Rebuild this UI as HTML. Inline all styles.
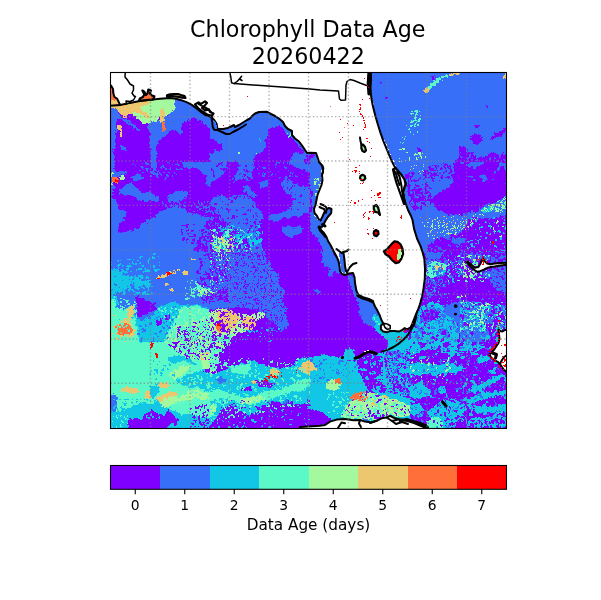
<!DOCTYPE html>
<html><head><meta charset="utf-8"><title>Chlorophyll Data Age</title>
<style>
html,body{margin:0;padding:0;background:#fff;}
body{width:601px;height:600px;overflow:hidden;}
svg{display:block;font-family:"DejaVu Sans","Liberation Sans",sans-serif;}
</style></head><body>
<svg width="601" height="600" viewBox="0 0 601 600">
<rect width="601" height="600" fill="#fff"/>
<defs><clipPath id="ax"><rect x="110.5" y="72.5" width="396" height="356"/></clipPath>
<filter id="jag" x="0" y="0" width="100%" height="100%" filterUnits="userSpaceOnUse" primitiveUnits="userSpaceOnUse" color-interpolation-filters="sRGB">
<feTurbulence type="fractalNoise" baseFrequency="0.35" numOctaves="2" seed="3" result="n"/>
<feDisplacementMap in="SourceGraphic" in2="n" scale="5" xChannelSelector="R" yChannelSelector="G"/>
</filter>
</defs>

<g clip-path="url(#ax)">
<g shape-rendering="crispEdges" filter="url(#jag)">
<rect x="102" y="64" width="108" height="98" fill="#8000ff"/>
<rect x="210" y="64" width="100" height="98" fill="#376ff9"/>
<rect x="310" y="64" width="100" height="98" fill="#ffffff"/>
<rect x="410" y="64" width="108" height="98" fill="#376ff9"/>
<rect x="102" y="162" width="108" height="90" fill="#8000ff"/>
<rect x="210" y="162" width="100" height="90" fill="#8000ff"/>
<rect x="310" y="162" width="100" height="90" fill="#ffffff"/>
<rect x="410" y="162" width="108" height="90" fill="#376ff9"/>
<rect x="102" y="252" width="108" height="90" fill="#376ff9"/>
<rect x="210" y="252" width="100" height="90" fill="#8000ff"/>
<rect x="310" y="252" width="100" height="90" fill="#8000ff"/>
<rect x="410" y="252" width="108" height="90" fill="#8000ff"/>
<rect x="102" y="342" width="108" height="98" fill="#5bf9c7"/>
<rect x="210" y="342" width="100" height="98" fill="#8000ff"/>
<rect x="310" y="342" width="100" height="98" fill="#12c7e6"/>
<rect x="410" y="342" width="108" height="98" fill="#8000ff"/>
<polygon fill="#376ff9" points="110,106.1 117.5,111.1 120,116.1 125,117.8 128.3,120.3 131.6,122.7 136.6,126.9 140,129.4 138.3,131.1 133.3,127.7 126.6,122.7 121.6,119.4 117.5,118.6 115.8,125.2 116.7,131.9 115,138.6 115.8,145.2 113.3,151.9 114.2,162 110,162"/>
<polygon fill="#376ff9" points="147.4,121.9 158.3,121.1 167.4,114.4 174.1,109.4 175.7,99.5 183.2,100.3 189.9,103.3 196.5,107.3 203.2,111.6 210,115.3 210,129.4 206.5,125.2 202.3,121.9 198.2,120.3 193.2,117.8 188.2,119.4 184,122.7 180.7,127.7 183.2,132.7 179.1,134.4 175.7,130.2 170.7,129.4 167.4,134.4 163.2,138.6 158.3,141.9 155.8,147.7 157.4,155.2 154.9,162 150.8,162 151.6,151.9 149.1,141.9 150.8,134.4 148.3,128.6"/>
<polygon fill="#376ff9" points="120,145.2 126.6,147.7 127.5,150.2 121.6,149.4"/>
<polygon fill="#edc76f" points="110,104.4 120,103.6 131.6,102 145.8,99.5 149.9,102.8 145.8,105.3 140.8,107.8 143.3,111.9 149.9,116.1 147.4,117.8 140,113.6 135,111.9 133.3,114.4 129.1,113.6 125.8,117.8 120.8,114.4 116.7,110.3 110,107.3"/>
<polygon fill="#a4f99f" points="145.8,99.5 156.6,98.3 166.6,97.8 175.7,98.6 174.6,109.4 167.4,114.9 164.9,115.6 164.1,107.8 160.7,107.8 159.9,116.1 157.4,121.1 149.9,121.9 147.4,123.9 142.4,123.9 140,120.3 135,116.9 131.6,114.4 135,111.9 140,113.6 147.4,117.8 149.9,116.1 143.3,111.9 140.8,107.8 145.8,105.3 149.9,102.8"/>
<polygon fill="#edc76f" points="160.7,107.8 164.1,107.8 164.9,115.6 163.2,121.9 159.9,121.9 159.9,116.1"/>
<polygon fill="#ff6f39" points="160.7,121.9 164.9,121.9 165.7,131.1 162.4,131.1"/>
<polygon fill="#edc76f" points="116.7,124.9 120,124.9 122.5,129.4 121.6,136.9 120,136.6 120.3,130.2 117.5,128.6"/>
<polygon fill="#ff6f39" points="110,85.6 111.3,85.6 113.7,92 115,97 116.7,98.6 113.3,100.3 110,100.3"/>
<polygon fill="#edc76f" points="110,100.3 113.3,100.3 116.7,98.6 118.3,99.5 120.3,104.1 110,105.8"/>
<polygon fill="#8000ff" points="210,137.7 215,140.2 220,143.5 222.5,146.9 220,151.9 215,150.2 213.3,153.5 210,151.9"/>
<polygon fill="#8000ff" points="268.2,129.4 273.2,126.9 279.9,125.2 283.2,128.6 288.2,136.1 294,139.4 299.9,146.9 304,152.7 299.9,155.2 296.5,151.9 292.4,153.5 289.9,162 251.6,162 254.9,156.9 259.9,153.5 264.9,150.2 266.6,145.2 264.9,140.2 268.2,135.2"/>
<polygon fill="#8000ff" points="306.5,155.2 310,154.4 310,162 304.8,162"/>
<polygon fill="#a4f99f" points="236.6,153.5 239.1,151.9 241.3,153.5 240,155.5 237,155.2"/>
<polygon fill="#5bf9c7" points="287.9,134.4 291.2,132.7 291.5,135.2 288.5,136.6"/>
<polygon fill="#12c7e6" points="259.1,137.7 260.7,137.7 260.7,141.9 259.1,141.9"/>
<polygon fill="#a4f99f" points="254.9,152.2 256.9,152.2 256.9,154.2 254.9,154.2"/>
<polygon fill="#376ff9" points="368.2,72 410,72 410,162 393.2,162 389,151.9 384,140.2 379.9,130.2 376.6,120.3 374.1,108.6 370.7,97 368.6,90.3 367.9,83.6 368.6,78.7"/>
<polygon fill="#376ff9" points="310,153 315.8,153.5 318.3,162 310,162"/>
<polygon fill="#8000ff" points="310,154.4 313.3,154.4 314.2,157.7 310,158.5"/>
<polygon fill="#8000ff" points="384.9,97 388.2,96.1 388.5,98.6 385.2,99.5"/>
<polygon fill="#8000ff" points="379.9,81.2 381.2,81.2 381.2,83.6 379.9,83.6"/>
<polygon fill="#5bf9c7" points="428.3,87.8 431.6,82.8 438.3,77.8 448.3,74.5 449.1,76.2 440,80.3 434.1,85.3 430,89.5"/>
<polygon fill="#edc76f" points="422.5,92 425,88.6 428.3,87.8 430,89.5 426.6,92.8"/>
<polygon fill="#edc76f" points="448.3,73.7 459.9,72.8 459.9,74.5 449.1,75.7"/>
<polygon fill="#8000ff" points="430.8,76.2 435,75.3 435,79.5 431.6,79.5"/>
<polygon fill="#edc76f" points="504,72.8 506.5,72.8 506.5,78.7 504.5,78.7"/>
<polygon fill="#8000ff" points="458.3,146.9 464.9,146 468.2,151.9 473.2,153.5 476.6,158.5 488.2,155.2 493.2,151.9 499.9,155.2 506.5,148.5 506.5,162 454.9,162 459.9,155.2"/>
<polygon fill="#8000ff" points="469.9,138.6 473.2,133.6 476.6,134.4 483.2,137.7 481.5,141.9 476.6,145.2 473.2,143.5"/>
<polygon fill="#8000ff" points="489.9,138.6 494.9,133.6 499.9,131.9 506.5,126.1 506.5,130.2 501.5,135.2 496.5,137.7 491.5,140.2"/>
<polygon fill="#8000ff" points="474.1,126.1 479.1,124.4 479.9,126.1 474.9,128.6"/>
<polygon fill="#8000ff" points="485.7,104.4 488.2,105.3 487.9,107.8 485.7,106.9"/>
<polygon fill="#8000ff" points="417.5,147.7 420,146.9 420.8,153.5 418.3,154.4"/>
<polygon fill="#376ff9" points="110,162 115,162 114.2,168.7 116.7,172 120,170.3 125,171.2 126.6,173.6 121.6,175.3 116.7,177 113.3,182 115,187 113.3,192 111.7,195.3 110,196.9"/>
<polygon fill="#376ff9" points="110,196.9 113.3,197.8 116.7,201.9 118.3,206.1 117.5,209.4 126.6,211.1 125.8,216.9 120.8,222.7 117.5,228.6 118.3,233.5 125,231.9 133.3,230.2 138.3,227.7 143.3,223.6 148.3,219.4 154.9,216.9 159.9,211.9 166.6,208.6 171.6,207.8 176.6,205.3 183.2,208.6 188.2,211.9 193.2,213.6 199.9,215.2 206.5,216.9 210,218.6 210,220.2 204.8,223.6 200.7,228.6 197.4,233.5 200.7,236.9 197.4,241.9 194,248.5 194.9,252 110,252"/>
<polygon fill="#376ff9" points="125.8,184.5 131.6,182.8 137.5,188.6 143.3,192.8 149.9,191.1 152.4,194.4 159.9,197.8 159.1,201.1 151.6,201.1 144.9,201.9 138.3,199.4 131.6,195.3 126.6,194.4 121.6,195.3 118.3,192.8 121.6,188.6"/>
<polygon fill="#376ff9" points="168.2,195.3 174.9,192.8 181.5,190.3 187.4,191.1 188.2,195.3 183.2,199.4 176.6,201.1 171.6,202.8 168.2,201.1"/>
<polygon fill="#376ff9" points="180.7,162 210,162 210,187 205.7,182.8 207.3,177.8 202.3,173.6 199.9,169.5 193.2,167 188.2,169.5 184,166.2"/>
<polygon fill="#376ff9" points="130,177.8 136.6,173.6 140.8,174.5 143.3,178.6 138.3,180.3 133.3,179.5"/>
<polygon fill="#376ff9" points="153.3,172.8 158.3,172 158.6,175 153.6,175.6"/>
<polygon fill="#376ff9" points="150.8,162 156.6,162 157.4,167 154.9,172 151.6,168.7"/>
<polygon fill="#a4f99f" points="120,176.1 124.1,175.3 124.6,178.6 120.8,180.3"/>
<polygon fill="#ff6f39" points="111.7,177 118.3,177.8 118.3,182.8 112.5,182"/>
<polygon fill="#ff0000" points="115,179.5 117.5,179.5 117.5,182.3 115,182.3"/>
<polygon fill="#a4f99f" points="110.8,172 114.2,172.8 113.3,177 110.8,177"/>
<polygon fill="#a4f99f" points="110.8,182.8 113.3,182.8 113.3,185.3 110.8,185.3"/>
<polygon fill="#5bf9c7" points="207.3,241.9 210,241.5 210,244.4 207.8,244.4"/>
<polygon fill="#376ff9" points="210,162 226.6,162 228.3,167 225,172 220,177 215,180.3 210,183.6"/>
<polygon fill="#376ff9" points="239.1,162 254.1,162 254.9,168.7 251.6,175.3 252.4,178.6 248.3,180.3 243.3,178.6 238.3,180.3 233.3,183.6 230,180.3 235,175.3 238.3,168.7"/>
<polygon fill="#376ff9" points="215,196.9 221.6,195.3 228.3,197.8 235,195.3 243.3,194.4 248.3,196.9 253.3,200.3 254.9,205.3 259.9,210.3 263.2,215.2 261.6,221.9 258.3,228.6 258.3,235.2 261.6,240.2 263.2,252 248.3,252 249.9,245.2 246.6,240.2 240,235.2 235,228.6 230,225.2 223.3,220.2 218.3,215.2 213.3,210.3 210,206.9 210,201.9"/>
<polygon fill="#376ff9" points="283.2,178.6 289.9,180.3 296.5,183.6 300.7,187 306.5,185.3 310,188.6 310,211.9 304.8,213.6 299.9,216.9 293.2,215.2 289.9,218.6 284.9,216.9 279.9,220.2 273.2,221.9 268.2,218.6 271.6,215.2 278.2,213.6 284.9,211.9 291.5,206.9 293.2,200.3 289.9,195.3 284.9,192 281.5,185.3"/>
<polygon fill="#376ff9" points="281.5,227.7 288.2,225.2 293.2,228.6 299.9,225.2 303.2,228.6 300.7,233.5 294.9,235.2 291.5,237.7 286.5,235.2 282.4,231.9"/>
<polygon fill="#376ff9" points="289.9,162 303.2,162 310,165.3 310,172 304.8,170.3 299.9,168.7 294.9,167 291.5,164.5"/>
<polygon fill="#376ff9" points="258.3,183.6 264.9,179.5 268.2,180.3 267.4,187 261.6,188.6"/>
<polygon fill="#376ff9" points="243.3,185.3 248.3,187 253.3,192 258.3,195.3 253.3,197.8 247.4,195.3 244.1,190.3"/>
<polygon fill="#12c7e6" points="220,227.7 231.6,227.7 231.6,231.9 220,231.9"/>
<polygon fill="#12c7e6" points="249.9,238.5 261.6,238.5 261.6,244.4 249.9,244.4"/>
<polygon fill="#12c7e6" points="235,235.2 243.3,235.2 244.1,241.9 236.6,243.5"/>
<polygon fill="#a4f99f" points="213.3,238.5 221.6,237.7 228.3,240.2 230,245.2 225,248.5 216.7,249.4 211.7,245.2"/>
<polygon fill="#edc76f" points="220,240.2 225,240.2 226.6,245.2 221.6,246.9"/>
<polygon fill="#376ff9" points="310,162 318.3,162 321.6,165.3 322.5,172 321.6,180.3 319.2,188.6 317.5,195.3 316.7,201.9 314.2,208.6 314.2,213.6 317.5,218.6 320,219.4 318.3,223.6 321.6,227.7 320.8,231.9 325,233.5 327.5,240.2 330.8,246.9 335.8,252 310,252"/>
<polygon fill="#8000ff" points="310,231.9 315,235.2 318.3,240.2 321.6,245.2 323.3,252 310,252"/>
<polygon fill="#8000ff" points="310,188.6 312,190.3 311.7,211.9 310,213.6"/>
<polygon fill="#376ff9" points="393.2,162 410,162 410,213.6 405.7,205.3 403.2,198.6 405.7,187 404.8,180.3 400.7,173.6 396.5,168.7"/>
<polygon fill="#8000ff" points="404.8,175.3 410,172 410,195.3 407.3,193.6 408.2,183.6"/>
<polygon fill="#8000ff" points="456.6,162 506.5,162 506.5,195.3 499.9,200.3 493.2,203.6 484.9,205.3 479.9,207.8 476.6,213.6 471.6,210.3 466.6,213.6 459.9,215.2 453.3,213.6 448.3,215.2 443.3,211.9 438.3,210.3 435,205.3 431.6,201.9 433.3,196.9 438.3,193.6 443.3,190.3 448.3,187 453.3,182 451.6,177 454.9,172 453.3,167"/>
<polygon fill="#8000ff" points="426.6,168.7 433.3,165.3 443.3,163.7 453.3,167 454.9,172 451.6,177 446.6,180.3 441.6,178.6 436.6,182 431.6,180.3 428.3,175.3"/>
<polygon fill="#8000ff" points="410,190.3 416.7,187 425,188.6 431.6,195.3 433.3,200.3 430,205.3 423.3,206.9 418.3,210.3 413.3,208.6 410,203.6"/>
<polygon fill="#8000ff" points="426.6,252 428.3,245.2 433.3,240.2 440,236.9 448.3,240.2 451.6,235.2 458.3,233.5 464.9,228.6 468.2,220.2 474.9,216.9 479.9,218.6 488.2,219.4 496.5,216.9 506.5,215.2 506.5,252"/>
<polygon fill="#376ff9" points="451.6,238.5 461.6,236.9 465.7,241.9 459.9,245.2 453.3,244.4"/>
<polygon fill="#376ff9" points="476.6,211.9 483.2,210.3 503.2,210.3 506.5,211.9 506.5,216.1 496.5,216.9 488.2,219.4 479.9,218.6"/>
<polygon fill="#12c7e6" points="481.5,210.3 484.9,206.9 493.2,206.1 494,209.4 488.2,211.9 483.2,211.9"/>
<polygon fill="#12c7e6" points="110,272 116.7,269.5 123.3,275.3 131.6,277 140,278.6 148.3,281.1 151.6,283.6 148.3,286.9 143.3,285.3 136.6,288.6 130,286.9 123.3,290.3 116.7,293.6 110,293.6"/>
<polygon fill="#12c7e6" points="110,293.6 116.7,296.1 118.3,301.9 116.7,308.6 123.3,310.2 131.6,307.7 135,311.9 136.6,318.6 143.3,320.2 153.3,315.2 156.6,308.6 163.2,305.2 171.6,301.9 179.9,303.6 188.2,305.2 196.5,303.6 203.2,306.9 210,310.2 210,342 110,342"/>
<polygon fill="#8000ff" points="137.5,293.6 140.8,298.6 148.3,301.1 154.9,303.6 155.8,308.6 151.6,312.7 144.9,314.4 140,317.7 136.6,313.6 137.5,306.9 135,301.9"/>
<polygon fill="#8000ff" points="154.9,320.2 161.6,319.4 162.4,325.2 155.8,325.2"/>
<polygon fill="#8000ff" points="164.9,315.2 169.9,314.9 170.2,320.2 165.2,320.6"/>
<polygon fill="#5bf9c7" points="110,300.3 115,298.6 116.7,308.6 123.3,311.1 126.6,308.6 130,310.2 125,315.2 120,318.6 116.7,323.5 113.3,325.2 110,323.5"/>
<polygon fill="#5bf9c7" points="179.9,306.9 188.2,306.9 196.5,305.2 203.2,308.6 210,310.2 210,342 164.9,342 166.6,331.9 173.2,323.5 178.2,315.2"/>
<polygon fill="#5bf9c7" points="110,323.5 116.7,321.9 125,315.2 135,318.6 137.5,330.2 138.3,342 110,342"/>
<polygon fill="#edc76f" points="128.3,306.9 133.3,304.4 135,311.9 131.6,318.6 126.6,323.5 122.5,324.4 120.8,321.9 125,316.9 126.6,311.9"/>
<polygon fill="#edc76f" points="114.2,326 120,321.9 129.1,322.2 134.1,326.9 135,334.4 129.1,337.2 120.8,336.9 114.7,333.2"/>
<polygon fill="#ff6f39" points="115,326.9 120,323.5 126.6,323.5 131.6,326.9 133.3,331.9 128.3,335.2 121.6,335.2 116.7,333.5"/>
<polygon fill="#edc76f" points="156.6,277 166.6,273.6 179.9,268.6 180.7,270.3 168.2,276.1 158.3,279.5"/>
<polygon fill="#ff0000" points="166.6,273.6 172.4,272 173.2,273.6 167.4,275.3"/>
<polygon fill="#ff0000" points="157.4,277.8 160.7,277.5 160.7,278.8 157.4,279"/>
<polygon fill="#edc76f" points="183.2,271.1 188.2,270.6 188.2,274.5 183.5,274.5"/>
<polygon fill="#edc76f" points="190.7,257.8 195.7,257.5 195.7,260.3 191,260.3"/>
<polygon fill="#edc76f" points="164.1,283.6 169.9,283.3 169.9,284.9 164.1,285.3"/>
<polygon fill="#edc76f" points="169.1,289.4 174.1,289.1 174.1,291.1 169.1,291.3"/>
<polygon fill="#376ff9" points="210,252 264.9,252 266.6,258.7 271.6,263.6 273.2,270.3 279.9,275.3 278.2,283.6 284.9,290.3 283.2,300.3 286.5,308.6 286.5,318.6 289.9,325.2 283.2,330.2 276.6,325.2 269.9,320.2 263.2,313.6 256.6,310.2 248.3,308.6 240,306.9 231.6,307.7 223.3,307.7 216.7,308.6 210,308.6"/>
<polygon fill="#a4f99f" points="210,311.9 220,308.6 230,310.2 240,313.6 248.3,315.2 259.9,311.9 266.6,314.4 261.6,318.6 256.6,320.2 253.3,325.2 248.3,330.2 240,333.5 230,338.5 220,340.2 210,342"/>
<polygon fill="#edc76f" points="216.7,311.9 226.6,309.4 235,311.9 240,318.6 236.6,325.2 230,331.9 220,333.5 215,328.5 220,321.9 216.7,316.9"/>
<polygon fill="#edc76f" points="241.6,318.6 248.3,316.1 254.9,318.6 256.6,325.2 251.6,330.2 244.9,328.5 241.6,323.5"/>
<polygon fill="#ff6f39" points="215.8,321.9 221.6,320.2 223.3,326.9 220,331.9 215.8,330.2"/>
<polygon fill="#ff0000" points="216.7,322.7 220,322.2 220.3,326 217,326.4"/>
<polygon fill="#5bf9c7" points="210,333.5 220,335.2 231.6,334.4 230,342 210,342"/>
<polygon fill="#376ff9" points="320,252 332.5,252 336.6,257 340,262 340.8,268.6 339.1,273.6 335,270.3 331.6,277 328.3,273.6 330,268.6 325,267 321.6,262 323.3,257"/>
<polygon fill="#376ff9" points="340.8,252 345.8,252 346.6,270.3 343.3,272.8"/>
<polygon fill="#376ff9" points="357.4,301.9 359.9,297.8 366.6,299.4 373.2,301.9 375.7,308.6 379.9,315.2 381.5,321.9 380.7,327.7 383.2,331 379.9,333.5 376.6,330.2 373.2,326.9 368.2,326.9 363.2,321.9 361.6,316.9 358.3,315.2 359.9,308.6"/>
<polygon fill="#376ff9" points="347.4,273.6 354.1,277 354.9,285.3 358.3,293.6 359.9,298.6 357.4,301.9 354.1,295.3 350.8,286.9 349.1,280.3"/>
<polygon fill="#12c7e6" points="371.6,316.9 375.7,313.6 379.9,316.1 381.5,321.9 380.7,327.7 384,331.9 396.5,331 403.2,329.4 408.2,335.2 410,338.5 410,342 388.2,342 383.2,336.9 378.2,333.5 374.9,328.5 375.7,323.5"/>
<polygon fill="#8000ff" points="407.3,336 410,339.4 410,342 408.2,342"/>
<polygon fill="#376ff9" points="312.5,289.4 317.5,288.6 320.8,292.8 316.7,293.6"/>
<polygon fill="#5bf9c7" points="426.6,263.6 433.3,260.3 440,262 448.3,265.3 446.6,272 440,275.3 433.3,278.6 426.6,277"/>
<polygon fill="#edc76f" points="435,265.3 443.3,265 444.1,269.5 435.8,270.3"/>
<polygon fill="#376ff9" points="464.9,252 506.5,252 506.5,262 493.2,263.6 484.9,264.5 481.5,258.7 476.6,262 469.9,260.3"/>
<polygon fill="#376ff9" points="476.6,272 484.9,270.3 496.5,267 506.5,266.1 506.5,293.6 499.9,291.9 493.2,285.3 486.5,278.6 479.9,277"/>
<polygon fill="#12c7e6" points="420,306.9 430,301.9 440,303.6 448.3,306.9 456.6,308.6 459.9,318.6 456.6,325.2 459.9,331.9 456.6,342 410,342 411.7,330.2 416.7,318.6"/>
<polygon fill="#376ff9" points="443.3,305.2 456.6,301.9 466.6,300.3 476.6,303.6 483.2,306.9 488.2,315.2 484.9,325.2 488.2,335.2 483.2,342 459.9,342 459.9,331.9 458.3,325.2 451.6,318.6 443.3,311.9"/>
<polygon fill="#8000ff" points="421.6,310.2 431.6,308.6 440,311.9 436.6,318.6 426.6,321.9 420,318.6"/>
<polygon fill="#376ff9" points="425,252 443.3,252 440,258.7 430,260.3 425.8,258.7"/>
<polygon fill="#12c7e6" points="168.2,357 179.9,355.3 189.9,358.6 196.5,365.3 189.9,363.6 184.9,360.3 179.9,362 173.2,363.6 168.2,360.3"/>
<polygon fill="#8000ff" points="203.2,367 210,362 210,376.1 205.7,375.3"/>
<polygon fill="#12c7e6" points="176.6,380.3 184.9,375.3 196.5,372 203.2,370.3 210,372 210,391.9 203.2,390.3 196.5,386.9 189.9,388.6 183.2,385.3 178.2,383.6"/>
<polygon fill="#12c7e6" points="149.9,386.9 156.6,384.4 159.9,388.6 158.3,393.6 153.3,398.6 148.3,396.9 149.1,391.9"/>
<polygon fill="#12c7e6" points="110,408.6 116.7,411.9 126.6,408.6 135,405.2 143.3,401.9 149.9,403.6 156.6,401.9 163.2,405.2 169.9,408.6 176.6,411.9 183.2,415.2 189.9,413.5 196.5,415.2 203.2,418.5 210,416.9 210,428.5 110,428.5"/>
<polygon fill="#8000ff" points="128.3,420.2 135,417.7 141.6,420.2 143.3,415.2 151.6,410.2 158.3,413.5 164.9,415.2 168.2,410.2 173.2,413.5 178.2,420.2 176.6,425.2 169.9,423.5 166.6,428.5 128.3,428.5"/>
<polygon fill="#376ff9" points="110,393.6 115.8,394.4 117.5,400.2 116.7,408.6 113.3,411.9 110,411.9"/>
<polygon fill="#a4f99f" points="169.9,373.6 176.6,368.6 183.2,365.3 189.9,367 184.9,373.6 176.6,378.6 173.2,380.3"/>
<polygon fill="#a4f99f" points="159.9,400.2 169.9,396.9 179.9,395.2 188.2,390.3 196.5,388.6 203.2,391.9 210,393.6 210,398.6 203.2,400.2 196.5,398.6 189.9,400.2 181.5,401.9 173.2,403.6 166.6,406.9 159.9,405.2"/>
<polygon fill="#a4f99f" points="199.9,353.6 210,352 210,370.3 203.2,369.5 200.7,362"/>
<polygon fill="#edc76f" points="156.6,383.6 166.6,381.9 171.6,385.3 166.6,388.6 159.9,387.8"/>
<polygon fill="#edc76f" points="154.9,398.6 161.6,395.2 169.9,391.9 176.6,391.9 178.2,395.2 169.9,396.9 159.9,401.1"/>
<polygon fill="#edc76f" points="120,388.6 130,386.9 136.6,388.6 140,391.9 133.3,393.6 126.6,391.9 121.6,392.7"/>
<polygon fill="#edc76f" points="144.1,391.9 149.9,390.3 150.8,397.7 144.9,398.6"/>
<polygon fill="#ff0000" points="149.9,343.7 154.1,342.8 152.4,349.5 149.1,348.7"/>
<polygon fill="#ff0000" points="154.9,352.8 158.3,353.6 157.4,357 154.9,356.1"/>
<polygon fill="#5bf9c7" points="210,342 231,342 228.3,345.7 221.6,352.3 217.7,361.6 216.7,373.6 210,374.9"/>
<polygon fill="#12c7e6" points="210,374.9 217.7,373.6 223.3,370.3 228.3,367 233.3,365.3 240,363.6 248.3,362 254.9,360.3 259.9,363.6 266.6,365.3 273.2,367 279.9,368.6 286.5,367 293.2,365.3 298.2,360.3 303.2,357 310,357 310,398.6 304.8,403.6 298.2,405.2 293.2,403.6 288.2,400.2 281.5,403.6 276.6,400.2 271.6,401.9 266.6,406.9 259.9,408.6 254.9,413.5 248.3,415.2 243.3,411.9 236.6,408.6 230,405.2 225,406.9 220,411.9 216.7,416.9 213.3,421.9 210,423.5"/>
<polygon fill="#8000ff" points="254.9,380.3 261.6,379.4 268.2,381.9 274.9,383.6 271.6,386.9 263.2,387.8 258.3,385.3"/>
<polygon fill="#8000ff" points="240,388.6 249.9,386.9 253.3,389.4 244.9,391.1"/>
<polygon fill="#376ff9" points="215,378.6 220,376.9 226.6,379.4 225,382.8 216.7,382.8"/>
<polygon fill="#5bf9c7" points="230,367 240,365.3 248.3,363.6 251.6,368.6 246.6,375.3 238.3,373.6 231.6,372"/>
<polygon fill="#5bf9c7" points="210,391.9 216.7,388.6 226.6,391.9 236.6,395.2 246.6,398.6 259.9,393.6 269.9,390.3 279.9,388.6 289.9,385.3 299.9,380.3 310,376.9 310,385.3 303.2,390.3 293.2,391.9 283.2,395.2 273.2,398.6 263.2,401.9 253.3,405.2 243.3,403.6 233.3,400.2 223.3,398.6 215,400.2 210,401.9"/>
<polygon fill="#a4f99f" points="240,400.2 249.9,396.9 259.9,395.2 264.9,398.6 256.6,401.9 248.3,404.4 241.6,403.6"/>
<polygon fill="#a4f99f" points="210,405.2 215,403.6 216.7,408.6 213.3,415.2 210,416.9"/>
<polygon fill="#edc76f" points="269.1,369.5 274.9,367.8 279.9,371.1 278.2,375.3 273.2,377.8 269.9,374.4"/>
<polygon fill="#edc76f" points="298.2,367 303.2,362 310,360.3 310,375.3 304.8,373.6 299.9,371.1"/>
<polygon fill="#edc76f" points="251.6,381.1 255.8,380.6 256.3,383.6 251.9,383.9"/>
<polygon fill="#376ff9" points="283.2,400.2 288.2,400.2 288.2,404.4 283.2,403.9"/>
<polygon fill="#8000ff" points="310,342 388.2,342 388.2,346.7 383.2,350.3 376.6,354.5 366.6,356.1 359.9,358.6 354.9,357.5 354.1,350 349.9,348.3 344.9,350 343.3,357.5 330,355.8 323.3,354.1 316.7,355.8 310,357.5"/>
<polygon fill="#8000ff" points="358.3,358.6 366.6,357 376.6,355.3 381.5,358.6 383.2,367 379.9,373.6 376.6,380.3 383.2,383.6 388.2,388.6 383.2,393.6 376.6,391.9 371.6,393.6 366.6,390.3 364.9,383.6 361.6,376.9 358.3,370.3"/>
<polygon fill="#8000ff" points="310,408.6 315,410.2 320,411.9 326.6,415.2 331.6,420.2 328.3,423.5 320,426 310,427.2"/>
<polygon fill="#a4f99f" points="341.6,415.2 344.9,408.6 348.3,401.9 353.3,398.6 359.9,393.6 366.6,391.1 373.2,393.6 379.9,395.2 386.5,396.9 393.2,398.6 399.9,400.2 406.5,403.6 410,405.2 410,415.2 403.2,416.9 396.5,416.9 389.9,415.2 383.2,418.5 376.6,420.2 369.9,419.4 363.2,420.2 356.6,418.5 349.9,418.5 343.3,419.4"/>
<polygon fill="#8000ff" points="371.6,413.5 376.6,411.9 383.2,415.2 388.2,413.5 386.5,418.5 379.9,420.2 373.2,418.5"/>
<polygon fill="#a4f99f" points="325.8,383.6 331.6,379.4 338.3,379.4 341.6,383.6 338.3,389.4 330,390.3 325.8,387.8"/>
<polygon fill="#ff6f39" points="335,378.9 340.8,379.4 341.3,382.8 335.8,382.8"/>
<polygon fill="#ff6f39" points="350.8,396.9 356.6,392.7 364.9,391.9 368.2,396.9 364.9,401.1 356.6,400.2 351.6,399.4"/>
<polygon fill="#edc76f" points="310,362 315,362.8 315.8,369.5 310,371.1"/>
<polygon fill="#376ff9" points="363.2,419.4 368.2,418.5 369.1,421.9 364.1,422.2"/>
<polygon fill="#12c7e6" points="410,342 479.9,342 483.2,347 476.6,352 468.2,353.6 459.9,352 451.6,355.3 443.3,352 435,350.3 426.6,348.7 418.3,352 410,353.6"/>
<polygon fill="#12c7e6" points="410,363.6 420,362 430,365.3 440,363.6 449.9,367 459.9,365.3 464.9,368.6 456.6,373.6 446.6,372 436.6,375.3 426.6,373.6 418.3,375.3 410,373.6"/>
<polygon fill="#12c7e6" points="468.2,390.3 479.9,383.6 489.9,378.6 503.2,373.6 506.5,375.3 496.5,381.9 484.9,388.6 473.2,393.6"/>
<polygon fill="#12c7e6" points="464.9,400.2 476.6,395.2 489.9,391.9 506.5,390.3 506.5,395.2 493.2,396.9 479.9,400.2 469.9,405.2"/>
<polygon fill="#12c7e6" points="426.6,411.9 435,405.2 443.3,400.2 453.3,398.6 463.2,401.9 466.6,408.6 463.2,415.2 456.6,421.9 454.9,428.5 426.6,428.5 430,420.2"/>
<polygon fill="#5bf9c7" points="426.6,421.9 433.3,416.9 440,418.5 443.3,423.5 441.6,428.5 426.6,428.5"/>
<polygon fill="#12c7e6" points="410,385.3 418.3,383.6 426.6,386.9 431.6,391.9 426.6,396.9 418.3,398.6 410,396.9"/>
<polygon fill="#12c7e6" points="410,405.2 416.7,403.6 423.3,406.9 421.6,411.9 415,415.2 410,413.5"/>
<polygon fill="#12c7e6" points="473.2,408.6 483.2,405.2 493.2,406.9 503.2,403.6 506.5,405.2 506.5,411.9 496.5,413.5 486.5,411.9 476.6,413.5"/>
<polygon fill="#12c7e6" points="476.6,357 488.2,355.3 489.9,358.6 483.2,363.6 476.6,362"/>
<polygon fill="#12c7e6" points="466.6,420.2 476.6,416.9 486.5,418.5 496.5,415.2 506.5,416.9 506.5,428.5 466.6,428.5"/>
</g>
<g shape-rendering="crispEdges">
<path fill="#5bf9c7" d="M406 125h1v1h-1zM409 128h1v1h-1zM408 129h2v1h-2z"/>
<path fill="#5bf9c7" d="M405 136h1v1h-1zM402 137h1v1h-1zM404 138h1v1h-1zM404 139h1v1h-1zM400 142h1v1h-1zM403 142h1v1h-1zM402 143h1v1h-1z"/>
<path fill="#a4f99f" d="M402 148h3v1h-3zM399 149h3v1h-3zM403 149h2v1h-2zM406 152h2v1h-2zM409 157h1v1h-1zM399 158h1v1h-1zM409 158h1v1h-1zM409 159h1v1h-1zM405 160h1v1h-1zM409 160h1v1h-1zM399 161h1v1h-1zM401 161h1v1h-1z"/>
<path fill="#5bf9c7" d="M415 110h3v1h-3zM411 111h2v1h-2zM414 111h4v1h-4zM419 111h1v1h-1zM416 112h2v1h-2zM410 113h4v1h-4zM416 113h1v1h-1zM411 114h1v1h-1zM415 114h3v1h-3zM415 115h1v1h-1zM420 115h1v1h-1zM415 116h1v1h-1zM414 117h3v1h-3zM414 118h2v1h-2zM419 118h2v1h-2zM415 119h1v1h-1zM418 119h3v1h-3zM411 120h1v1h-1zM413 120h4v1h-4zM418 120h2v1h-2zM411 121h3v1h-3zM417 121h3v1h-3zM410 122h3v1h-3zM416 122h1v1h-1zM415 123h1v1h-1zM414 124h2v1h-2zM417 124h2v1h-2zM410 125h3v1h-3zM414 125h1v1h-1zM417 125h2v1h-2zM410 126h2v1h-2zM414 126h2v1h-2z"/>
<path fill="#a4f99f" d="M418 152h3v1h-3zM415 153h1v1h-1zM418 153h3v1h-3zM422 153h1v1h-1zM414 154h4v1h-4zM419 154h2v1h-2zM414 155h1v1h-1zM420 155h1v1h-1zM420 156h2v1h-2zM425 156h1v1h-1zM416 157h1v1h-1zM418 157h1v1h-1zM421 157h1v1h-1zM425 157h1v1h-1zM416 158h1v1h-1zM421 158h1v1h-1zM416 159h2v1h-2z"/>
<path fill="#5bf9c7" d="M410 131h1v1h-1zM417 131h1v1h-1zM410 132h1v1h-1zM417 132h1v1h-1zM413 134h1v1h-1z"/>
<path fill="#376ff9" d="M466 149h1v1h-1zM506 149h1v1h-1zM466 150h1v1h-1zM505 150h2v1h-2zM466 151h2v1h-2zM504 151h3v1h-3zM460 152h1v1h-1zM467 152h1v1h-1zM492 152h1v1h-1zM504 152h3v1h-3zM503 153h3v1h-3zM469 154h2v1h-2zM503 154h2v1h-2zM469 155h2v1h-2zM499 155h1v1h-1zM460 156h2v1h-2zM469 156h1v1h-1zM499 156h1v1h-1zM461 157h2v1h-2zM468 157h3v1h-3zM472 157h1v1h-1zM490 157h1v1h-1zM494 157h1v1h-1zM499 157h2v1h-2zM467 158h2v1h-2zM489 158h2v1h-2zM494 158h2v1h-2zM467 159h1v1h-1zM471 159h2v1h-2zM477 159h1v1h-1zM489 159h2v1h-2zM503 159h2v1h-2zM476 160h2v1h-2zM498 160h1v1h-1zM504 160h1v1h-1zM467 161h2v1h-2zM496 161h2v1h-2z"/>
<path fill="#8000ff" d="M186 224h3v1h-3zM193 224h2v1h-2zM181 225h7v1h-7zM186 226h2v1h-2zM186 227h2v1h-2zM181 229h2v1h-2zM188 229h1v1h-1zM181 230h1v1h-1zM186 230h3v1h-3zM191 230h3v1h-3zM181 231h1v1h-1zM186 231h1v1h-1zM191 231h2v1h-2zM181 232h2v1h-2zM182 233h1v1h-1zM187 233h2v1h-2zM190 233h1v1h-1zM181 234h2v1h-2zM188 234h1v1h-1zM193 234h3v1h-3zM194 235h2v1h-2zM189 236h7v1h-7zM183 237h2v1h-2zM182 238h3v1h-3zM187 238h1v1h-1zM194 238h1v1h-1zM182 239h3v1h-3zM186 239h3v1h-3zM192 239h3v1h-3zM182 240h2v1h-2zM186 240h1v1h-1zM192 240h3v1h-3zM194 241h1v1h-1zM186 242h1v1h-1zM191 242h3v1h-3zM191 243h3v1h-3z"/>
<path fill="#376ff9" d="M205 223h1v1h-1zM208 223h1v1h-1zM204 224h2v1h-2zM208 224h2v1h-2zM203 225h1v1h-1zM209 225h1v1h-1zM202 226h2v1h-2zM202 227h4v1h-4zM201 228h5v1h-5zM205 229h3v1h-3zM209 229h1v1h-1zM200 230h1v1h-1zM204 230h6v1h-6zM199 231h2v1h-2zM203 231h2v1h-2zM207 231h3v1h-3zM198 232h5v1h-5zM207 232h1v1h-1zM209 232h1v1h-1zM197 233h4v1h-4zM203 233h5v1h-5zM198 234h4v1h-4zM203 234h4v1h-4zM199 235h3v1h-3zM203 235h2v1h-2zM206 235h4v1h-4zM200 236h1v1h-1zM205 237h2v1h-2zM209 237h1v1h-1zM202 238h2v1h-2zM205 238h2v1h-2zM209 238h1v1h-1zM201 239h2v1h-2zM206 239h4v1h-4zM201 240h2v1h-2zM207 240h2v1h-2zM201 241h5v1h-5zM201 242h5v1h-5zM207 242h3v1h-3zM203 243h2v1h-2zM207 243h3v1h-3zM196 244h2v1h-2zM204 244h2v1h-2zM207 244h3v1h-3zM196 245h1v1h-1zM201 245h1v1h-1zM205 245h1v1h-1zM207 245h3v1h-3zM195 246h2v1h-2zM201 246h1v1h-1zM208 246h2v1h-2zM208 247h2v1h-2zM201 248h1v1h-1zM208 248h2v1h-2zM200 249h1v1h-1zM208 249h2v1h-2zM199 250h2v1h-2zM208 250h2v1h-2zM199 251h5v1h-5zM208 251h2v1h-2z"/>
<path fill="#376ff9" d="M177 200h2v1h-2zM198 200h1v1h-1zM162 201h1v1h-1zM176 201h3v1h-3zM198 201h1v1h-1zM204 201h1v1h-1zM207 201h2v1h-2zM162 202h1v1h-1zM177 202h3v1h-3zM184 202h2v1h-2zM193 202h1v1h-1zM198 202h1v1h-1zM201 202h1v1h-1zM204 202h1v1h-1zM207 202h1v1h-1zM162 203h2v1h-2zM173 203h1v1h-1zM179 203h1v1h-1zM194 203h1v1h-1zM198 203h2v1h-2zM201 203h2v1h-2zM165 204h1v1h-1zM171 204h1v1h-1zM175 204h1v1h-1zM179 204h2v1h-2zM183 204h1v1h-1zM194 204h1v1h-1zM201 204h2v1h-2zM165 205h1v1h-1zM170 205h3v1h-3zM175 205h1v1h-1zM179 205h1v1h-1zM183 205h3v1h-3zM191 205h1v1h-1zM200 205h2v1h-2zM209 205h1v1h-1zM165 206h2v1h-2zM170 206h2v1h-2zM179 206h1v1h-1zM184 206h2v1h-2zM191 206h1v1h-1zM196 206h3v1h-3zM203 206h4v1h-4zM208 206h2v1h-2zM167 207h1v1h-1zM196 207h3v1h-3zM203 207h7v1h-7zM199 208h3v1h-3zM203 208h1v1h-1zM205 208h2v1h-2zM209 208h1v1h-1zM184 209h1v1h-1zM199 209h2v1h-2zM209 209h1v1h-1zM197 210h1v1h-1zM202 210h1v1h-1zM205 210h2v1h-2zM208 210h2v1h-2zM193 211h2v1h-2zM206 211h4v1h-4zM205 212h3v1h-3zM204 215h1v1h-1zM206 215h1v1h-1zM203 216h1v1h-1zM207 217h3v1h-3z"/>
<path fill="#376ff9" d="M145 162h2v1h-2zM167 162h2v1h-2zM133 163h1v1h-1zM142 163h1v1h-1zM145 163h4v1h-4zM169 163h1v1h-1zM177 163h1v1h-1zM132 164h1v1h-1zM146 164h3v1h-3zM155 164h1v1h-1zM172 164h1v1h-1zM175 164h4v1h-4zM135 165h1v1h-1zM162 165h2v1h-2zM178 165h2v1h-2zM140 166h3v1h-3zM161 166h3v1h-3zM141 167h3v1h-3zM160 167h2v1h-2zM163 167h2v1h-2zM170 167h1v1h-1zM142 168h1v1h-1zM145 168h4v1h-4zM161 168h1v1h-1zM165 168h2v1h-2zM170 168h1v1h-1zM176 168h1v1h-1zM180 168h2v1h-2zM143 169h1v1h-1zM146 169h2v1h-2zM150 169h1v1h-1zM165 169h2v1h-2zM169 169h2v1h-2zM176 169h4v1h-4zM181 169h2v1h-2zM139 170h2v1h-2zM146 170h2v1h-2zM156 170h1v1h-1zM158 170h1v1h-1zM147 171h1v1h-1zM150 171h4v1h-4zM157 171h2v1h-2zM142 172h2v1h-2zM151 172h3v1h-3zM159 172h1v1h-1zM163 172h2v1h-2zM168 172h2v1h-2zM174 172h1v1h-1zM151 173h3v1h-3zM159 173h2v1h-2zM174 173h1v1h-1zM153 174h1v1h-1zM156 174h2v1h-2zM160 174h2v1h-2zM166 174h2v1h-2zM176 174h1v1h-1zM150 175h2v1h-2zM156 175h2v1h-2zM161 175h1v1h-1zM166 175h3v1h-3zM172 175h1v1h-1zM150 176h2v1h-2zM156 176h2v1h-2zM167 176h2v1h-2zM172 176h1v1h-1zM157 177h2v1h-2zM165 177h2v1h-2zM165 178h1v1h-1zM164 179h2v1h-2z"/>
<path fill="#8000ff" d="M237 195h1v1h-1zM236 196h2v1h-2zM239 196h2v1h-2zM244 196h1v1h-1zM233 197h4v1h-4zM244 197h1v1h-1zM220 198h1v1h-1zM228 198h2v1h-2zM234 198h3v1h-3zM243 198h1v1h-1zM248 198h2v1h-2zM228 199h2v1h-2zM235 199h1v1h-1zM231 200h2v1h-2zM222 201h1v1h-1zM231 201h2v1h-2zM230 202h3v1h-3zM214 203h3v1h-3zM210 204h1v1h-1zM214 204h3v1h-3zM225 204h1v1h-1zM227 204h2v1h-2zM228 205h1v1h-1zM252 205h1v1h-1zM210 206h2v1h-2zM252 206h2v1h-2zM210 207h5v1h-5zM221 207h1v1h-1zM242 207h2v1h-2zM253 207h1v1h-1zM211 208h5v1h-5zM222 208h1v1h-1zM226 208h2v1h-2zM210 209h1v1h-1zM214 209h2v1h-2zM218 209h1v1h-1zM226 209h5v1h-5zM236 209h1v1h-1zM248 209h1v1h-1zM250 209h1v1h-1zM210 210h1v1h-1zM228 210h2v1h-2zM236 210h2v1h-2zM247 210h2v1h-2zM250 210h1v1h-1zM218 211h1v1h-1zM228 211h1v1h-1zM250 211h1v1h-1zM218 212h1v1h-1zM228 212h2v1h-2zM244 213h2v1h-2zM255 213h2v1h-2zM213 214h1v1h-1zM219 214h1v1h-1zM242 214h5v1h-5zM219 215h2v1h-2zM232 215h3v1h-3zM253 215h1v1h-1zM256 215h1v1h-1zM220 216h1v1h-1zM232 216h3v1h-3zM236 216h2v1h-2zM253 216h1v1h-1zM257 216h1v1h-1zM220 217h1v1h-1zM228 217h1v1h-1zM232 217h3v1h-3zM253 217h1v1h-1zM220 218h1v1h-1zM227 218h2v1h-2zM231 218h2v1h-2zM234 218h1v1h-1zM246 218h1v1h-1zM214 219h1v1h-1zM220 219h1v1h-1zM243 219h1v1h-1zM246 219h2v1h-2zM255 219h2v1h-2zM216 220h1v1h-1zM220 220h1v1h-1zM247 220h1v1h-1zM261 220h2v1h-2zM214 221h3v1h-3zM220 221h1v1h-1zM250 221h1v1h-1zM254 221h2v1h-2zM259 221h2v1h-2zM214 222h1v1h-1zM229 222h2v1h-2zM239 222h1v1h-1zM247 222h1v1h-1zM253 222h3v1h-3zM259 222h2v1h-2zM213 223h2v1h-2zM238 223h1v1h-1zM243 223h1v1h-1zM245 223h3v1h-3zM254 223h2v1h-2zM213 224h2v1h-2zM246 224h1v1h-1zM255 224h1v1h-1zM257 224h2v1h-2zM213 225h2v1h-2zM250 225h3v1h-3zM258 225h2v1h-2zM216 226h1v1h-1zM224 226h1v1h-1zM250 226h3v1h-3zM255 226h2v1h-2zM259 226h1v1h-1zM217 227h1v1h-1zM224 227h1v1h-1zM231 227h1v1h-1zM251 227h1v1h-1zM255 227h1v1h-1zM259 227h1v1h-1zM249 228h2v1h-2zM236 229h1v1h-1zM248 229h2v1h-2zM252 229h1v1h-1zM248 230h2v1h-2zM252 230h2v1h-2zM256 230h2v1h-2zM232 231h2v1h-2zM248 231h1v1h-1zM253 231h1v1h-1zM255 231h4v1h-4zM217 232h1v1h-1zM225 232h1v1h-1zM247 232h2v1h-2zM256 232h1v1h-1zM216 233h3v1h-3zM256 233h1v1h-1zM217 234h3v1h-3zM245 234h1v1h-1zM217 235h2v1h-2zM220 235h2v1h-2zM224 235h2v1h-2zM242 235h1v1h-1zM226 236h1v1h-1zM237 236h1v1h-1zM240 236h2v1h-2zM255 236h2v1h-2zM219 237h2v1h-2zM226 237h2v1h-2zM237 237h2v1h-2zM240 237h1v1h-1zM256 237h1v1h-1zM226 238h1v1h-1zM256 238h1v1h-1zM215 239h1v1h-1zM227 239h1v1h-1zM243 239h4v1h-4zM256 239h2v1h-2zM214 240h1v1h-1zM226 240h2v1h-2zM231 240h1v1h-1zM242 240h5v1h-5zM227 241h7v1h-7zM242 241h1v1h-1zM229 242h1v1h-1zM252 242h2v1h-2zM215 243h1v1h-1zM244 243h1v1h-1zM247 243h1v1h-1zM252 243h2v1h-2zM219 244h1v1h-1zM228 244h1v1h-1zM241 244h1v1h-1zM244 244h5v1h-5zM253 244h1v1h-1zM222 245h1v1h-1zM233 245h1v1h-1zM235 245h1v1h-1zM240 245h2v1h-2zM243 245h5v1h-5zM262 245h1v1h-1zM214 246h4v1h-4zM222 246h1v1h-1zM234 246h2v1h-2zM240 246h1v1h-1zM243 246h3v1h-3zM215 247h3v1h-3zM228 247h1v1h-1zM237 247h1v1h-1zM256 247h3v1h-3zM215 248h5v1h-5zM241 248h1v1h-1zM247 248h3v1h-3zM256 248h2v1h-2zM215 249h7v1h-7zM233 249h1v1h-1zM240 249h1v1h-1zM247 249h4v1h-4zM227 250h1v1h-1zM240 250h1v1h-1zM250 251h1v1h-1zM262 251h1v1h-1z"/>
<path fill="#8000ff" d="M210 209h3v1h-3zM212 210h1v1h-1zM213 212h2v1h-2zM216 213h1v1h-1zM216 214h1v1h-1zM212 215h1v1h-1zM215 215h3v1h-3zM213 216h1v1h-1zM215 216h2v1h-2zM210 217h1v1h-1zM214 217h1v1h-1zM222 218h1v1h-1zM223 219h1v1h-1zM211 220h3v1h-3zM219 220h1v1h-1zM223 220h1v1h-1zM211 221h1v1h-1zM219 221h1v1h-1zM223 221h3v1h-3zM214 222h3v1h-3zM224 222h3v1h-3zM214 223h2v1h-2zM224 223h1v1h-1zM226 223h2v1h-2zM215 224h1v1h-1zM223 224h2v1h-2zM227 224h2v1h-2zM210 225h1v1h-1zM226 225h4v1h-4zM210 226h3v1h-3zM226 226h1v1h-1zM228 226h3v1h-3zM210 227h3v1h-3zM217 227h1v1h-1zM224 227h1v1h-1zM227 227h4v1h-4zM214 228h2v1h-2zM217 228h1v1h-1zM228 228h1v1h-1zM231 228h1v1h-1zM214 229h4v1h-4zM226 229h1v1h-1zM230 229h1v1h-1zM211 230h7v1h-7zM220 230h1v1h-1zM224 230h3v1h-3zM229 230h2v1h-2zM210 231h1v1h-1zM213 231h2v1h-2zM219 231h2v1h-2zM225 231h6v1h-6zM232 231h2v1h-2zM210 232h2v1h-2zM219 232h2v1h-2zM228 232h2v1h-2zM231 232h4v1h-4zM210 233h5v1h-5zM228 233h1v1h-1zM230 233h5v1h-5zM211 234h4v1h-4zM229 234h2v1h-2zM232 234h2v1h-2zM229 235h2v1h-2zM232 235h2v1h-2zM211 236h1v1h-1zM220 236h1v1h-1zM235 236h1v1h-1zM211 237h3v1h-3zM220 237h1v1h-1zM223 237h1v1h-1zM212 238h3v1h-3zM220 238h1v1h-1zM223 238h2v1h-2zM236 238h1v1h-1zM213 239h2v1h-2zM226 239h4v1h-4zM236 239h1v1h-1zM239 239h1v1h-1zM227 240h2v1h-2zM214 241h2v1h-2zM227 241h1v1h-1zM236 241h2v1h-2zM240 241h1v1h-1zM224 242h2v1h-2zM232 242h1v1h-1zM235 242h7v1h-7zM213 243h1v1h-1zM223 243h1v1h-1zM232 243h2v1h-2zM235 243h1v1h-1zM238 243h1v1h-1zM241 243h1v1h-1zM210 244h4v1h-4zM238 244h2v1h-2zM215 245h1v1h-1zM217 245h2v1h-2zM230 245h1v1h-1zM233 245h1v1h-1zM238 245h1v1h-1zM240 245h4v1h-4zM216 246h3v1h-3zM225 246h2v1h-2zM229 246h3v1h-3zM240 246h3v1h-3zM216 247h1v1h-1zM224 247h3v1h-3zM229 247h3v1h-3zM238 247h1v1h-1zM241 247h3v1h-3zM224 248h2v1h-2zM230 248h3v1h-3zM242 248h2v1h-2zM212 249h2v1h-2zM224 249h4v1h-4zM230 249h1v1h-1zM241 249h3v1h-3zM212 250h2v1h-2zM224 250h2v1h-2zM234 250h3v1h-3zM238 250h1v1h-1zM241 250h2v1h-2zM212 251h1v1h-1zM217 251h2v1h-2zM224 251h3v1h-3zM230 251h2v1h-2zM238 251h5v1h-5z"/>
<path fill="#376ff9" d="M211 210h1v1h-1zM210 211h3v1h-3zM210 212h1v1h-1zM212 212h2v1h-2zM212 213h2v1h-2zM216 213h1v1h-1zM213 214h1v1h-1zM211 216h1v1h-1zM219 216h1v1h-1zM211 217h3v1h-3zM215 217h2v1h-2zM219 217h1v1h-1zM221 217h1v1h-1zM210 218h4v1h-4zM219 218h3v1h-3zM210 219h3v1h-3zM219 219h3v1h-3zM211 220h2v1h-2zM220 220h1v1h-1zM222 220h1v1h-1zM221 221h1v1h-1zM224 221h1v1h-1zM210 222h2v1h-2zM215 222h1v1h-1zM215 223h4v1h-4zM226 223h1v1h-1zM215 224h1v1h-1zM218 224h1v1h-1zM226 224h1v1h-1zM212 225h2v1h-2zM226 225h1v1h-1zM210 226h1v1h-1zM226 226h1v1h-1zM215 227h1v1h-1zM218 227h3v1h-3zM226 227h4v1h-4zM214 228h1v1h-1zM218 228h7v1h-7zM226 228h1v1h-1zM228 228h3v1h-3zM210 229h1v1h-1zM212 229h3v1h-3zM220 229h2v1h-2zM213 230h1v1h-1zM215 231h2v1h-2zM224 231h1v1h-1zM211 232h1v1h-1zM215 232h1v1h-1zM223 232h2v1h-2zM229 232h2v1h-2zM211 233h1v1h-1zM215 233h1v1h-1zM223 233h1v1h-1zM232 233h2v1h-2zM210 234h2v1h-2zM215 234h2v1h-2zM222 234h3v1h-3zM229 234h1v1h-1zM233 234h3v1h-3zM215 235h2v1h-2zM223 235h2v1h-2zM228 235h1v1h-1zM233 235h3v1h-3zM213 236h5v1h-5zM223 236h1v1h-1zM232 236h4v1h-4zM237 236h1v1h-1zM213 237h4v1h-4zM226 237h1v1h-1zM232 237h6v1h-6zM213 238h3v1h-3zM225 238h2v1h-2zM236 238h1v1h-1zM213 239h2v1h-2zM217 239h1v1h-1zM221 239h2v1h-2zM225 239h2v1h-2zM231 239h1v1h-1zM235 239h2v1h-2zM217 240h1v1h-1zM220 240h3v1h-3zM230 240h2v1h-2zM235 240h2v1h-2zM239 240h1v1h-1zM217 241h1v1h-1zM220 241h2v1h-2zM231 241h1v1h-1zM235 241h2v1h-2zM239 241h2v1h-2zM210 242h2v1h-2zM214 242h2v1h-2zM217 242h1v1h-1zM240 242h2v1h-2zM210 243h6v1h-6zM217 243h3v1h-3zM221 243h3v1h-3zM241 243h1v1h-1zM211 244h2v1h-2zM217 244h3v1h-3zM221 244h3v1h-3zM227 244h2v1h-2zM234 244h4v1h-4zM241 244h2v1h-2zM213 245h1v1h-1zM217 245h4v1h-4zM225 245h2v1h-2zM234 245h4v1h-4zM242 245h2v1h-2zM213 246h1v1h-1zM217 246h2v1h-2zM220 246h5v1h-5zM233 246h2v1h-2zM243 246h2v1h-2zM213 247h3v1h-3zM221 247h4v1h-4zM241 247h3v1h-3zM214 248h4v1h-4zM222 248h5v1h-5zM236 248h2v1h-2zM241 248h1v1h-1zM244 248h1v1h-1zM214 249h3v1h-3zM222 249h1v1h-1zM224 249h3v1h-3zM228 249h5v1h-5zM234 249h3v1h-3zM239 249h3v1h-3zM244 249h1v1h-1zM214 250h3v1h-3zM224 250h3v1h-3zM228 250h3v1h-3zM233 250h3v1h-3zM241 250h1v1h-1zM244 250h1v1h-1zM216 251h3v1h-3zM223 251h3v1h-3zM229 251h1v1h-1zM233 251h3v1h-3zM239 251h2v1h-2zM242 251h6v1h-6z"/>
<path fill="#12c7e6" d="M217 225h1v1h-1zM220 225h1v1h-1zM228 225h1v1h-1zM231 225h3v1h-3zM257 225h3v1h-3zM220 226h2v1h-2zM227 226h4v1h-4zM232 226h3v1h-3zM258 226h2v1h-2zM218 227h3v1h-3zM232 227h1v1h-1zM238 227h2v1h-2zM252 227h1v1h-1zM258 227h2v1h-2zM220 228h1v1h-1zM226 229h1v1h-1zM230 229h1v1h-1zM233 229h1v1h-1zM247 229h2v1h-2zM251 229h2v1h-2zM230 230h1v1h-1zM234 230h1v1h-1zM252 230h1v1h-1zM219 231h4v1h-4zM256 231h3v1h-3zM262 231h1v1h-1zM228 232h2v1h-2zM256 232h4v1h-4zM262 232h1v1h-1zM224 233h2v1h-2zM245 233h2v1h-2zM249 233h4v1h-4zM257 233h4v1h-4zM262 233h1v1h-1zM223 234h3v1h-3zM240 234h1v1h-1zM245 234h8v1h-8zM255 234h2v1h-2zM258 234h1v1h-1zM212 235h2v1h-2zM222 235h1v1h-1zM227 235h1v1h-1zM245 235h1v1h-1zM247 235h2v1h-2zM251 235h2v1h-2zM256 235h1v1h-1zM258 235h1v1h-1zM212 236h1v1h-1zM227 236h1v1h-1zM229 236h1v1h-1zM235 236h3v1h-3zM243 236h3v1h-3zM247 236h1v1h-1zM252 236h1v1h-1zM256 236h1v1h-1zM226 237h4v1h-4zM236 237h3v1h-3zM243 237h2v1h-2zM247 237h1v1h-1zM252 237h1v1h-1zM255 237h1v1h-1zM214 238h1v1h-1zM222 238h5v1h-5zM237 238h2v1h-2zM247 238h1v1h-1zM252 238h1v1h-1zM213 239h2v1h-2zM225 239h2v1h-2zM261 239h2v1h-2zM218 240h1v1h-1zM231 240h1v1h-1zM235 240h1v1h-1zM237 240h3v1h-3zM249 240h2v1h-2zM214 241h2v1h-2zM219 241h2v1h-2zM231 241h1v1h-1zM235 241h5v1h-5zM250 241h1v1h-1zM212 242h3v1h-3zM219 242h2v1h-2zM224 242h1v1h-1zM233 242h2v1h-2zM237 242h1v1h-1zM240 242h1v1h-1zM250 242h1v1h-1zM212 243h1v1h-1zM220 243h2v1h-2zM224 243h1v1h-1zM229 243h1v1h-1zM240 243h1v1h-1zM221 244h2v1h-2zM244 244h3v1h-3zM254 244h2v1h-2zM212 245h1v1h-1zM215 245h3v1h-3zM221 245h2v1h-2zM235 245h1v1h-1zM241 245h1v1h-1zM244 245h1v1h-1zM250 245h2v1h-2zM212 246h1v1h-1zM215 246h1v1h-1zM221 246h1v1h-1zM232 246h1v1h-1zM241 246h2v1h-2zM250 246h3v1h-3zM254 246h1v1h-1zM212 247h1v1h-1zM220 247h3v1h-3zM231 247h1v1h-1zM241 247h2v1h-2zM246 247h2v1h-2zM212 248h1v1h-1zM216 248h2v1h-2zM219 248h4v1h-4zM225 248h2v1h-2zM231 248h1v1h-1zM233 248h1v1h-1zM242 248h1v1h-1zM216 249h2v1h-2zM225 249h2v1h-2zM233 249h1v1h-1zM238 249h1v1h-1zM243 249h1v1h-1zM251 249h1v1h-1zM262 249h1v1h-1zM217 250h2v1h-2zM225 250h3v1h-3zM238 250h2v1h-2zM243 250h3v1h-3zM219 251h2v1h-2zM225 251h2v1h-2zM237 251h3v1h-3z"/>
<path fill="#5bf9c7" d="M210 229h1v1h-1zM213 229h3v1h-3zM228 229h4v1h-4zM237 229h1v1h-1zM240 229h1v1h-1zM211 230h5v1h-5zM227 230h2v1h-2zM240 230h3v1h-3zM213 231h2v1h-2zM225 231h4v1h-4zM243 231h1v1h-1zM216 232h2v1h-2zM225 232h4v1h-4zM238 232h1v1h-1zM244 232h1v1h-1zM217 233h1v1h-1zM226 233h3v1h-3zM213 234h1v1h-1zM226 234h3v1h-3zM251 234h1v1h-1zM224 235h7v1h-7zM250 235h2v1h-2zM216 236h1v1h-1zM223 236h5v1h-5zM234 236h1v1h-1zM248 236h2v1h-2zM214 237h3v1h-3zM223 237h2v1h-2zM233 237h2v1h-2zM247 237h3v1h-3zM216 238h1v1h-1zM234 238h1v1h-1zM238 238h2v1h-2zM216 239h1v1h-1zM227 239h1v1h-1zM229 239h2v1h-2zM233 239h1v1h-1zM241 239h1v1h-1zM214 240h2v1h-2zM227 240h1v1h-1zM233 240h1v1h-1zM240 240h2v1h-2zM225 241h1v1h-1zM239 241h4v1h-4zM239 242h4v1h-4zM223 243h2v1h-2zM232 243h1v1h-1zM238 243h2v1h-2zM223 244h2v1h-2zM231 244h2v1h-2zM238 244h1v1h-1zM223 245h1v1h-1zM233 245h1v1h-1zM237 245h1v1h-1zM250 245h1v1h-1zM215 246h4v1h-4zM223 246h3v1h-3zM227 246h2v1h-2zM236 246h2v1h-2zM245 246h1v1h-1zM214 247h5v1h-5zM224 247h2v1h-2zM227 247h1v1h-1zM236 247h2v1h-2zM245 247h1v1h-1zM212 248h2v1h-2zM217 248h3v1h-3zM223 248h2v1h-2zM232 248h2v1h-2zM249 248h2v1h-2zM213 249h6v1h-6zM250 249h1v1h-1zM216 250h3v1h-3zM246 250h2v1h-2zM216 251h4v1h-4zM246 251h1v1h-1zM251 251h1v1h-1z"/>
<path fill="#a4f99f" d="M212 235h2v1h-2zM228 235h1v1h-1zM231 235h1v1h-1zM213 236h2v1h-2zM221 236h1v1h-1zM228 236h1v1h-1zM213 237h2v1h-2zM221 237h2v1h-2zM220 238h2v1h-2zM220 239h2v1h-2zM231 239h1v1h-1zM211 240h2v1h-2zM224 240h1v1h-1zM227 240h2v1h-2zM214 241h1v1h-1zM219 241h1v1h-1zM224 241h5v1h-5zM213 242h3v1h-3zM219 242h2v1h-2zM223 242h2v1h-2zM213 243h1v1h-1zM219 243h2v1h-2zM222 243h2v1h-2zM212 244h2v1h-2zM220 244h1v1h-1zM222 244h2v1h-2zM227 244h2v1h-2zM213 245h1v1h-1zM219 245h2v1h-2zM227 245h2v1h-2zM214 246h2v1h-2zM219 246h2v1h-2zM227 246h2v1h-2zM232 246h2v1h-2zM215 247h2v1h-2zM218 247h3v1h-3zM227 247h2v1h-2zM232 247h1v1h-1zM217 248h4v1h-4zM215 249h1v1h-1zM217 249h3v1h-3zM224 249h4v1h-4zM232 249h1v1h-1zM214 250h2v1h-2zM219 250h1v1h-1zM226 250h1v1h-1zM230 250h1v1h-1zM232 250h1v1h-1zM216 251h1v1h-1zM218 251h3v1h-3zM226 251h5v1h-5zM233 251h1v1h-1z"/>
<path fill="#edc76f" d="M213 237h2v1h-2zM219 238h2v1h-2zM222 238h2v1h-2zM230 238h3v1h-3zM222 239h2v1h-2zM230 239h2v1h-2zM222 240h2v1h-2zM231 240h1v1h-1zM223 241h1v1h-1zM210 243h2v1h-2zM230 244h2v1h-2zM231 245h2v1h-2zM217 246h1v1h-1zM232 246h1v1h-1zM216 247h2v1h-2zM224 247h1v1h-1zM229 249h1v1h-1zM229 250h1v1h-1zM226 251h1v1h-1z"/>
<path fill="#8000ff" d="M221 162h2v1h-2zM218 163h4v1h-4zM218 164h2v1h-2zM221 164h1v1h-1zM252 164h1v1h-1zM216 165h3v1h-3zM222 165h1v1h-1zM226 165h2v1h-2zM230 165h2v1h-2zM239 165h2v1h-2zM245 165h2v1h-2zM216 166h2v1h-2zM226 166h2v1h-2zM229 166h3v1h-3zM245 166h2v1h-2zM253 166h1v1h-1zM230 167h2v1h-2zM211 168h1v1h-1zM220 168h2v1h-2zM223 168h4v1h-4zM211 169h2v1h-2zM221 169h7v1h-7zM238 169h1v1h-1zM243 169h2v1h-2zM246 169h1v1h-1zM211 170h1v1h-1zM213 170h1v1h-1zM223 170h2v1h-2zM226 170h1v1h-1zM244 170h1v1h-1zM246 170h2v1h-2zM213 171h1v1h-1zM228 171h1v1h-1zM245 171h5v1h-5zM213 172h1v1h-1zM227 172h2v1h-2zM234 172h2v1h-2zM247 172h1v1h-1zM213 173h1v1h-1zM227 173h2v1h-2zM235 173h1v1h-1zM240 173h1v1h-1zM213 174h1v1h-1zM239 174h1v1h-1zM243 174h3v1h-3zM213 175h2v1h-2zM244 175h2v1h-2zM213 176h2v1h-2zM229 176h1v1h-1zM242 176h1v1h-1zM244 176h1v1h-1zM247 176h1v1h-1zM225 177h1v1h-1zM234 177h1v1h-1zM247 177h3v1h-3zM218 178h3v1h-3zM230 178h1v1h-1zM234 178h1v1h-1zM248 178h3v1h-3zM219 179h4v1h-4zM230 179h2v1h-2zM233 179h2v1h-2zM239 179h2v1h-2zM248 179h3v1h-3zM221 180h2v1h-2zM224 180h1v1h-1zM226 180h1v1h-1zM232 180h3v1h-3zM238 180h2v1h-2zM242 180h1v1h-1zM212 181h1v1h-1zM226 181h2v1h-2zM232 181h2v1h-2zM211 182h2v1h-2z"/>
<path fill="#376ff9" d="M276 162h4v1h-4zM283 162h1v1h-1zM287 162h1v1h-1zM296 162h1v1h-1zM300 162h2v1h-2zM307 162h2v1h-2zM276 163h1v1h-1zM279 163h1v1h-1zM283 163h1v1h-1zM287 163h1v1h-1zM289 163h1v1h-1zM296 163h1v1h-1zM301 163h1v1h-1zM307 163h1v1h-1zM258 164h1v1h-1zM275 164h2v1h-2zM289 164h1v1h-1zM295 164h2v1h-2zM301 164h2v1h-2zM275 165h1v1h-1zM295 165h2v1h-2zM301 165h2v1h-2zM307 165h2v1h-2zM259 166h1v1h-1zM284 166h1v1h-1zM295 166h2v1h-2zM302 166h1v1h-1zM305 166h2v1h-2zM262 167h4v1h-4zM275 167h1v1h-1zM284 167h3v1h-3zM305 167h2v1h-2zM257 168h1v1h-1zM263 168h3v1h-3zM285 168h2v1h-2zM305 168h1v1h-1zM257 169h1v1h-1zM305 169h1v1h-1zM288 170h1v1h-1zM267 171h1v1h-1zM270 171h1v1h-1zM278 171h1v1h-1zM263 172h1v1h-1zM290 172h2v1h-2zM293 172h1v1h-1zM258 173h2v1h-2zM262 173h1v1h-1zM264 173h2v1h-2zM272 173h1v1h-1zM290 173h1v1h-1zM292 173h1v1h-1zM262 174h1v1h-1zM264 174h2v1h-2zM271 174h2v1h-2zM275 174h1v1h-1zM292 174h1v1h-1zM302 174h1v1h-1zM262 175h3v1h-3zM271 175h1v1h-1zM289 175h2v1h-2zM295 175h1v1h-1zM262 176h3v1h-3zM285 176h2v1h-2zM289 176h2v1h-2zM292 176h1v1h-1zM295 176h3v1h-3zM279 177h2v1h-2zM285 177h3v1h-3zM279 178h1v1h-1zM284 178h3v1h-3z"/>
<path fill="#8000ff" d="M287 182h1v1h-1zM292 182h3v1h-3zM293 183h1v1h-1zM292 185h1v1h-1zM294 185h1v1h-1zM292 186h1v1h-1zM294 186h1v1h-1zM287 187h1v1h-1zM291 187h1v1h-1zM287 188h1v1h-1zM290 188h2v1h-2zM308 188h2v1h-2zM289 189h1v1h-1zM304 189h1v1h-1zM289 190h1v1h-1zM291 192h1v1h-1zM284 193h1v1h-1zM283 194h1v1h-1zM295 194h1v1h-1zM301 194h1v1h-1zM283 195h1v1h-1zM291 195h1v1h-1zM300 195h2v1h-2zM290 196h2v1h-2zM299 196h3v1h-3zM289 198h1v1h-1zM295 198h1v1h-1zM288 199h3v1h-3zM294 199h2v1h-2zM283 200h1v1h-1zM288 200h1v1h-1zM290 200h2v1h-2zM284 201h1v1h-1zM291 201h1v1h-1zM285 202h3v1h-3zM298 202h3v1h-3zM285 203h2v1h-2zM303 203h1v1h-1zM285 204h2v1h-2zM303 204h1v1h-1zM286 205h1v1h-1zM309 207h1v1h-1zM309 208h1v1h-1zM297 209h2v1h-2zM309 209h1v1h-1z"/>
<path fill="#a4f99f" d="M315 178h1v1h-1zM317 178h2v1h-2zM314 179h1v1h-1zM316 179h3v1h-3zM318 180h1v1h-1zM314 181h3v1h-3zM314 182h2v1h-2zM314 183h2v1h-2zM314 184h2v1h-2zM318 184h2v1h-2zM319 185h1v1h-1zM319 186h1v1h-1zM319 187h1v1h-1zM316 189h3v1h-3zM318 192h1v1h-1zM315 193h4v1h-4zM315 194h4v1h-4zM315 195h1v1h-1z"/>
<path fill="#ff0000" d="M352 165h1v1h-1zM357 166h2v1h-2zM357 167h2v1h-2zM357 168h1v1h-1zM356 169h2v1h-2zM356 170h2v1h-2zM352 171h2v1h-2zM353 172h2v1h-2z"/>
<path fill="#ff0000" d="M372 190h1v1h-1zM376 190h1v1h-1zM376 191h1v1h-1zM376 192h2v1h-2zM377 193h1v1h-1zM379 193h2v1h-2zM372 194h2v1h-2zM375 199h1v1h-1zM372 200h1v1h-1zM370 202h1v1h-1zM377 202h1v1h-1z"/>
<path fill="#ff0000" d="M352 199h2v1h-2z"/>
<path fill="#ff0000" d="M371 211h3v1h-3zM366 217h1v1h-1zM366 218h1v1h-1zM373 218h1v1h-1z"/>
<path fill="#ff0000" d="M355 179h1v1h-1zM359 180h2v1h-2zM366 183h1v1h-1z"/>
<path fill="#ff0000" d="M379 166h1v1h-1zM379 171h1v1h-1zM375 172h1v1h-1zM386 173h1v1h-1z"/>
<path fill="#ff0000" d="M400 217h1v1h-1zM400 218h1v1h-1zM400 219h1v1h-1z"/>
<path fill="#ff0000" d="M370 226h3v1h-3zM368 237h1v1h-1zM369 239h1v1h-1z"/>
<path fill="#376ff9" d="M460 162h4v1h-4zM470 162h14v1h-14zM500 162h2v1h-2zM461 163h3v1h-3zM469 163h15v1h-15zM499 163h8v1h-8zM466 164h1v1h-1zM468 164h14v1h-14zM499 164h8v1h-8zM467 165h13v1h-13zM499 165h7v1h-7zM468 166h3v1h-3zM473 166h4v1h-4zM499 166h2v1h-2zM504 166h2v1h-2zM469 167h1v1h-1zM473 167h3v1h-3zM498 167h2v1h-2zM504 167h3v1h-3zM473 168h3v1h-3zM497 168h3v1h-3zM504 168h3v1h-3zM487 169h1v1h-1zM497 169h3v1h-3zM505 169h2v1h-2zM497 170h2v1h-2zM505 170h2v1h-2zM494 171h2v1h-2zM494 172h2v1h-2zM494 173h1v1h-1zM483 174h1v1h-1zM480 175h6v1h-6zM468 176h5v1h-5zM479 176h7v1h-7zM471 177h2v1h-2zM480 177h7v1h-7zM482 178h5v1h-5zM473 179h2v1h-2zM483 179h5v1h-5zM492 179h2v1h-2zM473 180h3v1h-3zM482 180h4v1h-4zM482 181h3v1h-3zM505 183h2v1h-2z"/>
<path fill="#376ff9" d="M438 164h2v1h-2zM442 164h2v1h-2zM433 165h1v1h-1zM437 165h1v1h-1zM439 165h5v1h-5zM446 165h1v1h-1zM448 165h1v1h-1zM431 166h4v1h-4zM436 166h1v1h-1zM439 166h4v1h-4zM445 166h2v1h-2zM451 166h1v1h-1zM431 167h4v1h-4zM437 167h4v1h-4zM442 167h2v1h-2zM446 167h1v1h-1zM449 167h1v1h-1zM451 167h2v1h-2zM428 168h1v1h-1zM434 168h2v1h-2zM437 168h3v1h-3zM443 168h2v1h-2zM446 168h2v1h-2zM451 168h3v1h-3zM428 169h1v1h-1zM434 169h2v1h-2zM437 169h3v1h-3zM442 169h3v1h-3zM446 169h4v1h-4zM452 169h2v1h-2zM428 170h2v1h-2zM436 170h1v1h-1zM438 170h8v1h-8zM447 170h3v1h-3zM452 170h2v1h-2zM428 171h17v1h-17zM447 171h3v1h-3zM453 171h1v1h-1zM431 172h3v1h-3zM435 172h2v1h-2zM438 172h5v1h-5zM445 172h4v1h-4zM452 172h3v1h-3zM429 173h1v1h-1zM432 173h1v1h-1zM437 173h2v1h-2zM441 173h2v1h-2zM444 173h4v1h-4zM450 173h4v1h-4zM429 174h2v1h-2zM437 174h14v1h-14zM428 175h2v1h-2zM439 175h2v1h-2zM443 175h8v1h-8zM429 176h1v1h-1zM432 176h2v1h-2zM435 176h6v1h-6zM443 176h4v1h-4zM450 176h2v1h-2zM430 177h1v1h-1zM433 177h7v1h-7zM443 177h2v1h-2zM430 178h1v1h-1zM435 178h6v1h-6zM443 178h5v1h-5zM431 179h1v1h-1zM433 179h7v1h-7zM445 179h3v1h-3zM434 180h5v1h-5zM435 181h1v1h-1z"/>
<path fill="#376ff9" d="M416 187h3v1h-3zM417 188h1v1h-1zM423 188h1v1h-1zM423 189h3v1h-3zM421 190h6v1h-6zM410 191h2v1h-2zM413 191h2v1h-2zM420 191h2v1h-2zM423 191h2v1h-2zM427 191h1v1h-1zM410 192h3v1h-3zM414 192h1v1h-1zM423 192h2v1h-2zM427 192h1v1h-1zM410 193h2v1h-2zM414 193h1v1h-1zM423 193h1v1h-1zM428 193h2v1h-2zM414 194h1v1h-1zM417 194h4v1h-4zM423 194h6v1h-6zM414 195h2v1h-2zM420 195h2v1h-2zM424 195h4v1h-4zM431 195h1v1h-1zM415 196h4v1h-4zM421 196h1v1h-1zM426 196h2v1h-2zM410 197h1v1h-1zM414 197h5v1h-5zM425 197h2v1h-2zM429 197h1v1h-1zM410 198h1v1h-1zM417 198h1v1h-1zM426 198h2v1h-2zM429 198h1v1h-1zM432 198h1v1h-1zM410 199h1v1h-1zM424 199h1v1h-1zM426 199h1v1h-1zM412 200h1v1h-1zM411 201h2v1h-2zM420 201h5v1h-5zM426 201h4v1h-4zM410 202h4v1h-4zM416 202h1v1h-1zM418 202h3v1h-3zM425 202h5v1h-5zM410 203h1v1h-1zM412 203h2v1h-2zM416 203h5v1h-5zM425 203h5v1h-5zM411 204h1v1h-1zM413 204h2v1h-2zM416 204h7v1h-7zM426 204h4v1h-4zM411 205h2v1h-2zM417 205h4v1h-4zM422 205h2v1h-2zM426 205h3v1h-3zM418 206h2v1h-2zM422 206h1v1h-1zM419 207h1v1h-1z"/>
<path fill="#8000ff" d="M424 170h2v1h-2zM423 171h4v1h-4zM411 172h3v1h-3zM423 172h3v1h-3zM411 173h4v1h-4zM418 173h1v1h-1zM425 173h3v1h-3zM412 174h2v1h-2zM423 174h3v1h-3zM412 175h1v1h-1zM423 175h4v1h-4zM410 176h3v1h-3zM425 176h2v1h-2zM410 177h2v1h-2zM420 177h1v1h-1zM425 177h2v1h-2zM428 177h1v1h-1zM410 178h1v1h-1zM419 178h2v1h-2zM424 178h1v1h-1zM410 179h1v1h-1zM414 179h1v1h-1zM418 179h1v1h-1zM423 179h1v1h-1zM411 180h8v1h-8zM411 181h1v1h-1zM414 181h3v1h-3zM426 182h1v1h-1zM425 183h2v1h-2zM415 184h1v1h-1zM422 184h1v1h-1zM425 184h3v1h-3zM415 185h4v1h-4zM426 185h2v1h-2zM416 186h4v1h-4zM425 186h4v1h-4zM414 187h2v1h-2zM425 187h2v1h-2zM429 187h1v1h-1zM425 188h1v1h-1zM429 188h3v1h-3zM425 189h1v1h-1zM425 190h2v1h-2zM427 191h2v1h-2zM427 192h2v1h-2z"/>
<path fill="#a4f99f" d="M506 196h1v1h-1zM504 197h1v1h-1zM503 198h1v1h-1zM505 198h1v1h-1zM503 199h2v1h-2zM506 199h1v1h-1zM502 200h1v1h-1zM501 201h1v1h-1zM505 201h1v1h-1zM500 202h3v1h-3zM504 202h2v1h-2zM491 204h4v1h-4zM496 204h4v1h-4zM501 204h2v1h-2zM488 205h2v1h-2zM492 205h3v1h-3zM496 205h4v1h-4zM501 205h5v1h-5zM490 206h2v1h-2zM498 206h1v1h-1zM502 206h1v1h-1zM504 206h1v1h-1zM484 207h1v1h-1zM491 207h1v1h-1zM493 207h1v1h-1zM495 207h1v1h-1zM501 207h4v1h-4zM484 208h3v1h-3zM490 208h3v1h-3zM495 208h2v1h-2zM502 208h4v1h-4zM484 209h1v1h-1zM487 209h1v1h-1zM490 209h1v1h-1zM492 209h1v1h-1zM495 209h2v1h-2zM499 209h1v1h-1zM485 210h1v1h-1zM491 210h1v1h-1zM496 210h3v1h-3zM500 210h2v1h-2zM486 211h1v1h-1zM488 211h1v1h-1zM495 211h4v1h-4zM502 211h1v1h-1zM500 212h1v1h-1z"/>
<path fill="#a4f99f" d="M481 210h3v1h-3zM475 214h1v1h-1zM479 214h2v1h-2zM482 214h1v1h-1zM473 215h1v1h-1zM483 215h1v1h-1zM473 216h1v1h-1zM477 217h1v1h-1zM472 218h1v1h-1zM474 218h1v1h-1zM466 219h1v1h-1zM471 219h1v1h-1zM473 219h1v1h-1zM475 219h1v1h-1zM477 219h1v1h-1zM471 220h1v1h-1zM463 221h1v1h-1zM466 221h1v1h-1zM471 221h1v1h-1zM476 221h1v1h-1zM466 222h1v1h-1zM470 222h1v1h-1zM472 222h1v1h-1zM460 223h1v1h-1zM466 223h1v1h-1zM471 223h2v1h-2zM461 224h1v1h-1zM470 224h3v1h-3zM458 225h1v1h-1zM463 225h2v1h-2zM470 225h1v1h-1zM458 226h1v1h-1zM467 226h2v1h-2zM454 227h2v1h-2zM457 227h1v1h-1zM460 227h1v1h-1zM468 227h1v1h-1zM452 228h2v1h-2zM457 228h1v1h-1zM462 228h1v1h-1zM461 229h1v1h-1zM465 229h1v1h-1zM455 230h1v1h-1zM459 230h1v1h-1zM455 233h1v1h-1zM455 234h1v1h-1z"/>
<path fill="#5bf9c7" d="M503 198h1v1h-1zM499 200h1v1h-1zM497 201h2v1h-2zM505 202h1v1h-1zM504 203h3v1h-3zM505 204h2v1h-2zM505 205h1v1h-1zM492 206h1v1h-1zM498 206h2v1h-2zM503 206h1v1h-1zM503 207h2v1h-2zM497 208h2v1h-2zM504 208h1v1h-1zM487 209h1v1h-1zM498 209h2v1h-2zM501 209h1v1h-1zM487 210h1v1h-1z"/>
<path fill="#a4f99f" d="M453 216h1v1h-1zM420 217h1v1h-1zM437 217h1v1h-1zM451 217h1v1h-1zM429 218h1v1h-1zM437 218h1v1h-1zM434 219h1v1h-1zM432 220h1v1h-1zM443 220h1v1h-1zM432 221h1v1h-1zM437 221h1v1h-1zM449 221h1v1h-1zM460 221h1v1h-1zM422 222h1v1h-1zM427 222h2v1h-2zM438 222h1v1h-1zM440 222h1v1h-1zM451 222h1v1h-1zM432 223h1v1h-1zM438 223h1v1h-1zM447 223h1v1h-1zM432 224h1v1h-1zM444 224h1v1h-1zM424 225h1v1h-1zM431 225h2v1h-2zM435 225h1v1h-1zM438 225h2v1h-2zM442 225h2v1h-2zM452 225h1v1h-1zM454 225h1v1h-1zM460 225h1v1h-1zM424 226h1v1h-1zM427 226h1v1h-1zM431 226h2v1h-2zM442 226h1v1h-1zM446 226h2v1h-2zM453 226h2v1h-2zM430 227h1v1h-1zM432 227h1v1h-1zM439 227h1v1h-1zM444 227h1v1h-1zM446 227h1v1h-1zM463 227h1v1h-1zM434 228h2v1h-2zM438 228h1v1h-1zM451 228h1v1h-1zM432 229h1v1h-1zM450 229h1v1h-1zM430 230h2v1h-2zM443 230h1v1h-1zM445 230h1v1h-1zM448 230h1v1h-1zM452 230h1v1h-1zM430 231h1v1h-1zM443 231h1v1h-1zM430 232h1v1h-1zM440 232h1v1h-1zM442 232h1v1h-1zM448 232h1v1h-1zM455 232h2v1h-2zM427 233h2v1h-2zM446 233h3v1h-3zM450 233h2v1h-2zM428 235h1v1h-1zM432 235h1v1h-1zM444 235h1v1h-1zM428 236h1v1h-1zM437 237h1v1h-1zM433 238h2v1h-2z"/>
<path fill="#edc76f" d="M459 214h1v1h-1zM444 216h1v1h-1zM446 218h1v1h-1zM462 218h1v1h-1zM435 219h1v1h-1zM457 219h1v1h-1zM439 220h1v1h-1zM453 220h1v1h-1zM443 222h2v1h-2zM455 222h1v1h-1zM462 222h1v1h-1zM455 223h1v1h-1zM446 224h1v1h-1zM438 226h1v1h-1zM460 227h1v1h-1zM464 227h1v1h-1zM455 228h1v1h-1zM447 229h1v1h-1zM430 232h1v1h-1zM437 232h1v1h-1zM449 233h1v1h-1zM448 234h1v1h-1zM454 234h1v1h-1zM434 235h1v1h-1zM462 235h1v1h-1z"/>
<path fill="#ff6f39" d="M443 216h1v1h-1zM464 216h1v1h-1zM420 217h1v1h-1zM426 219h1v1h-1zM465 220h1v1h-1zM446 223h1v1h-1zM464 224h1v1h-1zM430 230h1v1h-1z"/>
<path fill="#12c7e6" d="M493 217h2v1h-2zM506 217h1v1h-1zM470 218h3v1h-3zM493 218h2v1h-2zM502 218h1v1h-1zM471 219h1v1h-1zM476 219h2v1h-2zM504 219h1v1h-1zM475 220h2v1h-2zM504 220h1v1h-1zM475 221h2v1h-2zM485 221h1v1h-1zM485 222h2v1h-2zM494 222h1v1h-1zM503 222h2v1h-2zM473 223h1v1h-1zM489 223h1v1h-1zM503 223h2v1h-2zM471 224h2v1h-2zM479 224h1v1h-1zM471 225h1v1h-1zM488 225h3v1h-3zM498 225h1v1h-1zM471 226h1v1h-1zM481 226h2v1h-2zM488 226h3v1h-3zM498 226h1v1h-1zM505 226h1v1h-1zM479 227h4v1h-4zM490 227h1v1h-1zM505 227h1v1h-1zM479 228h1v1h-1zM490 228h1v1h-1zM504 228h3v1h-3zM468 229h1v1h-1zM475 229h1v1h-1zM479 229h1v1h-1zM505 229h1v1h-1zM498 230h2v1h-2zM480 231h1v1h-1zM493 231h2v1h-2zM497 231h4v1h-4zM486 232h2v1h-2zM494 232h1v1h-1zM499 232h2v1h-2zM503 232h1v1h-1zM486 233h2v1h-2zM490 233h1v1h-1zM494 233h1v1h-1zM503 233h2v1h-2zM477 234h1v1h-1zM489 234h2v1h-2zM477 235h1v1h-1zM480 236h2v1h-2zM501 236h1v1h-1zM485 237h2v1h-2zM500 237h2v1h-2zM485 238h2v1h-2zM500 238h2v1h-2zM506 238h1v1h-1zM475 239h1v1h-1zM479 239h2v1h-2zM495 239h2v1h-2zM500 239h2v1h-2zM470 240h3v1h-3zM477 240h2v1h-2zM495 240h2v1h-2zM467 241h3v1h-3zM478 241h1v1h-1zM490 241h1v1h-1zM468 242h1v1h-1zM478 242h1v1h-1zM490 242h1v1h-1zM506 242h1v1h-1zM471 243h2v1h-2zM475 243h2v1h-2zM478 243h1v1h-1zM502 243h2v1h-2zM470 244h3v1h-3zM490 244h1v1h-1zM471 245h2v1h-2zM494 245h2v1h-2zM466 246h1v1h-1zM471 246h4v1h-4zM494 246h3v1h-3zM504 246h1v1h-1zM467 247h1v1h-1zM469 247h1v1h-1zM474 247h1v1h-1zM482 247h1v1h-1zM496 247h1v1h-1zM504 247h1v1h-1zM467 248h2v1h-2zM482 248h1v1h-1zM500 249h1v1h-1zM501 250h4v1h-4zM506 250h1v1h-1zM464 251h1v1h-1zM479 251h2v1h-2zM486 251h1v1h-1zM495 251h2v1h-2zM504 251h1v1h-1z"/>
<path fill="#a4f99f" d="M497 220h1v1h-1zM497 221h2v1h-2zM496 222h2v1h-2zM496 223h1v1h-1zM491 226h1v1h-1zM502 226h2v1h-2zM493 227h1v1h-1zM493 228h1v1h-1zM493 229h1v1h-1zM494 230h1v1h-1zM495 231h1v1h-1zM501 235h1v1h-1zM499 236h3v1h-3z"/>
<path fill="#a4f99f" d="M411 166h1v1h-1zM423 166h1v1h-1zM413 168h1v1h-1zM422 170h1v1h-1zM419 171h1v1h-1zM423 171h1v1h-1zM420 173h1v1h-1z"/>
<path fill="#edc76f" d="M423 164h1v1h-1zM414 165h1v1h-1zM416 165h1v1h-1zM410 169h1v1h-1z"/>
<path fill="#376ff9" d="M460 231h1v1h-1zM458 232h2v1h-2zM458 233h1v1h-1zM456 234h2v1h-2zM456 235h1v1h-1zM460 236h1v1h-1zM443 237h2v1h-2zM452 237h2v1h-2zM447 238h1v1h-1zM453 238h2v1h-2zM458 238h4v1h-4zM463 238h2v1h-2zM439 239h1v1h-1zM447 239h1v1h-1zM449 239h2v1h-2zM453 239h3v1h-3zM458 239h3v1h-3zM464 239h2v1h-2zM440 240h1v1h-1zM454 240h2v1h-2zM464 240h1v1h-1zM433 241h1v1h-1zM455 241h1v1h-1zM432 242h2v1h-2zM458 242h1v1h-1zM433 243h1v1h-1zM458 243h1v1h-1zM448 244h1v1h-1zM448 245h3v1h-3zM456 245h1v1h-1zM459 245h1v1h-1zM461 245h1v1h-1zM435 246h3v1h-3zM450 246h1v1h-1zM456 246h3v1h-3zM429 247h2v1h-2zM438 247h3v1h-3zM457 247h1v1h-1zM461 247h1v1h-1zM431 248h2v1h-2zM438 248h3v1h-3zM431 249h1v1h-1zM435 249h1v1h-1zM438 249h1v1h-1zM440 249h2v1h-2zM434 250h2v1h-2zM443 250h3v1h-3zM461 250h2v1h-2zM435 251h1v1h-1zM443 251h2v1h-2zM450 251h1v1h-1zM462 251h1v1h-1z"/>
<path fill="#ff0000" d="M488 235h1v1h-1zM492 241h2v1h-2zM492 242h2v1h-2zM492 243h2v1h-2zM485 251h1v1h-1z"/>
<path fill="#12c7e6" d="M153 253h3v1h-3zM153 254h2v1h-2zM140 256h3v1h-3zM152 256h1v1h-1zM158 256h1v1h-1zM139 257h2v1h-2zM152 257h3v1h-3zM140 258h1v1h-1zM149 258h1v1h-1zM152 258h3v1h-3zM127 259h4v1h-4zM133 259h1v1h-1zM148 259h2v1h-2zM117 260h2v1h-2zM120 260h1v1h-1zM137 260h2v1h-2zM148 260h1v1h-1zM118 261h1v1h-1zM132 261h1v1h-1zM147 261h2v1h-2zM110 262h2v1h-2zM132 262h1v1h-1zM140 262h1v1h-1zM148 262h1v1h-1zM159 262h1v1h-1zM120 263h1v1h-1zM129 263h1v1h-1zM132 263h2v1h-2zM135 263h2v1h-2zM139 263h2v1h-2zM148 263h1v1h-1zM110 264h2v1h-2zM118 264h3v1h-3zM133 264h1v1h-1zM135 264h2v1h-2zM117 265h3v1h-3zM122 265h2v1h-2zM127 265h4v1h-4zM141 265h3v1h-3zM153 265h2v1h-2zM159 265h1v1h-1zM118 266h1v1h-1zM122 266h1v1h-1zM126 266h6v1h-6zM142 266h2v1h-2zM150 266h1v1h-1zM153 266h2v1h-2zM118 267h1v1h-1zM128 267h1v1h-1zM153 267h2v1h-2zM114 268h1v1h-1zM118 268h1v1h-1zM126 268h3v1h-3zM138 268h4v1h-4zM144 268h2v1h-2zM110 269h2v1h-2zM113 269h3v1h-3zM121 269h2v1h-2zM126 269h3v1h-3zM136 269h1v1h-1zM138 269h4v1h-4zM145 269h1v1h-1zM147 269h2v1h-2zM154 269h6v1h-6zM110 270h4v1h-4zM116 270h1v1h-1zM122 270h2v1h-2zM127 270h1v1h-1zM136 270h1v1h-1zM145 270h5v1h-5zM154 270h4v1h-4zM110 271h1v1h-1zM112 271h2v1h-2zM116 271h2v1h-2zM122 271h5v1h-5zM130 271h2v1h-2zM143 271h7v1h-7zM155 271h2v1h-2zM116 272h7v1h-7zM124 272h1v1h-1zM126 272h1v1h-1zM143 272h1v1h-1zM110 273h1v1h-1z"/>
<path fill="#376ff9" d="M113 274h1v1h-1zM125 274h1v1h-1zM113 275h1v1h-1zM114 276h2v1h-2zM141 276h2v1h-2zM140 277h3v1h-3zM146 277h2v1h-2zM151 277h1v1h-1zM133 278h1v1h-1zM147 278h1v1h-1zM151 278h1v1h-1zM129 279h1v1h-1zM132 279h2v1h-2zM141 279h4v1h-4zM151 279h1v1h-1zM122 280h1v1h-1zM141 280h4v1h-4zM122 281h1v1h-1zM131 281h1v1h-1zM110 282h1v1h-1zM133 282h1v1h-1zM110 283h1v1h-1zM114 283h2v1h-2zM131 283h1v1h-1zM133 283h2v1h-2zM147 283h1v1h-1zM114 284h3v1h-3zM130 284h2v1h-2zM133 284h1v1h-1zM147 284h1v1h-1zM151 284h1v1h-1zM112 285h1v1h-1zM115 285h2v1h-2zM127 285h1v1h-1zM129 285h5v1h-5zM151 285h1v1h-1zM127 286h1v1h-1zM129 286h5v1h-5zM142 286h1v1h-1zM119 287h1v1h-1zM129 287h5v1h-5zM135 287h2v1h-2zM130 288h4v1h-4zM135 288h2v1h-2zM146 288h1v1h-1zM111 289h2v1h-2zM126 289h2v1h-2zM111 290h1v1h-1zM124 290h1v1h-1zM136 290h1v1h-1zM110 291h1v1h-1zM117 291h1v1h-1zM125 291h1v1h-1zM130 291h3v1h-3zM115 292h1v1h-1zM117 292h2v1h-2zM129 292h3v1h-3zM146 292h1v1h-1zM115 293h3v1h-3zM122 293h1v1h-1zM129 293h3v1h-3zM112 294h2v1h-2zM125 294h1v1h-1zM129 294h2v1h-2z"/>
<path fill="#12c7e6" d="M110 269h2v1h-2zM113 271h1v1h-1zM115 271h4v1h-4zM121 271h4v1h-4zM110 272h1v1h-1zM113 272h1v1h-1zM115 272h3v1h-3zM121 272h2v1h-2zM125 272h3v1h-3zM113 273h1v1h-1zM120 273h3v1h-3zM125 273h1v1h-1zM111 274h3v1h-3zM121 274h1v1h-1zM111 275h4v1h-4zM121 275h2v1h-2zM135 275h1v1h-1zM138 275h5v1h-5zM119 276h3v1h-3zM126 276h1v1h-1zM130 276h3v1h-3zM134 276h2v1h-2zM138 276h5v1h-5zM146 276h2v1h-2zM110 277h1v1h-1zM119 277h2v1h-2zM126 277h1v1h-1zM130 277h3v1h-3zM135 277h2v1h-2zM140 277h4v1h-4zM146 277h3v1h-3zM110 278h2v1h-2zM117 278h3v1h-3zM123 278h4v1h-4zM128 278h1v1h-1zM135 278h3v1h-3zM145 278h2v1h-2zM148 278h1v1h-1zM117 279h2v1h-2zM123 279h2v1h-2zM134 279h1v1h-1zM136 279h2v1h-2zM140 279h1v1h-1zM110 280h1v1h-1zM112 280h1v1h-1zM117 280h2v1h-2zM121 280h1v1h-1zM123 280h1v1h-1zM128 280h1v1h-1zM134 280h1v1h-1zM139 280h2v1h-2zM149 280h2v1h-2zM110 281h1v1h-1zM112 281h3v1h-3zM116 281h1v1h-1zM120 281h3v1h-3zM134 281h1v1h-1zM137 281h2v1h-2zM147 281h2v1h-2zM111 282h2v1h-2zM114 282h3v1h-3zM120 282h7v1h-7zM137 282h1v1h-1zM146 282h3v1h-3zM110 283h3v1h-3zM115 283h1v1h-1zM122 283h3v1h-3zM127 283h2v1h-2zM137 283h1v1h-1zM145 283h4v1h-4zM111 284h2v1h-2zM117 284h2v1h-2zM124 284h1v1h-1zM127 284h3v1h-3zM138 284h1v1h-1zM145 284h4v1h-4zM112 285h1v1h-1zM123 285h2v1h-2zM127 285h3v1h-3zM138 285h1v1h-1zM145 285h2v1h-2zM148 285h2v1h-2zM110 286h4v1h-4zM116 286h1v1h-1zM121 286h4v1h-4zM128 286h3v1h-3zM137 286h1v1h-1zM145 286h1v1h-1zM148 286h2v1h-2zM151 286h2v1h-2zM111 287h1v1h-1zM113 287h1v1h-1zM121 287h6v1h-6zM129 287h2v1h-2zM135 287h3v1h-3zM141 287h3v1h-3zM146 287h3v1h-3zM114 288h1v1h-1zM117 288h1v1h-1zM125 288h2v1h-2zM129 288h2v1h-2zM135 288h2v1h-2zM138 288h2v1h-2zM143 288h2v1h-2zM148 288h1v1h-1zM111 289h1v1h-1zM124 289h2v1h-2zM128 289h5v1h-5zM137 289h2v1h-2zM148 289h1v1h-1zM123 290h2v1h-2zM128 290h2v1h-2zM132 290h2v1h-2zM148 290h1v1h-1zM119 291h1v1h-1zM123 291h2v1h-2zM129 291h1v1h-1zM133 291h2v1h-2zM144 291h2v1h-2zM147 291h1v1h-1zM110 292h3v1h-3zM123 292h3v1h-3zM135 292h5v1h-5zM142 292h4v1h-4zM151 292h1v1h-1zM110 293h6v1h-6zM123 293h2v1h-2zM136 293h4v1h-4zM142 293h4v1h-4zM147 293h2v1h-2zM151 293h2v1h-2zM110 294h3v1h-3zM122 294h3v1h-3zM134 294h2v1h-2zM142 294h2v1h-2zM145 294h5v1h-5z"/>
<path fill="#5bf9c7" d="M191 280h2v1h-2zM187 281h1v1h-1zM195 281h3v1h-3zM190 282h1v1h-1zM195 282h1v1h-1zM198 282h1v1h-1zM190 283h1v1h-1zM195 283h5v1h-5zM196 284h3v1h-3zM199 285h2v1h-2zM198 286h3v1h-3zM185 287h1v1h-1zM197 287h3v1h-3zM185 288h1v1h-1zM193 288h3v1h-3zM198 288h1v1h-1zM189 289h1v1h-1zM193 289h2v1h-2zM194 290h1v1h-1zM201 290h1v1h-1zM193 291h1v1h-1zM200 291h2v1h-2zM200 292h2v1h-2zM186 293h2v1h-2zM198 293h2v1h-2zM201 293h1v1h-1zM191 294h1v1h-1zM202 294h1v1h-1zM185 295h1v1h-1zM190 295h5v1h-5zM192 296h3v1h-3zM187 297h1v1h-1zM194 297h1v1h-1zM185 298h5v1h-5zM185 299h3v1h-3z"/>
<path fill="#a4f99f" d="M203 319h1v1h-1zM206 319h3v1h-3zM196 320h1v1h-1zM202 320h2v1h-2zM206 320h4v1h-4zM195 321h2v1h-2zM207 321h2v1h-2zM176 323h1v1h-1zM191 323h2v1h-2zM194 323h2v1h-2zM198 323h3v1h-3zM204 323h1v1h-1zM180 324h1v1h-1zM186 324h2v1h-2zM192 324h5v1h-5zM198 324h4v1h-4zM176 325h6v1h-6zM186 325h2v1h-2zM191 325h3v1h-3zM195 325h6v1h-6zM175 326h4v1h-4zM186 326h2v1h-2zM193 326h5v1h-5zM172 327h8v1h-8zM194 327h2v1h-2zM209 327h1v1h-1zM173 328h2v1h-2zM177 328h3v1h-3zM194 328h1v1h-1zM203 328h2v1h-2zM174 329h1v1h-1zM183 329h2v1h-2zM195 329h1v1h-1zM198 329h2v1h-2zM204 329h2v1h-2zM176 330h1v1h-1zM183 330h3v1h-3zM195 330h2v1h-2zM198 330h2v1h-2zM203 330h1v1h-1zM206 330h2v1h-2zM172 331h1v1h-1zM176 331h2v1h-2zM194 331h2v1h-2zM198 331h2v1h-2zM201 331h3v1h-3zM172 332h1v1h-1zM176 332h3v1h-3zM181 332h1v1h-1zM187 332h2v1h-2zM209 332h1v1h-1zM172 333h1v1h-1zM176 333h7v1h-7zM188 333h2v1h-2zM204 333h1v1h-1zM169 334h2v1h-2zM172 334h1v1h-1zM178 334h4v1h-4zM188 334h2v1h-2zM203 334h3v1h-3zM169 335h2v1h-2zM178 335h1v1h-1zM204 335h1v1h-1zM169 336h3v1h-3zM177 336h2v1h-2zM198 336h4v1h-4zM204 336h1v1h-1zM168 337h1v1h-1zM176 337h3v1h-3zM187 337h2v1h-2zM197 337h6v1h-6zM168 338h4v1h-4zM175 338h3v1h-3zM185 338h6v1h-6zM199 338h4v1h-4zM168 339h4v1h-4zM173 339h4v1h-4zM186 339h3v1h-3zM190 339h2v1h-2zM199 339h4v1h-4zM206 339h4v1h-4zM171 340h6v1h-6zM181 340h2v1h-2zM187 340h2v1h-2zM199 340h1v1h-1zM204 340h6v1h-6zM174 341h5v1h-5zM187 341h2v1h-2zM193 341h1v1h-1zM197 341h4v1h-4zM203 341h2v1h-2zM207 341h3v1h-3z"/>
<path fill="#8000ff" d="M206 319h1v1h-1zM206 320h2v1h-2zM199 321h1v1h-1zM202 321h3v1h-3zM207 321h2v1h-2zM192 322h4v1h-4zM197 322h3v1h-3zM204 322h2v1h-2zM207 322h3v1h-3zM187 323h2v1h-2zM190 323h1v1h-1zM195 323h3v1h-3zM183 324h1v1h-1zM205 324h1v1h-1zM183 325h3v1h-3zM191 325h2v1h-2zM208 325h2v1h-2zM179 326h2v1h-2zM185 326h2v1h-2zM191 326h5v1h-5zM203 326h1v1h-1zM208 326h2v1h-2zM177 327h4v1h-4zM182 327h2v1h-2zM186 327h1v1h-1zM188 327h1v1h-1zM193 327h2v1h-2zM197 327h1v1h-1zM204 327h2v1h-2zM209 327h1v1h-1zM178 328h1v1h-1zM185 328h1v1h-1zM188 328h1v1h-1zM198 328h1v1h-1zM204 328h3v1h-3zM177 329h4v1h-4zM184 329h3v1h-3zM188 329h1v1h-1zM193 329h1v1h-1zM198 329h1v1h-1zM205 329h1v1h-1zM207 329h2v1h-2zM178 330h2v1h-2zM183 330h3v1h-3zM190 330h1v1h-1zM192 330h1v1h-1zM177 331h2v1h-2zM181 331h2v1h-2zM184 331h4v1h-4zM192 331h4v1h-4zM203 331h1v1h-1zM178 332h2v1h-2zM182 332h1v1h-1zM184 332h1v1h-1zM188 332h1v1h-1zM198 332h1v1h-1zM202 332h1v1h-1zM207 332h1v1h-1zM177 333h1v1h-1zM179 333h2v1h-2zM184 333h2v1h-2zM187 333h1v1h-1zM189 333h1v1h-1zM197 333h1v1h-1zM200 333h2v1h-2zM177 334h1v1h-1zM180 334h1v1h-1zM183 334h6v1h-6zM196 334h2v1h-2zM200 334h1v1h-1zM206 334h1v1h-1zM177 335h1v1h-1zM184 335h1v1h-1zM188 335h1v1h-1zM199 335h1v1h-1zM206 335h1v1h-1zM209 335h1v1h-1zM177 336h2v1h-2zM184 336h2v1h-2zM191 336h1v1h-1zM193 336h1v1h-1zM202 336h3v1h-3zM209 336h1v1h-1zM177 337h1v1h-1zM181 337h1v1h-1zM185 337h1v1h-1zM190 337h1v1h-1zM197 337h1v1h-1zM204 337h1v1h-1zM185 338h4v1h-4zM190 338h1v1h-1zM208 338h1v1h-1zM185 339h3v1h-3zM190 339h1v1h-1zM198 339h1v1h-1zM208 339h1v1h-1zM184 340h6v1h-6zM196 340h1v1h-1zM199 340h1v1h-1zM202 340h3v1h-3zM208 340h1v1h-1zM178 341h2v1h-2zM188 341h1v1h-1zM194 341h1v1h-1zM199 341h1v1h-1zM203 341h3v1h-3z"/>
<path fill="#8000ff" d="M207 253h2v1h-2zM205 254h5v1h-5zM203 255h3v1h-3zM207 255h2v1h-2zM208 256h1v1h-1zM208 257h2v1h-2zM199 258h2v1h-2zM205 258h1v1h-1zM209 258h1v1h-1zM199 259h3v1h-3zM209 259h1v1h-1zM200 261h3v1h-3zM200 262h2v1h-2zM204 262h1v1h-1zM200 263h2v1h-2zM201 264h2v1h-2zM200 265h3v1h-3zM200 266h2v1h-2zM200 267h1v1h-1zM199 268h2v1h-2zM209 268h1v1h-1zM200 269h1v1h-1zM209 269h1v1h-1zM197 270h2v1h-2zM196 271h3v1h-3zM205 271h1v1h-1zM196 272h3v1h-3zM205 272h2v1h-2zM197 273h4v1h-4zM206 273h4v1h-4zM203 274h7v1h-7zM208 275h2v1h-2zM200 276h1v1h-1zM207 276h3v1h-3zM200 277h2v1h-2zM203 277h1v1h-1zM207 277h3v1h-3zM197 278h1v1h-1zM200 278h10v1h-10zM200 279h5v1h-5zM209 279h1v1h-1zM201 280h2v1h-2zM209 280h1v1h-1zM197 281h1v1h-1zM201 281h1v1h-1zM204 281h1v1h-1zM197 282h2v1h-2zM204 282h2v1h-2zM198 283h3v1h-3zM203 283h3v1h-3zM199 284h1v1h-1zM201 284h6v1h-6zM202 285h5v1h-5zM198 286h1v1h-1zM201 286h3v1h-3zM207 286h3v1h-3zM198 287h1v1h-1zM202 287h2v1h-2zM202 288h2v1h-2zM201 289h4v1h-4zM206 289h2v1h-2zM200 290h4v1h-4zM206 290h2v1h-2zM199 291h5v1h-5zM199 292h1v1h-1zM201 292h4v1h-4zM206 292h1v1h-1zM209 292h1v1h-1zM200 293h3v1h-3zM207 293h1v1h-1zM201 294h1v1h-1zM206 294h2v1h-2zM205 295h5v1h-5zM201 296h1v1h-1zM206 296h4v1h-4zM201 297h2v1h-2zM205 297h4v1h-4zM201 298h2v1h-2zM206 298h3v1h-3zM202 299h3v1h-3zM206 299h2v1h-2zM203 300h4v1h-4zM209 300h1v1h-1zM206 301h1v1h-1zM209 301h1v1h-1zM203 302h1v1h-1zM206 302h1v1h-1zM209 302h1v1h-1zM203 303h1v1h-1zM209 303h1v1h-1z"/>
<path fill="#5bf9c7" d="M197 284h2v1h-2zM197 285h2v1h-2zM203 285h1v1h-1zM190 286h1v1h-1zM197 286h4v1h-4zM203 286h1v1h-1zM190 287h1v1h-1zM195 287h8v1h-8zM191 288h1v1h-1zM193 288h2v1h-2zM197 288h9v1h-9zM208 288h2v1h-2zM191 289h2v1h-2zM194 289h1v1h-1zM196 289h4v1h-4zM202 289h8v1h-8zM191 290h1v1h-1zM195 290h1v1h-1zM198 290h2v1h-2zM201 290h3v1h-3zM205 290h2v1h-2zM208 290h2v1h-2zM191 291h1v1h-1zM201 291h3v1h-3zM205 291h1v1h-1zM209 291h1v1h-1zM191 292h4v1h-4zM201 292h3v1h-3zM205 292h2v1h-2zM191 293h3v1h-3zM200 293h4v1h-4zM206 293h1v1h-1zM197 294h6v1h-6zM197 295h5v1h-5zM206 295h1v1h-1zM208 295h2v1h-2zM199 296h1v1h-1zM201 296h1v1h-1z"/>
<path fill="#a4f99f" d="M197 288h1v1h-1zM201 289h4v1h-4zM206 289h2v1h-2zM209 289h1v1h-1zM198 290h3v1h-3zM202 290h5v1h-5zM208 290h1v1h-1zM198 291h4v1h-4zM205 291h2v1h-2zM209 291h1v1h-1zM200 292h2v1h-2zM206 292h2v1h-2zM200 293h3v1h-3zM206 293h1v1h-1zM202 294h1v1h-1zM204 294h3v1h-3zM201 295h1v1h-1z"/>
<path fill="#5bf9c7" d="M114 296h1v1h-1zM114 297h1v1h-1zM110 298h1v1h-1zM120 298h2v1h-2zM110 299h1v1h-1zM123 299h2v1h-2zM110 300h1v1h-1zM112 300h2v1h-2zM125 300h4v1h-4zM112 301h4v1h-4zM120 301h2v1h-2zM126 301h2v1h-2zM134 301h1v1h-1zM112 302h3v1h-3zM120 302h2v1h-2zM126 302h2v1h-2zM134 302h2v1h-2zM112 303h4v1h-4zM128 303h2v1h-2zM136 303h1v1h-1zM111 304h4v1h-4zM118 304h1v1h-1zM127 304h3v1h-3zM134 304h2v1h-2zM120 305h1v1h-1zM125 305h1v1h-1zM133 305h2v1h-2zM120 306h3v1h-3zM129 306h2v1h-2zM134 306h1v1h-1zM113 307h1v1h-1zM117 307h1v1h-1zM122 307h3v1h-3zM129 307h1v1h-1zM134 307h1v1h-1zM117 308h2v1h-2zM120 308h3v1h-3zM126 308h2v1h-2zM129 308h1v1h-1zM118 309h5v1h-5zM124 309h1v1h-1zM134 309h1v1h-1zM136 309h1v1h-1zM111 310h1v1h-1zM118 310h4v1h-4zM124 310h1v1h-1zM134 310h3v1h-3zM114 311h2v1h-2zM118 311h5v1h-5zM125 311h1v1h-1zM127 311h1v1h-1zM134 311h3v1h-3zM114 312h2v1h-2zM120 312h1v1h-1zM126 312h2v1h-2zM135 312h1v1h-1zM110 314h1v1h-1zM126 314h1v1h-1zM136 314h1v1h-1zM114 315h1v1h-1zM116 315h1v1h-1zM119 315h2v1h-2zM123 315h4v1h-4zM132 315h2v1h-2zM136 315h1v1h-1zM114 316h3v1h-3zM118 316h3v1h-3zM123 316h5v1h-5zM133 316h1v1h-1zM136 316h1v1h-1zM113 317h2v1h-2zM118 317h2v1h-2zM124 317h4v1h-4zM136 317h1v1h-1zM110 318h1v1h-1zM117 318h1v1h-1zM129 318h1v1h-1zM134 318h1v1h-1zM114 319h1v1h-1zM116 319h2v1h-2zM127 319h1v1h-1zM133 319h2v1h-2zM110 320h1v1h-1zM117 320h4v1h-4zM123 320h1v1h-1zM127 320h1v1h-1zM130 320h1v1h-1zM110 321h1v1h-1zM116 321h1v1h-1zM131 321h3v1h-3zM116 322h1v1h-1zM118 322h2v1h-2zM122 322h1v1h-1zM130 322h3v1h-3zM118 323h6v1h-6zM131 323h1v1h-1zM110 324h2v1h-2zM121 324h3v1h-3zM131 324h2v1h-2zM110 325h3v1h-3zM116 325h1v1h-1zM121 325h2v1h-2zM126 325h2v1h-2zM133 325h2v1h-2zM110 326h3v1h-3zM117 326h4v1h-4zM122 326h1v1h-1zM125 326h2v1h-2zM131 326h6v1h-6zM110 327h3v1h-3zM117 327h1v1h-1zM119 327h2v1h-2zM123 327h2v1h-2zM131 327h2v1h-2zM135 327h2v1h-2zM116 328h2v1h-2zM133 328h1v1h-1zM135 328h2v1h-2zM115 329h2v1h-2zM127 329h1v1h-1zM129 329h1v1h-1zM133 329h1v1h-1zM135 329h1v1h-1zM115 330h3v1h-3zM128 330h2v1h-2zM116 331h2v1h-2zM128 331h2v1h-2zM135 331h1v1h-1zM110 332h1v1h-1zM113 332h1v1h-1zM117 332h1v1h-1zM120 332h1v1h-1zM110 333h1v1h-1zM112 333h3v1h-3zM121 333h1v1h-1zM136 333h1v1h-1zM115 334h2v1h-2zM124 334h2v1h-2zM127 334h2v1h-2zM135 334h1v1h-1zM115 335h1v1h-1zM117 335h3v1h-3zM125 335h2v1h-2zM135 335h1v1h-1zM122 336h2v1h-2zM125 336h2v1h-2zM121 337h1v1h-1zM119 338h7v1h-7zM127 338h2v1h-2zM122 339h7v1h-7zM134 339h1v1h-1zM111 340h3v1h-3zM122 340h3v1h-3zM126 340h3v1h-3zM134 340h2v1h-2zM112 341h2v1h-2zM123 341h2v1h-2zM131 341h5v1h-5z"/>
<path fill="#edc76f" d="M112 315h1v1h-1zM115 315h1v1h-1zM131 322h1v1h-1zM129 323h2v1h-2zM129 324h1v1h-1zM118 325h1v1h-1zM130 325h1v1h-1zM133 327h1v1h-1zM132 332h1v1h-1zM111 333h2v1h-2zM132 333h2v1h-2zM110 334h2v1h-2zM133 334h3v1h-3zM110 335h2v1h-2zM110 336h2v1h-2zM110 337h1v1h-1zM116 337h1v1h-1zM116 338h2v1h-2zM112 339h1v1h-1zM117 339h3v1h-3zM110 340h1v1h-1zM124 341h2v1h-2zM130 341h1v1h-1z"/>
<path fill="#5bf9c7" d="M161 307h1v1h-1zM165 307h1v1h-1zM171 307h3v1h-3zM158 308h2v1h-2zM164 308h2v1h-2zM171 308h2v1h-2zM175 308h2v1h-2zM196 308h1v1h-1zM203 308h2v1h-2zM158 309h2v1h-2zM164 309h1v1h-1zM175 309h2v1h-2zM188 309h2v1h-2zM195 309h3v1h-3zM202 309h7v1h-7zM159 310h4v1h-4zM165 310h2v1h-2zM170 310h1v1h-1zM182 310h2v1h-2zM186 310h1v1h-1zM189 310h1v1h-1zM195 310h4v1h-4zM161 311h3v1h-3zM165 311h1v1h-1zM170 311h2v1h-2zM181 311h3v1h-3zM186 311h1v1h-1zM189 311h2v1h-2zM197 311h3v1h-3zM165 312h1v1h-1zM171 312h1v1h-1zM181 312h1v1h-1zM186 312h1v1h-1zM188 312h3v1h-3zM194 312h1v1h-1zM198 312h2v1h-2zM202 312h3v1h-3zM161 313h1v1h-1zM168 313h1v1h-1zM176 313h1v1h-1zM186 313h3v1h-3zM191 313h1v1h-1zM193 313h3v1h-3zM197 313h1v1h-1zM202 313h2v1h-2zM208 313h1v1h-1zM162 314h1v1h-1zM185 314h1v1h-1zM187 314h3v1h-3zM192 314h4v1h-4zM201 314h3v1h-3zM207 314h2v1h-2zM182 315h1v1h-1zM186 315h2v1h-2zM189 315h2v1h-2zM192 315h2v1h-2zM203 315h1v1h-1zM164 316h1v1h-1zM172 316h3v1h-3zM187 316h4v1h-4zM193 316h3v1h-3zM198 316h2v1h-2zM203 316h2v1h-2zM164 317h2v1h-2zM172 317h3v1h-3zM191 317h3v1h-3zM195 317h1v1h-1zM198 317h5v1h-5zM209 317h1v1h-1zM175 318h2v1h-2zM180 318h1v1h-1zM191 318h1v1h-1zM195 318h1v1h-1zM201 318h2v1h-2zM209 318h1v1h-1zM169 319h3v1h-3zM175 319h3v1h-3zM179 319h4v1h-4zM185 319h1v1h-1zM192 319h2v1h-2zM195 319h1v1h-1zM209 319h1v1h-1zM169 320h3v1h-3zM174 320h1v1h-1zM179 320h3v1h-3zM184 320h2v1h-2zM204 320h1v1h-1zM209 320h1v1h-1zM171 321h1v1h-1zM181 321h2v1h-2zM185 321h2v1h-2zM190 321h2v1h-2zM201 321h1v1h-1zM203 321h3v1h-3zM174 322h1v1h-1zM181 322h2v1h-2zM185 322h2v1h-2zM189 322h4v1h-4zM197 322h2v1h-2zM201 322h6v1h-6zM173 323h2v1h-2zM181 323h1v1h-1zM188 323h3v1h-3zM197 323h1v1h-1zM200 323h5v1h-5zM180 324h1v1h-1zM183 324h1v1h-1zM189 324h1v1h-1zM191 324h2v1h-2zM200 324h2v1h-2zM173 325h3v1h-3zM183 325h1v1h-1zM185 325h2v1h-2zM191 325h2v1h-2zM200 325h2v1h-2zM172 326h1v1h-1zM174 326h2v1h-2zM181 326h3v1h-3zM186 326h1v1h-1zM189 326h3v1h-3zM200 326h1v1h-1zM171 327h2v1h-2zM182 327h3v1h-3zM189 327h1v1h-1zM199 327h2v1h-2zM172 328h3v1h-3zM179 328h7v1h-7zM187 328h2v1h-2zM204 328h4v1h-4zM180 329h2v1h-2zM184 329h2v1h-2zM187 329h2v1h-2zM196 329h2v1h-2zM206 329h1v1h-1z"/>
<path fill="#a4f99f" d="M181 307h1v1h-1zM186 307h1v1h-1zM187 308h2v1h-2zM192 308h2v1h-2zM182 309h1v1h-1zM198 309h2v1h-2zM181 310h2v1h-2zM198 310h2v1h-2zM179 311h3v1h-3zM189 311h2v1h-2zM198 311h1v1h-1zM179 312h1v1h-1zM181 312h1v1h-1zM189 312h2v1h-2zM198 312h1v1h-1zM189 313h3v1h-3zM198 313h1v1h-1zM200 313h2v1h-2zM206 313h1v1h-1zM190 314h1v1h-1zM206 314h1v1h-1zM178 315h2v1h-2zM192 315h3v1h-3zM178 316h2v1h-2zM204 316h1v1h-1zM208 316h2v1h-2zM178 317h2v1h-2zM184 317h1v1h-1zM194 317h1v1h-1zM202 317h3v1h-3zM208 317h1v1h-1zM192 318h1v1h-1zM195 318h1v1h-1zM203 318h2v1h-2zM192 319h1v1h-1zM200 319h3v1h-3zM184 320h1v1h-1zM192 320h2v1h-2zM201 320h1v1h-1zM208 320h1v1h-1zM191 321h2v1h-2zM194 321h1v1h-1zM205 321h4v1h-4zM185 322h3v1h-3zM207 322h1v1h-1zM185 323h3v1h-3zM206 323h1v1h-1zM191 324h2v1h-2zM199 324h1v1h-1zM206 324h1v1h-1zM183 325h3v1h-3zM192 325h1v1h-1zM206 325h1v1h-1zM209 325h1v1h-1zM184 326h2v1h-2zM207 326h2v1h-2z"/>
<path fill="#376ff9" d="M174 306h2v1h-2zM172 307h2v1h-2zM167 308h1v1h-1zM176 310h1v1h-1zM158 312h1v1h-1zM173 312h1v1h-1zM147 315h2v1h-2zM167 315h2v1h-2zM158 316h2v1h-2zM167 316h2v1h-2zM176 316h1v1h-1zM149 317h1v1h-1zM156 317h2v1h-2zM167 317h2v1h-2zM176 317h1v1h-1zM137 318h3v1h-3zM148 318h3v1h-3zM156 318h1v1h-1zM168 318h1v1h-1zM154 319h1v1h-1zM157 319h1v1h-1zM161 319h1v1h-1zM171 319h2v1h-2zM171 320h2v1h-2zM150 322h2v1h-2zM163 322h2v1h-2zM170 322h1v1h-1zM149 323h3v1h-3zM164 323h1v1h-1zM170 323h1v1h-1zM175 323h1v1h-1zM145 324h1v1h-1zM149 324h3v1h-3zM175 324h1v1h-1zM139 325h2v1h-2zM145 325h2v1h-2zM166 325h2v1h-2zM140 326h2v1h-2zM145 326h1v1h-1zM148 326h1v1h-1zM162 326h1v1h-1zM167 326h1v1h-1zM169 326h1v1h-1zM162 327h3v1h-3zM168 327h3v1h-3zM142 328h2v1h-2zM163 328h2v1h-2zM168 328h3v1h-3zM141 329h5v1h-5zM139 330h1v1h-1zM143 330h3v1h-3zM160 330h2v1h-2zM142 331h4v1h-4zM159 331h3v1h-3zM142 332h1v1h-1zM159 332h2v1h-2zM166 332h2v1h-2zM171 332h1v1h-1zM137 333h3v1h-3zM154 333h3v1h-3zM165 333h3v1h-3zM137 334h3v1h-3zM150 334h1v1h-1zM156 334h1v1h-1zM165 334h1v1h-1zM157 336h2v1h-2zM141 337h1v1h-1zM153 337h1v1h-1zM167 337h2v1h-2zM141 338h2v1h-2zM153 338h1v1h-1zM167 338h1v1h-1zM141 339h1v1h-1zM153 339h1v1h-1zM140 340h2v1h-2zM153 340h1v1h-1zM141 341h1v1h-1zM151 341h4v1h-4zM157 341h1v1h-1zM160 341h2v1h-2z"/>
<path fill="#8000ff" d="M223 252h1v1h-1zM238 252h1v1h-1zM240 252h1v1h-1zM244 252h3v1h-3zM250 252h1v1h-1zM257 252h1v1h-1zM261 252h1v1h-1zM221 253h1v1h-1zM223 253h1v1h-1zM232 253h2v1h-2zM235 253h3v1h-3zM239 253h1v1h-1zM242 253h1v1h-1zM247 253h1v1h-1zM250 253h1v1h-1zM254 253h3v1h-3zM262 253h1v1h-1zM211 254h2v1h-2zM217 254h2v1h-2zM220 254h2v1h-2zM223 254h1v1h-1zM235 254h1v1h-1zM237 254h1v1h-1zM239 254h2v1h-2zM242 254h3v1h-3zM251 254h2v1h-2zM256 254h1v1h-1zM258 254h1v1h-1zM262 254h1v1h-1zM211 255h1v1h-1zM220 255h4v1h-4zM226 255h2v1h-2zM231 255h1v1h-1zM239 255h1v1h-1zM242 255h4v1h-4zM252 255h1v1h-1zM257 255h4v1h-4zM262 255h1v1h-1zM264 255h2v1h-2zM210 256h3v1h-3zM221 256h1v1h-1zM224 256h1v1h-1zM234 256h1v1h-1zM248 256h3v1h-3zM253 256h1v1h-1zM257 256h3v1h-3zM263 256h1v1h-1zM265 256h1v1h-1zM210 257h2v1h-2zM229 257h1v1h-1zM232 257h1v1h-1zM237 257h1v1h-1zM243 257h1v1h-1zM248 257h1v1h-1zM250 257h1v1h-1zM257 257h1v1h-1zM259 257h1v1h-1zM263 257h1v1h-1zM210 258h3v1h-3zM223 258h2v1h-2zM234 258h1v1h-1zM241 258h1v1h-1zM243 258h1v1h-1zM248 258h1v1h-1zM263 258h1v1h-1zM210 259h1v1h-1zM213 259h1v1h-1zM219 259h1v1h-1zM223 259h1v1h-1zM227 259h2v1h-2zM235 259h1v1h-1zM241 259h1v1h-1zM251 259h2v1h-2zM254 259h1v1h-1zM257 259h4v1h-4zM263 259h1v1h-1zM266 259h1v1h-1zM213 260h1v1h-1zM215 260h1v1h-1zM239 260h1v1h-1zM260 260h1v1h-1zM211 261h1v1h-1zM217 261h1v1h-1zM225 261h2v1h-2zM236 261h1v1h-1zM242 261h1v1h-1zM244 261h1v1h-1zM266 261h3v1h-3zM214 262h1v1h-1zM216 262h1v1h-1zM223 262h1v1h-1zM230 262h1v1h-1zM235 262h4v1h-4zM244 262h1v1h-1zM251 262h2v1h-2zM256 262h1v1h-1zM261 262h1v1h-1zM267 262h1v1h-1zM236 263h2v1h-2zM243 263h2v1h-2zM246 263h1v1h-1zM252 263h1v1h-1zM258 263h2v1h-2zM264 263h1v1h-1zM266 263h2v1h-2zM235 264h3v1h-3zM246 264h1v1h-1zM258 264h2v1h-2zM261 264h4v1h-4zM271 264h1v1h-1zM224 265h2v1h-2zM228 265h1v1h-1zM235 265h1v1h-1zM237 265h1v1h-1zM240 265h2v1h-2zM243 265h2v1h-2zM248 265h1v1h-1zM253 265h2v1h-2zM270 265h2v1h-2zM213 266h2v1h-2zM219 266h1v1h-1zM224 266h1v1h-1zM226 266h1v1h-1zM230 266h1v1h-1zM237 266h1v1h-1zM242 266h1v1h-1zM248 266h1v1h-1zM253 266h2v1h-2zM269 266h1v1h-1zM271 266h1v1h-1zM219 267h1v1h-1zM225 267h2v1h-2zM229 267h2v1h-2zM232 267h2v1h-2zM251 267h5v1h-5zM257 267h1v1h-1zM265 267h1v1h-1zM271 267h1v1h-1zM225 268h1v1h-1zM231 268h1v1h-1zM258 268h1v1h-1zM212 269h1v1h-1zM216 269h1v1h-1zM222 269h1v1h-1zM224 269h1v1h-1zM233 269h1v1h-1zM236 269h1v1h-1zM238 269h1v1h-1zM255 269h2v1h-2zM263 269h2v1h-2zM267 269h1v1h-1zM212 270h1v1h-1zM220 270h1v1h-1zM222 270h1v1h-1zM224 270h1v1h-1zM227 270h1v1h-1zM234 270h2v1h-2zM255 270h3v1h-3zM263 270h2v1h-2zM268 270h1v1h-1zM270 270h3v1h-3zM212 271h2v1h-2zM220 271h2v1h-2zM224 271h1v1h-1zM229 271h1v1h-1zM241 271h2v1h-2zM250 271h2v1h-2zM255 271h1v1h-1zM260 271h1v1h-1zM264 271h1v1h-1zM266 271h1v1h-1zM225 272h1v1h-1zM235 272h2v1h-2zM243 272h2v1h-2zM254 272h1v1h-1zM261 272h1v1h-1zM267 272h1v1h-1zM217 273h1v1h-1zM237 273h1v1h-1zM247 273h1v1h-1zM253 273h1v1h-1zM258 273h1v1h-1zM267 273h1v1h-1zM217 274h1v1h-1zM221 274h1v1h-1zM228 274h2v1h-2zM243 274h1v1h-1zM247 274h2v1h-2zM253 274h1v1h-1zM268 274h1v1h-1zM271 274h1v1h-1zM212 275h1v1h-1zM223 275h1v1h-1zM226 275h1v1h-1zM230 275h1v1h-1zM247 275h1v1h-1zM270 275h1v1h-1zM214 276h1v1h-1zM224 276h3v1h-3zM228 276h1v1h-1zM230 276h1v1h-1zM233 276h1v1h-1zM236 276h1v1h-1zM245 276h1v1h-1zM247 276h1v1h-1zM254 276h2v1h-2zM258 276h1v1h-1zM260 276h1v1h-1zM262 276h1v1h-1zM268 276h1v1h-1zM270 276h1v1h-1zM275 276h1v1h-1zM277 276h3v1h-3zM210 277h2v1h-2zM214 277h3v1h-3zM224 277h3v1h-3zM230 277h2v1h-2zM234 277h1v1h-1zM238 277h1v1h-1zM242 277h2v1h-2zM254 277h1v1h-1zM260 277h3v1h-3zM266 277h1v1h-1zM270 277h1v1h-1zM210 278h1v1h-1zM214 278h1v1h-1zM216 278h1v1h-1zM225 278h3v1h-3zM230 278h1v1h-1zM241 278h1v1h-1zM265 278h2v1h-2zM210 279h1v1h-1zM213 279h6v1h-6zM228 279h1v1h-1zM230 279h1v1h-1zM238 279h1v1h-1zM242 279h2v1h-2zM258 279h1v1h-1zM271 279h1v1h-1zM278 279h1v1h-1zM213 280h3v1h-3zM225 280h3v1h-3zM229 280h1v1h-1zM245 280h1v1h-1zM253 280h1v1h-1zM258 280h1v1h-1zM260 280h1v1h-1zM265 280h1v1h-1zM271 280h1v1h-1zM213 281h1v1h-1zM217 281h1v1h-1zM221 281h1v1h-1zM244 281h2v1h-2zM271 281h2v1h-2zM276 281h1v1h-1zM210 282h2v1h-2zM216 282h3v1h-3zM234 282h3v1h-3zM239 282h1v1h-1zM241 282h1v1h-1zM245 282h1v1h-1zM258 282h1v1h-1zM219 283h1v1h-1zM230 283h1v1h-1zM232 283h1v1h-1zM236 283h2v1h-2zM241 283h1v1h-1zM244 283h1v1h-1zM249 283h1v1h-1zM252 283h1v1h-1zM257 283h2v1h-2zM263 283h2v1h-2zM268 283h3v1h-3zM273 283h2v1h-2zM212 284h1v1h-1zM227 284h1v1h-1zM233 284h1v1h-1zM236 284h3v1h-3zM245 284h4v1h-4zM254 284h1v1h-1zM256 284h1v1h-1zM261 284h2v1h-2zM211 285h1v1h-1zM213 285h2v1h-2zM219 285h1v1h-1zM244 285h1v1h-1zM248 285h1v1h-1zM257 285h1v1h-1zM260 285h1v1h-1zM266 285h1v1h-1zM270 285h2v1h-2zM212 286h2v1h-2zM225 286h1v1h-1zM233 286h1v1h-1zM237 286h1v1h-1zM243 286h2v1h-2zM246 286h2v1h-2zM252 286h1v1h-1zM257 286h1v1h-1zM264 286h1v1h-1zM270 286h2v1h-2zM212 287h1v1h-1zM216 287h2v1h-2zM224 287h1v1h-1zM234 287h2v1h-2zM237 287h1v1h-1zM243 287h1v1h-1zM245 287h1v1h-1zM250 287h1v1h-1zM257 287h1v1h-1zM264 287h1v1h-1zM213 288h2v1h-2zM230 288h1v1h-1zM234 288h2v1h-2zM237 288h1v1h-1zM240 288h1v1h-1zM245 288h2v1h-2zM254 288h1v1h-1zM260 288h3v1h-3zM264 288h2v1h-2zM277 288h1v1h-1zM212 289h1v1h-1zM216 289h1v1h-1zM222 289h2v1h-2zM236 289h1v1h-1zM240 289h1v1h-1zM250 289h1v1h-1zM254 289h1v1h-1zM261 289h1v1h-1zM265 289h1v1h-1zM269 289h1v1h-1zM271 289h1v1h-1zM277 289h1v1h-1zM281 289h1v1h-1zM220 290h1v1h-1zM223 290h1v1h-1zM226 290h1v1h-1zM230 290h1v1h-1zM251 290h1v1h-1zM254 290h1v1h-1zM265 290h1v1h-1zM269 290h1v1h-1zM271 290h1v1h-1zM273 290h1v1h-1zM277 290h1v1h-1zM213 291h2v1h-2zM221 291h1v1h-1zM227 291h1v1h-1zM231 291h1v1h-1zM239 291h1v1h-1zM243 291h4v1h-4zM251 291h1v1h-1zM254 291h1v1h-1zM261 291h1v1h-1zM265 291h1v1h-1zM268 291h1v1h-1zM271 291h1v1h-1zM273 291h1v1h-1zM275 291h2v1h-2zM280 291h2v1h-2zM210 292h1v1h-1zM217 292h2v1h-2zM220 292h1v1h-1zM226 292h1v1h-1zM245 292h1v1h-1zM255 292h1v1h-1zM264 292h1v1h-1zM269 292h1v1h-1zM275 292h1v1h-1zM277 292h1v1h-1zM280 292h2v1h-2zM217 293h2v1h-2zM220 293h1v1h-1zM227 293h1v1h-1zM244 293h4v1h-4zM259 293h1v1h-1zM280 293h1v1h-1zM214 294h1v1h-1zM220 294h1v1h-1zM225 294h3v1h-3zM235 294h1v1h-1zM243 294h1v1h-1zM256 294h1v1h-1zM258 294h1v1h-1zM264 294h1v1h-1zM267 294h2v1h-2zM276 294h1v1h-1zM280 294h1v1h-1zM213 295h3v1h-3zM219 295h4v1h-4zM226 295h2v1h-2zM255 295h1v1h-1zM269 295h1v1h-1zM271 295h3v1h-3zM275 295h1v1h-1zM280 295h1v1h-1zM210 296h1v1h-1zM215 296h3v1h-3zM220 296h2v1h-2zM224 296h1v1h-1zM228 296h1v1h-1zM233 296h3v1h-3zM245 296h1v1h-1zM248 296h1v1h-1zM252 296h1v1h-1zM261 296h1v1h-1zM263 296h2v1h-2zM266 296h1v1h-1zM272 296h2v1h-2zM210 297h1v1h-1zM215 297h1v1h-1zM220 297h1v1h-1zM223 297h2v1h-2zM232 297h1v1h-1zM242 297h1v1h-1zM245 297h2v1h-2zM248 297h4v1h-4zM262 297h2v1h-2zM265 297h1v1h-1zM271 297h1v1h-1zM281 297h1v1h-1zM210 298h1v1h-1zM212 298h2v1h-2zM216 298h1v1h-1zM218 298h1v1h-1zM222 298h1v1h-1zM234 298h1v1h-1zM237 298h1v1h-1zM239 298h2v1h-2zM249 298h1v1h-1zM255 298h3v1h-3zM263 298h1v1h-1zM270 298h1v1h-1zM280 298h4v1h-4zM210 299h3v1h-3zM218 299h1v1h-1zM220 299h1v1h-1zM223 299h3v1h-3zM244 299h1v1h-1zM253 299h3v1h-3zM257 299h1v1h-1zM265 299h1v1h-1zM277 299h2v1h-2zM217 300h2v1h-2zM224 300h1v1h-1zM227 300h2v1h-2zM232 300h1v1h-1zM237 300h1v1h-1zM254 300h2v1h-2zM257 300h3v1h-3zM269 300h2v1h-2zM276 300h1v1h-1zM211 301h2v1h-2zM214 301h1v1h-1zM224 301h1v1h-1zM228 301h2v1h-2zM261 301h1v1h-1zM267 301h1v1h-1zM229 302h2v1h-2zM240 302h2v1h-2zM246 302h1v1h-1zM255 302h2v1h-2zM259 302h1v1h-1zM269 302h1v1h-1zM276 302h1v1h-1zM278 302h2v1h-2zM281 302h2v1h-2zM246 303h1v1h-1zM248 303h3v1h-3zM256 303h3v1h-3zM261 303h1v1h-1zM273 303h2v1h-2zM242 304h2v1h-2zM246 304h1v1h-1zM252 304h1v1h-1zM256 304h1v1h-1zM258 304h1v1h-1zM261 304h2v1h-2zM273 304h1v1h-1zM237 305h2v1h-2zM243 305h1v1h-1zM245 305h1v1h-1zM253 305h1v1h-1zM265 305h2v1h-2zM277 305h1v1h-1zM280 305h2v1h-2zM243 306h1v1h-1zM253 306h1v1h-1zM261 306h1v1h-1zM274 306h2v1h-2zM281 306h1v1h-1zM283 306h1v1h-1zM244 307h1v1h-1zM252 307h1v1h-1zM258 307h1v1h-1zM261 307h1v1h-1zM273 307h2v1h-2zM282 307h3v1h-3zM252 308h1v1h-1zM258 308h1v1h-1zM268 308h1v1h-1zM272 308h1v1h-1zM255 309h1v1h-1zM257 309h2v1h-2zM261 309h1v1h-1zM285 309h1v1h-1zM254 310h2v1h-2zM258 310h1v1h-1zM267 310h3v1h-3zM280 310h2v1h-2zM257 311h2v1h-2zM278 311h1v1h-1zM271 312h1v1h-1zM284 312h2v1h-2zM284 313h3v1h-3zM270 314h2v1h-2zM274 314h1v1h-1zM281 314h1v1h-1zM286 314h1v1h-1zM270 315h2v1h-2zM274 315h1v1h-1zM276 315h1v1h-1zM281 315h1v1h-1zM283 315h1v1h-1zM271 317h1v1h-1zM275 317h3v1h-3zM280 317h1v1h-1zM282 317h1v1h-1zM271 318h1v1h-1zM275 318h1v1h-1zM277 318h1v1h-1zM282 318h1v1h-1zM286 318h1v1h-1zM276 319h1v1h-1zM279 319h1v1h-1zM282 319h1v1h-1zM272 320h1v1h-1zM277 320h1v1h-1zM281 320h1v1h-1zM273 321h1v1h-1zM275 321h1v1h-1zM281 321h1v1h-1zM273 322h1v1h-1zM275 322h1v1h-1zM277 323h1v1h-1z"/>
<path fill="#8000ff" d="M210 252h1v1h-1zM218 252h3v1h-3zM226 252h2v1h-2zM210 253h1v1h-1zM216 253h1v1h-1zM218 253h1v1h-1zM215 254h3v1h-3zM216 255h1v1h-1zM221 255h3v1h-3zM225 255h3v1h-3zM220 256h5v1h-5zM210 257h1v1h-1zM214 257h1v1h-1zM216 257h1v1h-1zM220 257h1v1h-1zM223 257h1v1h-1zM210 258h1v1h-1zM220 258h1v1h-1zM223 258h1v1h-1zM227 258h1v1h-1zM210 259h2v1h-2zM216 259h1v1h-1zM221 259h1v1h-1zM226 259h2v1h-2zM211 260h9v1h-9zM211 261h1v1h-1zM217 261h1v1h-1zM226 261h2v1h-2zM211 262h4v1h-4zM226 262h2v1h-2zM212 263h1v1h-1zM214 263h2v1h-2zM219 263h1v1h-1zM226 263h2v1h-2zM210 264h3v1h-3zM214 264h2v1h-2zM222 264h1v1h-1zM225 264h2v1h-2zM214 265h1v1h-1zM222 265h1v1h-1zM226 265h1v1h-1zM213 266h2v1h-2zM218 266h1v1h-1zM225 266h2v1h-2zM213 267h3v1h-3zM220 267h1v1h-1zM224 267h4v1h-4zM214 268h1v1h-1zM216 268h2v1h-2zM219 268h1v1h-1zM210 269h1v1h-1zM219 269h1v1h-1zM210 270h2v1h-2zM215 270h1v1h-1zM218 270h2v1h-2zM223 270h1v1h-1zM227 270h1v1h-1zM210 271h1v1h-1zM215 271h1v1h-1zM227 271h1v1h-1zM211 272h2v1h-2zM215 272h2v1h-2zM220 272h3v1h-3zM225 272h1v1h-1zM212 273h1v1h-1zM216 273h1v1h-1zM219 273h2v1h-2zM222 273h1v1h-1zM225 273h1v1h-1zM212 274h1v1h-1zM220 274h4v1h-4zM212 275h1v1h-1zM217 275h1v1h-1zM221 275h3v1h-3zM210 276h1v1h-1zM214 276h1v1h-1zM216 276h2v1h-2zM219 276h1v1h-1zM213 277h5v1h-5zM213 278h5v1h-5zM226 278h1v1h-1zM213 279h2v1h-2zM216 279h2v1h-2zM221 279h2v1h-2zM213 280h1v1h-1zM216 280h2v1h-2zM220 280h3v1h-3zM226 280h2v1h-2zM217 281h1v1h-1zM222 281h2v1h-2zM227 281h1v1h-1zM211 282h1v1h-1zM215 283h2v1h-2zM217 284h1v1h-1zM222 287h1v1h-1zM227 287h1v1h-1zM211 288h1v1h-1zM223 288h1v1h-1zM227 288h1v1h-1zM220 289h1v1h-1zM223 289h1v1h-1zM225 289h3v1h-3zM218 290h2v1h-2zM225 290h2v1h-2zM218 291h9v1h-9zM210 292h1v1h-1zM212 292h2v1h-2zM218 292h3v1h-3zM222 292h5v1h-5zM210 293h4v1h-4zM218 293h1v1h-1zM220 293h6v1h-6zM210 294h7v1h-7zM220 294h2v1h-2zM225 294h1v1h-1zM212 295h3v1h-3zM220 295h1v1h-1zM210 296h2v1h-2zM213 296h1v1h-1zM218 296h2v1h-2zM224 296h4v1h-4zM210 297h3v1h-3zM219 297h1v1h-1zM221 297h2v1h-2zM225 297h2v1h-2zM210 298h1v1h-1zM218 298h5v1h-5zM225 298h3v1h-3zM219 299h4v1h-4zM226 299h2v1h-2zM226 300h2v1h-2zM210 301h2v1h-2zM213 301h1v1h-1zM225 301h3v1h-3z"/>
<path fill="#5bf9c7" d="M219 252h1v1h-1zM218 253h1v1h-1zM218 254h1v1h-1zM226 254h1v1h-1zM219 255h1v1h-1zM226 255h1v1h-1zM216 256h1v1h-1zM221 256h1v1h-1zM223 256h1v1h-1zM210 257h2v1h-2zM229 257h1v1h-1zM221 258h1v1h-1zM229 258h1v1h-1zM233 258h1v1h-1zM216 259h1v1h-1zM221 259h1v1h-1zM211 260h1v1h-1zM216 260h2v1h-2zM210 261h2v1h-2zM211 262h1v1h-1zM211 263h1v1h-1zM219 264h1v1h-1zM230 265h1v1h-1zM210 266h1v1h-1zM217 267h1v1h-1zM221 268h1v1h-1zM228 269h1v1h-1zM212 270h1v1h-1zM219 275h1v1h-1zM223 277h1v1h-1zM220 279h2v1h-2zM210 280h1v1h-1zM220 280h2v1h-2zM210 281h1v1h-1zM213 281h1v1h-1zM210 282h1v1h-1zM212 283h1v1h-1zM219 283h1v1h-1zM212 284h1v1h-1zM210 285h1v1h-1zM214 288h1v1h-1zM210 289h1v1h-1zM210 291h1v1h-1zM216 291h1v1h-1zM211 292h1v1h-1zM212 293h1v1h-1z"/>
<path fill="#a4f99f" d="M213 252h1v1h-1zM224 252h1v1h-1zM224 253h1v1h-1zM221 254h1v1h-1zM218 255h1v1h-1zM221 255h1v1h-1zM216 256h1v1h-1zM221 256h1v1h-1zM226 258h1v1h-1zM219 259h1v1h-1zM227 259h1v1h-1zM219 260h2v1h-2zM227 260h2v1h-2zM220 264h1v1h-1zM223 264h1v1h-1zM218 267h1v1h-1zM225 267h2v1h-2zM229 268h1v1h-1zM224 274h1v1h-1zM211 276h2v1h-2zM219 276h1v1h-1zM212 280h1v1h-1zM216 281h1v1h-1zM222 282h1v1h-1zM216 288h1v1h-1zM211 291h1v1h-1zM210 292h5v1h-5zM212 293h1v1h-1z"/>
<path fill="#8000ff" d="M210 309h2v1h-2zM228 309h2v1h-2zM233 309h1v1h-1zM243 309h1v1h-1zM247 309h4v1h-4zM252 309h5v1h-5zM258 309h1v1h-1zM264 309h3v1h-3zM210 310h1v1h-1zM216 310h1v1h-1zM218 310h3v1h-3zM228 310h2v1h-2zM233 310h1v1h-1zM238 310h1v1h-1zM248 310h3v1h-3zM253 310h3v1h-3zM258 310h1v1h-1zM262 310h2v1h-2zM210 311h1v1h-1zM216 311h2v1h-2zM220 311h1v1h-1zM223 311h1v1h-1zM230 311h1v1h-1zM233 311h3v1h-3zM238 311h1v1h-1zM253 311h2v1h-2zM263 311h1v1h-1zM210 312h1v1h-1zM214 312h1v1h-1zM221 312h7v1h-7zM230 312h1v1h-1zM233 312h6v1h-6zM241 312h2v1h-2zM254 312h3v1h-3zM265 312h2v1h-2zM222 313h3v1h-3zM232 313h2v1h-2zM236 313h2v1h-2zM241 313h1v1h-1zM255 313h2v1h-2zM265 313h1v1h-1zM213 314h1v1h-1zM220 314h5v1h-5zM233 314h1v1h-1zM237 314h2v1h-2zM255 314h2v1h-2zM259 314h1v1h-1zM220 315h4v1h-4zM228 315h1v1h-1zM237 315h2v1h-2zM240 315h3v1h-3zM246 315h1v1h-1zM256 315h1v1h-1zM259 315h1v1h-1zM263 315h1v1h-1zM211 316h1v1h-1zM219 316h3v1h-3zM224 316h4v1h-4zM240 316h3v1h-3zM252 316h1v1h-1zM256 316h1v1h-1zM261 316h1v1h-1zM211 317h2v1h-2zM220 317h1v1h-1zM241 317h2v1h-2zM244 317h2v1h-2zM252 317h1v1h-1zM256 317h1v1h-1zM261 317h1v1h-1zM264 317h2v1h-2zM210 318h3v1h-3zM227 318h1v1h-1zM229 318h1v1h-1zM241 318h2v1h-2zM255 318h1v1h-1zM259 318h1v1h-1zM264 318h1v1h-1zM266 318h1v1h-1zM210 319h2v1h-2zM213 319h1v1h-1zM222 319h1v1h-1zM226 319h1v1h-1zM228 319h1v1h-1zM237 319h1v1h-1zM240 319h3v1h-3zM244 319h2v1h-2zM250 319h2v1h-2zM253 319h2v1h-2zM259 319h2v1h-2zM266 319h1v1h-1zM211 320h3v1h-3zM219 320h4v1h-4zM228 320h1v1h-1zM233 320h1v1h-1zM239 320h1v1h-1zM243 320h1v1h-1zM249 320h2v1h-2zM252 320h3v1h-3zM259 320h5v1h-5zM211 321h3v1h-3zM216 321h7v1h-7zM225 321h1v1h-1zM249 321h2v1h-2zM252 321h2v1h-2zM256 321h1v1h-1zM261 321h4v1h-4zM215 322h6v1h-6zM222 322h1v1h-1zM241 322h1v1h-1zM262 322h1v1h-1zM264 322h1v1h-1zM213 323h3v1h-3zM217 323h2v1h-2zM223 323h1v1h-1zM227 323h1v1h-1zM243 323h2v1h-2zM252 323h1v1h-1zM214 324h2v1h-2zM220 324h5v1h-5zM226 324h2v1h-2zM233 324h3v1h-3zM238 324h3v1h-3zM242 324h3v1h-3zM246 324h2v1h-2zM251 324h3v1h-3zM259 324h2v1h-2zM263 324h1v1h-1zM215 325h1v1h-1zM220 325h8v1h-8zM233 325h2v1h-2zM238 325h1v1h-1zM240 325h1v1h-1zM243 325h2v1h-2zM246 325h2v1h-2zM250 325h4v1h-4zM258 325h4v1h-4zM263 325h4v1h-4zM212 326h1v1h-1zM220 326h1v1h-1zM222 326h4v1h-4zM238 326h3v1h-3zM244 326h4v1h-4zM249 326h1v1h-1zM251 326h3v1h-3zM259 326h3v1h-3zM263 326h2v1h-2zM212 327h2v1h-2zM222 327h3v1h-3zM231 327h1v1h-1zM240 327h1v1h-1zM243 327h2v1h-2zM249 327h3v1h-3zM253 327h2v1h-2zM260 327h1v1h-1zM265 327h1v1h-1zM211 328h1v1h-1zM213 328h1v1h-1zM221 328h4v1h-4zM228 328h1v1h-1zM235 328h1v1h-1zM243 328h1v1h-1zM249 328h1v1h-1zM256 328h1v1h-1zM258 328h1v1h-1zM260 328h1v1h-1zM263 328h3v1h-3zM211 329h1v1h-1zM213 329h1v1h-1zM220 329h5v1h-5zM227 329h3v1h-3zM235 329h2v1h-2zM249 329h1v1h-1zM258 329h1v1h-1zM263 329h2v1h-2zM210 330h2v1h-2zM220 330h1v1h-1zM222 330h4v1h-4zM227 330h1v1h-1zM229 330h2v1h-2zM235 330h2v1h-2zM258 330h2v1h-2zM263 330h1v1h-1zM214 331h2v1h-2zM221 331h9v1h-9zM250 331h2v1h-2zM256 331h5v1h-5zM263 331h2v1h-2zM212 332h5v1h-5zM226 332h2v1h-2zM229 332h1v1h-1zM233 332h3v1h-3zM238 332h2v1h-2zM243 332h1v1h-1zM249 332h4v1h-4zM256 332h1v1h-1zM258 332h2v1h-2zM263 332h4v1h-4zM212 333h1v1h-1zM215 333h1v1h-1zM219 333h2v1h-2zM229 333h1v1h-1zM234 333h1v1h-1zM237 333h5v1h-5zM244 333h1v1h-1zM252 333h1v1h-1zM259 333h1v1h-1zM261 333h1v1h-1zM263 333h1v1h-1zM213 334h2v1h-2zM219 334h3v1h-3zM227 334h2v1h-2zM236 334h4v1h-4zM242 334h1v1h-1zM244 334h2v1h-2zM252 334h1v1h-1zM259 334h3v1h-3zM212 335h4v1h-4zM217 335h4v1h-4zM224 335h2v1h-2zM227 335h1v1h-1zM238 335h2v1h-2zM242 335h1v1h-1zM245 335h1v1h-1zM259 335h2v1h-2zM266 335h1v1h-1zM211 336h3v1h-3zM215 336h2v1h-2zM219 336h2v1h-2zM224 336h3v1h-3zM233 336h1v1h-1zM238 336h3v1h-3zM253 336h2v1h-2zM266 336h1v1h-1zM212 337h2v1h-2zM215 337h1v1h-1zM224 337h5v1h-5zM233 337h2v1h-2zM240 337h1v1h-1zM244 337h1v1h-1zM253 337h1v1h-1zM265 337h2v1h-2zM213 338h4v1h-4zM224 338h5v1h-5zM234 338h1v1h-1zM248 338h2v1h-2zM262 338h1v1h-1zM265 338h2v1h-2zM212 339h1v1h-1zM214 339h3v1h-3zM223 339h1v1h-1zM234 339h1v1h-1zM239 339h1v1h-1zM246 339h2v1h-2zM249 339h1v1h-1zM263 339h4v1h-4zM212 340h4v1h-4zM233 340h2v1h-2zM238 340h1v1h-1zM244 340h5v1h-5zM263 340h4v1h-4zM218 341h1v1h-1zM223 341h3v1h-3zM235 341h2v1h-2zM244 341h3v1h-3zM257 341h2v1h-2zM263 341h1v1h-1zM265 341h2v1h-2z"/>
<path fill="#376ff9" d="M270 321h1v1h-1zM266 322h1v1h-1zM266 323h1v1h-1zM270 323h1v1h-1zM280 324h2v1h-2zM284 324h2v1h-2zM276 326h1v1h-1zM261 327h2v1h-2zM270 327h1v1h-1zM273 327h1v1h-1zM283 327h1v1h-1zM261 328h2v1h-2zM269 328h5v1h-5zM281 328h3v1h-3zM271 329h2v1h-2zM281 329h3v1h-3zM268 330h1v1h-1zM271 330h2v1h-2zM274 330h2v1h-2zM281 330h2v1h-2zM267 331h2v1h-2zM276 331h2v1h-2zM280 331h2v1h-2zM272 333h1v1h-1z"/>
<path fill="#12c7e6" d="M278 328h2v1h-2zM266 329h3v1h-3zM278 329h2v1h-2zM243 330h2v1h-2zM247 330h3v1h-3zM251 330h2v1h-2zM256 330h2v1h-2zM266 330h2v1h-2zM271 330h2v1h-2zM248 331h4v1h-4zM253 331h2v1h-2zM256 331h2v1h-2zM249 332h2v1h-2zM254 332h1v1h-1zM260 332h1v1h-1zM270 332h1v1h-1zM261 333h1v1h-1zM247 335h2v1h-2zM272 335h1v1h-1zM241 336h1v1h-1zM259 336h2v1h-2zM264 336h1v1h-1zM242 339h1v1h-1zM245 339h1v1h-1zM270 340h2v1h-2zM235 341h1v1h-1zM260 341h1v1h-1zM268 341h3v1h-3z"/>
<path fill="#5bf9c7" d="M379 316h1v1h-1zM373 317h2v1h-2zM374 318h1v1h-1zM374 319h1v1h-1zM375 321h3v1h-3zM378 323h2v1h-2zM378 324h2v1h-2z"/>
<path fill="#ff0000" d="M403 331h1v1h-1zM403 338h2v1h-2zM404 339h1v1h-1zM396 340h1v1h-1zM396 341h1v1h-1z"/>
<path fill="#8000ff" d="M468 252h3v1h-3zM473 252h4v1h-4zM478 252h3v1h-3zM483 252h1v1h-1zM485 252h6v1h-6zM494 252h3v1h-3zM504 252h3v1h-3zM467 253h3v1h-3zM473 253h3v1h-3zM478 253h2v1h-2zM481 253h7v1h-7zM489 253h4v1h-4zM494 253h1v1h-1zM496 253h2v1h-2zM499 253h5v1h-5zM505 253h2v1h-2zM473 254h2v1h-2zM481 254h3v1h-3zM485 254h16v1h-16zM502 254h4v1h-4zM475 255h3v1h-3zM482 255h1v1h-1zM485 255h1v1h-1zM491 255h4v1h-4zM497 255h4v1h-4zM503 255h2v1h-2zM468 256h3v1h-3zM475 256h2v1h-2zM482 256h2v1h-2zM490 256h1v1h-1zM492 256h3v1h-3zM497 256h3v1h-3zM476 257h3v1h-3zM483 257h1v1h-1zM490 257h1v1h-1zM495 257h4v1h-4zM504 257h1v1h-1zM470 258h1v1h-1zM475 258h3v1h-3zM479 258h1v1h-1zM490 258h1v1h-1zM495 258h3v1h-3zM503 258h3v1h-3zM470 259h1v1h-1zM473 259h3v1h-3zM480 259h1v1h-1zM487 259h1v1h-1zM490 259h1v1h-1zM498 259h9v1h-9zM473 260h2v1h-2zM479 260h2v1h-2zM487 260h4v1h-4zM495 260h1v1h-1zM498 260h5v1h-5zM505 260h1v1h-1zM477 261h4v1h-4zM487 261h4v1h-4zM494 261h2v1h-2zM498 261h5v1h-5zM471 262h4v1h-4zM478 262h1v1h-1zM482 262h2v1h-2zM487 262h3v1h-3zM493 262h3v1h-3zM497 262h4v1h-4zM503 262h1v1h-1zM506 262h1v1h-1zM471 263h2v1h-2zM474 263h2v1h-2zM478 263h1v1h-1zM482 263h2v1h-2zM487 263h3v1h-3zM493 263h3v1h-3zM501 263h1v1h-1zM487 264h3v1h-3zM494 264h2v1h-2zM501 264h1v1h-1zM503 264h3v1h-3zM482 265h2v1h-2zM492 265h1v1h-1zM494 265h1v1h-1zM503 265h3v1h-3zM479 266h1v1h-1zM491 266h3v1h-3zM497 266h1v1h-1zM505 266h2v1h-2zM490 267h2v1h-2zM493 267h2v1h-2zM497 267h1v1h-1zM502 267h1v1h-1zM506 267h1v1h-1zM473 268h2v1h-2zM477 268h3v1h-3zM490 268h2v1h-2zM495 268h1v1h-1zM497 268h1v1h-1zM501 268h3v1h-3zM506 268h1v1h-1zM474 269h9v1h-9zM489 269h3v1h-3zM496 269h3v1h-3zM501 269h3v1h-3zM506 269h1v1h-1zM477 270h4v1h-4zM486 270h5v1h-5zM497 270h2v1h-2zM478 271h3v1h-3zM483 271h2v1h-2zM486 271h1v1h-1zM490 271h1v1h-1zM498 271h3v1h-3zM475 272h1v1h-1zM478 272h2v1h-2zM481 272h3v1h-3zM493 272h1v1h-1zM503 272h2v1h-2zM475 273h2v1h-2zM478 273h2v1h-2zM481 273h2v1h-2zM497 273h1v1h-1zM504 273h1v1h-1zM477 274h3v1h-3zM481 274h2v1h-2zM489 274h1v1h-1zM498 274h1v1h-1zM504 274h1v1h-1zM478 275h5v1h-5zM502 275h1v1h-1zM479 276h4v1h-4zM485 276h1v1h-1zM494 276h1v1h-1zM496 276h1v1h-1zM499 276h4v1h-4zM478 277h4v1h-4zM485 277h2v1h-2zM490 277h2v1h-2zM496 277h2v1h-2zM501 277h2v1h-2zM480 278h1v1h-1zM485 278h2v1h-2zM489 278h3v1h-3zM502 278h3v1h-3zM484 279h2v1h-2zM487 279h3v1h-3zM502 279h2v1h-2zM484 280h6v1h-6zM493 280h1v1h-1zM485 281h1v1h-1zM488 281h2v1h-2zM494 281h1v1h-1zM488 282h3v1h-3zM496 282h3v1h-3zM505 282h1v1h-1zM488 283h2v1h-2zM491 283h1v1h-1zM498 283h2v1h-2zM505 283h1v1h-1zM492 284h1v1h-1zM492 285h1v1h-1zM496 285h2v1h-2zM506 285h1v1h-1zM497 286h1v1h-1zM500 286h2v1h-2zM496 287h1v1h-1zM498 287h2v1h-2zM505 287h1v1h-1zM501 290h2v1h-2zM506 291h1v1h-1zM506 292h1v1h-1z"/>
<path fill="#a4f99f" d="M468 255h4v1h-4zM457 256h1v1h-1zM466 256h4v1h-4zM478 256h2v1h-2zM463 257h2v1h-2zM470 257h1v1h-1zM478 257h1v1h-1zM463 258h1v1h-1zM478 258h1v1h-1zM473 259h4v1h-4zM473 260h3v1h-3zM460 261h2v1h-2zM474 261h1v1h-1zM459 262h2v1h-2zM468 262h2v1h-2zM462 263h3v1h-3zM468 263h2v1h-2zM474 263h2v1h-2zM477 263h1v1h-1zM457 264h1v1h-1zM459 264h3v1h-3zM463 264h3v1h-3zM469 264h1v1h-1zM476 264h2v1h-2zM462 265h3v1h-3zM470 265h1v1h-1zM472 265h5v1h-5zM461 266h1v1h-1zM464 266h2v1h-2zM473 266h1v1h-1zM464 267h2v1h-2zM473 267h1v1h-1zM464 268h2v1h-2zM468 268h1v1h-1zM473 268h1v1h-1zM462 269h2v1h-2zM466 269h1v1h-1zM468 269h1v1h-1zM462 270h2v1h-2zM469 270h2v1h-2zM473 270h2v1h-2zM463 271h1v1h-1zM468 271h2v1h-2zM472 271h3v1h-3zM461 272h1v1h-1zM463 272h3v1h-3zM470 272h1v1h-1zM473 272h1v1h-1zM476 272h1v1h-1zM458 273h2v1h-2zM462 273h4v1h-4zM470 273h2v1h-2zM475 273h2v1h-2zM462 274h2v1h-2zM465 274h2v1h-2zM470 274h3v1h-3zM463 275h4v1h-4zM469 275h4v1h-4zM463 276h2v1h-2zM467 276h1v1h-1zM469 276h4v1h-4zM463 277h1v1h-1zM466 277h2v1h-2zM470 277h3v1h-3zM470 278h1v1h-1z"/>
<path fill="#5bf9c7" d="M458 255h2v1h-2zM464 255h1v1h-1zM475 255h1v1h-1zM483 255h2v1h-2zM488 255h2v1h-2zM458 256h2v1h-2zM468 256h1v1h-1zM475 256h1v1h-1zM485 256h1v1h-1zM488 256h1v1h-1zM461 257h2v1h-2zM468 257h2v1h-2zM470 258h1v1h-1zM448 259h1v1h-1zM483 259h1v1h-1zM487 259h1v1h-1zM448 260h1v1h-1zM467 260h1v1h-1zM475 260h1v1h-1zM484 260h3v1h-3zM451 261h1v1h-1zM455 261h2v1h-2zM463 261h1v1h-1zM468 261h2v1h-2zM484 261h2v1h-2zM450 262h2v1h-2zM458 262h1v1h-1zM463 262h1v1h-1zM468 262h2v1h-2zM473 262h2v1h-2zM476 262h2v1h-2zM485 262h1v1h-1zM448 263h1v1h-1zM458 263h2v1h-2zM466 263h3v1h-3zM472 263h6v1h-6zM448 264h2v1h-2zM466 264h4v1h-4zM471 264h3v1h-3zM489 264h1v1h-1zM448 265h1v1h-1zM461 265h2v1h-2zM469 265h2v1h-2zM476 265h2v1h-2zM486 265h2v1h-2zM455 266h1v1h-1zM484 266h3v1h-3zM465 267h2v1h-2zM484 267h3v1h-3zM455 268h1v1h-1zM460 268h1v1h-1zM466 268h1v1h-1zM480 268h1v1h-1zM485 268h1v1h-1zM453 269h1v1h-1zM456 269h1v1h-1zM459 269h2v1h-2zM464 269h1v1h-1zM474 269h1v1h-1zM460 270h1v1h-1zM474 270h2v1h-2zM486 270h1v1h-1zM460 271h2v1h-2zM474 271h2v1h-2zM464 272h1v1h-1zM474 272h1v1h-1zM480 272h2v1h-2zM449 273h2v1h-2zM461 273h1v1h-1zM463 273h2v1h-2zM480 273h2v1h-2zM486 273h1v1h-1zM449 274h1v1h-1zM474 274h3v1h-3zM481 274h1v1h-1zM485 274h1v1h-1zM488 274h2v1h-2zM448 275h2v1h-2zM469 275h6v1h-6zM476 275h1v1h-1zM488 275h2v1h-2zM448 276h2v1h-2zM465 276h2v1h-2zM470 276h1v1h-1zM472 276h2v1h-2zM479 276h2v1h-2zM489 276h1v1h-1zM472 277h1v1h-1zM478 277h4v1h-4zM485 277h2v1h-2zM472 278h4v1h-4zM485 278h1v1h-1zM452 279h1v1h-1zM473 279h2v1h-2zM448 280h1v1h-1zM457 280h3v1h-3zM465 280h2v1h-2zM474 280h1v1h-1zM480 280h1v1h-1zM483 280h1v1h-1zM448 281h1v1h-1zM465 281h3v1h-3zM481 281h3v1h-3z"/>
<path fill="#376ff9" d="M425 252h2v1h-2zM451 252h1v1h-1zM461 252h1v1h-1zM425 253h1v1h-1zM431 253h1v1h-1zM434 253h3v1h-3zM441 253h2v1h-2zM451 253h1v1h-1zM460 253h2v1h-2zM463 253h1v1h-1zM431 254h1v1h-1zM435 254h4v1h-4zM441 254h1v1h-1zM451 254h1v1h-1zM460 254h1v1h-1zM463 254h2v1h-2zM431 255h1v1h-1zM437 255h3v1h-3zM441 255h1v1h-1zM447 255h2v1h-2zM460 255h1v1h-1zM464 255h1v1h-1zM426 256h1v1h-1zM439 256h2v1h-2zM448 256h1v1h-1zM455 256h1v1h-1zM460 256h1v1h-1zM464 256h1v1h-1zM426 257h1v1h-1zM435 257h1v1h-1zM444 257h1v1h-1zM455 257h1v1h-1zM460 257h1v1h-1zM464 257h1v1h-1zM435 258h1v1h-1zM443 258h3v1h-3zM454 258h1v1h-1zM459 258h1v1h-1zM462 258h3v1h-3zM425 259h1v1h-1zM428 259h1v1h-1zM436 259h2v1h-2zM445 259h1v1h-1zM454 259h2v1h-2zM459 259h1v1h-1zM462 259h1v1h-1zM464 259h1v1h-1zM425 260h6v1h-6zM437 260h4v1h-4zM444 260h4v1h-4zM450 260h1v1h-1zM455 260h1v1h-1zM458 260h5v1h-5zM425 261h6v1h-6zM439 261h3v1h-3zM444 261h4v1h-4zM450 261h2v1h-2zM455 261h1v1h-1zM457 261h5v1h-5zM424 262h5v1h-5zM430 262h2v1h-2zM440 262h1v1h-1zM444 262h4v1h-4zM451 262h4v1h-4zM458 262h4v1h-4zM425 263h6v1h-6zM436 263h2v1h-2zM444 263h3v1h-3zM451 263h2v1h-2zM459 263h2v1h-2zM427 264h2v1h-2zM436 264h2v1h-2zM441 264h2v1h-2zM446 264h1v1h-1zM451 264h2v1h-2zM454 264h3v1h-3zM460 264h2v1h-2zM429 265h2v1h-2zM438 265h1v1h-1zM441 265h1v1h-1zM452 265h2v1h-2zM456 265h1v1h-1zM425 266h6v1h-6zM432 266h3v1h-3zM441 266h1v1h-1zM449 266h1v1h-1zM452 266h2v1h-2zM433 267h1v1h-1zM439 267h3v1h-3zM448 267h1v1h-1zM452 267h2v1h-2zM457 267h1v1h-1zM424 268h1v1h-1zM432 268h3v1h-3zM438 268h2v1h-2zM441 268h2v1h-2zM446 268h1v1h-1zM456 268h5v1h-5zM432 269h3v1h-3zM438 269h5v1h-5zM456 269h1v1h-1zM458 269h1v1h-1zM461 269h4v1h-4zM438 270h5v1h-5zM452 270h1v1h-1zM455 270h2v1h-2zM461 270h3v1h-3zM433 271h9v1h-9zM458 271h3v1h-3zM424 272h1v1h-1zM427 272h2v1h-2zM433 272h2v1h-2zM436 272h3v1h-3zM440 272h1v1h-1zM459 272h2v1h-2zM462 272h1v1h-1zM424 273h2v1h-2zM427 273h1v1h-1zM431 273h1v1h-1zM433 273h1v1h-1zM436 273h3v1h-3zM443 273h2v1h-2zM459 273h6v1h-6zM424 274h2v1h-2zM433 274h1v1h-1zM436 274h3v1h-3zM440 274h2v1h-2zM443 274h3v1h-3zM453 274h1v1h-1zM459 274h5v1h-5zM424 275h1v1h-1zM437 275h7v1h-7zM449 275h3v1h-3zM455 275h1v1h-1zM424 276h4v1h-4zM436 276h4v1h-4zM441 276h1v1h-1zM443 276h1v1h-1zM449 276h4v1h-4zM455 276h1v1h-1zM425 277h2v1h-2zM437 277h1v1h-1zM439 277h1v1h-1zM451 277h2v1h-2zM428 278h1v1h-1zM430 278h2v1h-2zM441 278h1v1h-1zM446 278h1v1h-1zM452 278h2v1h-2zM424 279h1v1h-1zM426 279h1v1h-1zM428 279h6v1h-6zM438 279h5v1h-5zM447 279h1v1h-1zM452 279h2v1h-2zM424 280h3v1h-3zM428 280h1v1h-1zM431 280h3v1h-3zM438 280h2v1h-2zM442 280h1v1h-1zM452 280h2v1h-2zM424 281h3v1h-3zM431 281h4v1h-4zM436 281h1v1h-1zM438 281h1v1h-1zM442 281h1v1h-1zM445 281h2v1h-2zM424 282h2v1h-2zM433 282h3v1h-3zM441 282h2v1h-2zM445 282h1v1h-1zM448 282h2v1h-2zM423 283h2v1h-2zM430 283h1v1h-1zM432 283h4v1h-4zM440 283h2v1h-2zM448 283h2v1h-2zM423 284h3v1h-3zM430 284h1v1h-1zM434 284h3v1h-3zM440 284h1v1h-1zM444 284h2v1h-2zM448 284h1v1h-1zM424 285h1v1h-1zM435 285h3v1h-3zM443 285h2v1h-2zM432 286h1v1h-1zM435 286h1v1h-1zM440 286h1v1h-1zM442 286h4v1h-4zM432 287h4v1h-4zM425 289h3v1h-3zM430 289h2v1h-2zM425 290h3v1h-3zM433 290h2v1h-2zM426 291h2v1h-2zM432 291h1v1h-1zM434 291h2v1h-2zM426 292h2v1h-2zM426 294h1v1h-1zM430 294h4v1h-4zM430 295h3v1h-3zM429 296h2v1h-2zM427 297h1v1h-1zM429 297h2v1h-2zM427 298h1v1h-1z"/>
<path fill="#12c7e6" d="M448 269h2v1h-2zM443 270h3v1h-3zM448 270h2v1h-2zM442 271h4v1h-4zM447 271h2v1h-2zM457 271h1v1h-1zM443 272h2v1h-2zM447 272h2v1h-2zM456 272h2v1h-2zM438 274h2v1h-2zM447 275h1v1h-1zM458 275h2v1h-2zM425 276h1v1h-1zM435 276h1v1h-1zM458 276h2v1h-2zM449 277h2v1h-2zM452 278h2v1h-2zM433 279h1v1h-1zM452 279h2v1h-2zM433 280h2v1h-2zM452 280h1v1h-1zM428 281h1v1h-1zM452 281h2v1h-2zM428 282h1v1h-1zM453 282h2v1h-2zM438 284h1v1h-1zM443 284h1v1h-1zM439 285h1v1h-1zM443 285h1v1h-1zM426 287h1v1h-1zM434 287h1v1h-1zM434 288h1v1h-1zM431 289h1v1h-1zM434 289h1v1h-1zM426 290h1v1h-1zM434 290h2v1h-2zM438 291h1v1h-1zM431 292h1v1h-1zM438 292h1v1h-1zM444 293h1v1h-1zM448 293h1v1h-1zM444 294h1v1h-1zM459 296h1v1h-1zM447 297h1v1h-1zM459 297h1v1h-1zM439 298h1v1h-1zM438 300h1v1h-1zM451 300h1v1h-1zM423 301h1v1h-1zM432 301h1v1h-1zM437 301h3v1h-3zM447 301h1v1h-1z"/>
<path fill="#a4f99f" d="M485 303h5v1h-5zM481 304h2v1h-2zM485 304h5v1h-5zM481 305h3v1h-3zM486 305h1v1h-1zM488 305h1v1h-1zM479 306h6v1h-6zM489 306h1v1h-1zM473 307h1v1h-1zM480 307h1v1h-1zM484 307h2v1h-2zM468 308h2v1h-2zM477 308h2v1h-2zM480 308h1v1h-1zM485 308h1v1h-1zM488 308h2v1h-2zM467 309h2v1h-2zM478 309h3v1h-3zM483 309h1v1h-1zM488 309h2v1h-2zM467 310h2v1h-2zM474 310h1v1h-1zM476 310h1v1h-1zM482 310h3v1h-3zM468 311h1v1h-1zM472 311h2v1h-2zM477 311h2v1h-2zM482 311h3v1h-3zM469 312h5v1h-5zM477 312h2v1h-2zM481 312h5v1h-5zM488 312h2v1h-2zM476 313h3v1h-3zM481 313h5v1h-5zM476 314h2v1h-2zM481 314h3v1h-3zM467 315h1v1h-1zM470 315h2v1h-2zM475 315h5v1h-5zM482 315h4v1h-4zM487 315h1v1h-1zM470 316h2v1h-2zM474 316h6v1h-6zM484 316h2v1h-2zM489 316h1v1h-1zM470 317h1v1h-1zM474 317h1v1h-1zM476 317h1v1h-1zM488 317h2v1h-2zM473 318h2v1h-2zM487 318h3v1h-3zM467 319h1v1h-1zM470 319h1v1h-1zM479 319h3v1h-3zM480 320h1v1h-1zM484 320h1v1h-1zM487 320h1v1h-1zM474 321h1v1h-1zM480 321h5v1h-5zM486 321h2v1h-2zM470 322h1v1h-1zM473 322h2v1h-2zM478 322h6v1h-6zM486 322h3v1h-3zM467 323h1v1h-1zM470 323h2v1h-2zM473 323h2v1h-2zM481 323h3v1h-3zM486 323h3v1h-3zM469 324h3v1h-3zM478 324h6v1h-6zM488 324h1v1h-1zM467 325h3v1h-3zM472 325h1v1h-1zM474 325h1v1h-1zM476 325h3v1h-3zM480 325h1v1h-1zM467 326h4v1h-4zM472 326h7v1h-7zM480 326h1v1h-1zM488 326h1v1h-1z"/>
<path fill="#5bf9c7" d="M460 302h1v1h-1zM465 302h2v1h-2zM469 302h2v1h-2zM485 302h1v1h-1zM501 302h3v1h-3zM461 303h1v1h-1zM471 303h2v1h-2zM475 303h2v1h-2zM472 304h3v1h-3zM481 304h2v1h-2zM499 304h1v1h-1zM463 305h2v1h-2zM491 305h2v1h-2zM500 305h1v1h-1zM463 306h1v1h-1zM468 306h3v1h-3zM485 306h3v1h-3zM492 306h1v1h-1zM497 306h1v1h-1zM500 306h2v1h-2zM468 307h4v1h-4zM482 307h1v1h-1zM485 307h3v1h-3zM493 307h1v1h-1zM498 307h1v1h-1zM501 307h1v1h-1zM460 308h2v1h-2zM484 308h1v1h-1zM486 308h1v1h-1zM492 308h2v1h-2zM501 308h3v1h-3zM460 309h1v1h-1zM482 309h3v1h-3zM492 309h2v1h-2zM496 309h1v1h-1zM503 309h2v1h-2zM506 309h1v1h-1zM473 310h1v1h-1zM484 310h1v1h-1zM487 310h2v1h-2zM496 310h2v1h-2zM505 310h2v1h-2zM473 311h3v1h-3zM482 311h3v1h-3zM488 311h1v1h-1zM497 311h1v1h-1zM501 311h4v1h-4zM474 312h3v1h-3zM478 312h1v1h-1zM482 312h1v1h-1zM484 312h1v1h-1zM497 312h1v1h-1zM499 312h3v1h-3zM503 312h1v1h-1zM460 313h1v1h-1zM465 313h1v1h-1zM474 313h1v1h-1zM487 313h1v1h-1zM499 313h2v1h-2zM506 313h1v1h-1zM460 314h1v1h-1zM465 314h2v1h-2zM473 314h2v1h-2zM496 314h2v1h-2zM499 314h2v1h-2zM471 315h3v1h-3zM477 315h5v1h-5zM496 315h2v1h-2zM503 315h2v1h-2zM469 316h4v1h-4zM479 316h5v1h-5zM485 316h1v1h-1zM492 316h1v1h-1zM503 316h3v1h-3zM470 317h2v1h-2zM474 317h2v1h-2zM479 317h1v1h-1zM481 317h3v1h-3zM499 317h1v1h-1zM504 317h2v1h-2zM470 318h3v1h-3zM474 318h4v1h-4zM481 318h2v1h-2zM485 318h3v1h-3zM495 318h1v1h-1zM499 318h2v1h-2zM505 318h1v1h-1zM461 319h1v1h-1zM466 319h4v1h-4zM471 319h2v1h-2zM482 319h1v1h-1zM487 319h1v1h-1zM489 319h1v1h-1zM499 319h2v1h-2zM505 319h1v1h-1zM467 320h2v1h-2zM487 320h2v1h-2zM492 320h1v1h-1zM502 320h1v1h-1zM505 320h1v1h-1zM463 321h3v1h-3zM492 321h2v1h-2zM464 322h2v1h-2zM476 322h1v1h-1zM486 322h1v1h-1zM489 322h2v1h-2zM492 322h2v1h-2zM498 322h5v1h-5zM460 323h2v1h-2zM485 323h1v1h-1zM489 323h5v1h-5zM497 323h2v1h-2zM501 323h3v1h-3zM505 323h1v1h-1zM461 324h1v1h-1zM473 324h2v1h-2zM485 324h1v1h-1zM489 324h1v1h-1zM493 324h1v1h-1zM497 324h2v1h-2zM501 324h1v1h-1zM466 325h2v1h-2zM484 325h2v1h-2zM492 325h2v1h-2zM496 325h3v1h-3zM500 325h2v1h-2zM464 326h1v1h-1zM466 326h2v1h-2zM472 326h1v1h-1zM477 326h3v1h-3zM484 326h2v1h-2zM491 326h2v1h-2zM499 326h4v1h-4zM460 327h1v1h-1zM462 327h1v1h-1zM465 327h3v1h-3zM471 327h2v1h-2zM477 327h1v1h-1zM480 327h1v1h-1zM483 327h2v1h-2zM491 327h2v1h-2zM496 327h1v1h-1zM501 327h2v1h-2zM506 327h1v1h-1zM460 328h3v1h-3zM465 328h3v1h-3zM471 328h2v1h-2zM480 328h6v1h-6zM492 328h1v1h-1zM501 328h2v1h-2zM505 328h2v1h-2zM460 329h4v1h-4zM469 329h4v1h-4zM480 329h3v1h-3zM484 329h1v1h-1zM493 329h1v1h-1zM500 329h2v1h-2zM505 329h2v1h-2zM460 330h1v1h-1zM471 330h2v1h-2zM474 330h1v1h-1zM479 330h6v1h-6zM491 330h1v1h-1zM500 330h2v1h-2zM504 330h3v1h-3zM460 331h1v1h-1zM480 331h1v1h-1zM488 331h1v1h-1zM491 331h1v1h-1z"/>
<path fill="#a4f99f" d="M461 295h1v1h-1zM465 295h1v1h-1zM457 296h2v1h-2zM461 296h2v1h-2zM465 296h1v1h-1zM457 297h2v1h-2zM460 297h1v1h-1zM460 298h1v1h-1zM460 299h1v1h-1zM463 300h1v1h-1zM463 301h2v1h-2zM461 302h4v1h-4z"/>
<path fill="#8000ff" d="M501 300h1v1h-1zM453 301h1v1h-1zM464 301h2v1h-2zM470 301h1v1h-1zM490 301h2v1h-2zM501 301h3v1h-3zM464 302h2v1h-2zM488 302h4v1h-4zM503 302h2v1h-2zM425 303h1v1h-1zM464 303h2v1h-2zM489 303h3v1h-3zM503 303h2v1h-2zM421 304h2v1h-2zM424 304h3v1h-3zM476 304h1v1h-1zM496 304h2v1h-2zM503 304h2v1h-2zM421 305h1v1h-1zM425 305h2v1h-2zM431 305h3v1h-3zM445 305h1v1h-1zM461 305h1v1h-1zM475 305h1v1h-1zM495 305h3v1h-3zM504 305h1v1h-1zM425 306h2v1h-2zM431 306h2v1h-2zM444 306h2v1h-2zM461 306h2v1h-2zM467 306h3v1h-3zM472 306h4v1h-4zM492 306h5v1h-5zM461 307h2v1h-2zM465 307h5v1h-5zM473 307h2v1h-2zM491 307h6v1h-6zM439 308h1v1h-1zM461 308h2v1h-2zM466 308h4v1h-4zM491 308h6v1h-6zM418 309h1v1h-1zM463 309h1v1h-1zM467 309h3v1h-3zM493 309h4v1h-4zM418 310h1v1h-1zM434 310h2v1h-2zM467 310h2v1h-2zM484 310h1v1h-1zM495 310h2v1h-2zM433 311h6v1h-6zM444 311h1v1h-1zM466 311h2v1h-2zM484 311h3v1h-3zM434 312h3v1h-3zM455 312h1v1h-1zM462 312h5v1h-5zM484 312h2v1h-2zM454 313h2v1h-2zM462 313h4v1h-4zM421 314h2v1h-2zM454 314h2v1h-2zM460 314h6v1h-6zM474 314h2v1h-2zM490 314h2v1h-2zM501 314h2v1h-2zM420 315h2v1h-2zM443 315h2v1h-2zM459 315h5v1h-5zM473 315h4v1h-4zM479 315h2v1h-2zM490 315h1v1h-1zM494 315h1v1h-1zM501 315h3v1h-3zM420 316h2v1h-2zM439 316h2v1h-2zM443 316h1v1h-1zM459 316h5v1h-5zM472 316h4v1h-4zM480 316h1v1h-1zM500 316h5v1h-5zM429 317h2v1h-2zM439 317h1v1h-1zM462 317h2v1h-2zM503 317h2v1h-2zM429 318h2v1h-2zM434 318h1v1h-1zM462 318h2v1h-2zM503 318h2v1h-2zM433 319h3v1h-3zM447 319h1v1h-1zM462 319h1v1h-1zM475 319h1v1h-1zM503 319h2v1h-2zM422 320h1v1h-1zM427 320h2v1h-2zM492 320h3v1h-3zM421 321h2v1h-2zM426 321h3v1h-3zM452 321h2v1h-2zM492 321h5v1h-5zM421 322h1v1h-1zM425 322h3v1h-3zM452 322h2v1h-2zM464 322h2v1h-2zM490 322h2v1h-2zM495 322h3v1h-3zM424 323h3v1h-3zM464 323h3v1h-3zM489 323h2v1h-2zM495 323h3v1h-3zM504 323h2v1h-2zM414 324h1v1h-1zM424 324h1v1h-1zM442 324h1v1h-1zM463 324h6v1h-6zM481 324h3v1h-3zM488 324h3v1h-3zM495 324h3v1h-3zM504 324h2v1h-2zM414 325h2v1h-2zM424 325h2v1h-2zM464 325h1v1h-1zM466 325h3v1h-3zM481 325h2v1h-2zM489 325h1v1h-1zM495 325h3v1h-3zM503 325h3v1h-3zM415 326h2v1h-2zM425 326h1v1h-1zM451 326h1v1h-1zM462 326h1v1h-1zM467 326h2v1h-2zM480 326h3v1h-3zM496 326h2v1h-2zM502 326h4v1h-4zM415 327h2v1h-2zM421 327h1v1h-1zM427 327h3v1h-3zM450 327h1v1h-1zM487 327h1v1h-1zM494 327h4v1h-4zM504 327h2v1h-2zM419 328h4v1h-4zM428 328h2v1h-2zM450 328h1v1h-1zM486 328h2v1h-2zM493 328h4v1h-4zM421 329h3v1h-3zM439 329h7v1h-7zM450 329h2v1h-2zM487 329h1v1h-1zM493 329h4v1h-4zM421 330h2v1h-2zM438 330h1v1h-1zM440 330h7v1h-7zM455 330h4v1h-4zM462 330h2v1h-2zM494 330h4v1h-4zM414 331h1v1h-1zM421 331h2v1h-2zM424 331h1v1h-1zM441 331h5v1h-5zM456 331h3v1h-3zM463 331h1v1h-1zM472 331h1v1h-1zM496 331h2v1h-2zM505 331h2v1h-2zM413 332h3v1h-3zM422 332h4v1h-4zM428 332h1v1h-1zM430 332h2v1h-2zM441 332h5v1h-5zM448 332h1v1h-1zM456 332h3v1h-3zM470 332h3v1h-3zM482 332h2v1h-2zM487 332h1v1h-1zM506 332h1v1h-1zM422 333h4v1h-4zM427 333h6v1h-6zM441 333h5v1h-5zM448 333h1v1h-1zM470 333h4v1h-4zM486 333h2v1h-2zM505 333h2v1h-2zM422 334h1v1h-1zM426 334h3v1h-3zM437 334h1v1h-1zM441 334h5v1h-5zM448 334h2v1h-2zM471 334h2v1h-2zM487 334h1v1h-1zM422 335h1v1h-1zM436 335h3v1h-3zM448 335h2v1h-2zM466 335h1v1h-1zM472 335h1v1h-1zM422 336h2v1h-2zM432 336h2v1h-2zM436 336h2v1h-2zM448 336h2v1h-2zM466 336h1v1h-1zM489 336h1v1h-1zM501 336h2v1h-2zM418 337h2v1h-2zM431 337h4v1h-4zM489 337h2v1h-2zM501 337h2v1h-2zM417 338h2v1h-2zM431 338h7v1h-7zM442 338h2v1h-2zM462 338h1v1h-1zM489 338h3v1h-3zM434 339h4v1h-4zM441 339h3v1h-3zM463 339h2v1h-2zM484 339h1v1h-1zM489 339h3v1h-3zM495 339h1v1h-1zM435 340h2v1h-2zM441 340h3v1h-3zM463 340h2v1h-2zM482 340h3v1h-3zM495 340h1v1h-1zM503 340h2v1h-2zM432 341h2v1h-2zM440 341h2v1h-2zM463 341h1v1h-1zM483 341h1v1h-1zM502 341h1v1h-1z"/>
<path fill="#376ff9" d="M420 307h2v1h-2zM426 307h2v1h-2zM429 307h2v1h-2zM433 307h2v1h-2zM451 307h3v1h-3zM459 307h1v1h-1zM420 308h2v1h-2zM426 308h2v1h-2zM429 308h2v1h-2zM432 308h3v1h-3zM437 308h3v1h-3zM449 308h1v1h-1zM451 308h1v1h-1zM455 308h1v1h-1zM459 308h1v1h-1zM419 309h1v1h-1zM432 309h3v1h-3zM437 309h4v1h-4zM448 309h5v1h-5zM456 309h2v1h-2zM419 310h1v1h-1zM421 310h1v1h-1zM429 310h1v1h-1zM434 310h1v1h-1zM436 310h3v1h-3zM440 310h2v1h-2zM448 310h4v1h-4zM457 310h1v1h-1zM419 311h1v1h-1zM428 311h2v1h-2zM435 311h1v1h-1zM437 311h2v1h-2zM442 311h1v1h-1zM449 311h1v1h-1zM451 311h1v1h-1zM459 311h1v1h-1zM418 312h1v1h-1zM420 312h2v1h-2zM424 312h6v1h-6zM455 312h2v1h-2zM459 312h1v1h-1zM424 313h2v1h-2zM430 313h1v1h-1zM433 313h2v1h-2zM442 313h1v1h-1zM456 313h1v1h-1zM421 314h1v1h-1zM424 314h2v1h-2zM430 314h1v1h-1zM433 314h2v1h-2zM440 314h5v1h-5zM456 314h4v1h-4zM421 315h1v1h-1zM425 315h1v1h-1zM430 315h1v1h-1zM433 315h2v1h-2zM441 315h5v1h-5zM449 315h1v1h-1zM456 315h4v1h-4zM424 316h1v1h-1zM429 316h1v1h-1zM434 316h1v1h-1zM442 316h4v1h-4zM451 316h1v1h-1zM417 317h2v1h-2zM420 317h1v1h-1zM422 317h1v1h-1zM429 317h1v1h-1zM443 317h3v1h-3zM417 318h1v1h-1zM420 318h3v1h-3zM440 318h2v1h-2zM443 318h1v1h-1zM454 318h1v1h-1zM417 319h1v1h-1zM420 319h1v1h-1zM422 319h2v1h-2zM429 319h1v1h-1zM440 319h5v1h-5zM454 319h1v1h-1zM458 319h2v1h-2zM417 320h1v1h-1zM420 320h4v1h-4zM427 320h4v1h-4zM435 320h5v1h-5zM443 320h1v1h-1zM447 320h8v1h-8zM417 321h1v1h-1zM420 321h1v1h-1zM423 321h5v1h-5zM429 321h2v1h-2zM438 321h2v1h-2zM443 321h1v1h-1zM448 321h1v1h-1zM452 321h1v1h-1zM456 321h1v1h-1zM419 322h2v1h-2zM423 322h1v1h-1zM426 322h2v1h-2zM435 322h1v1h-1zM438 322h6v1h-6zM452 322h1v1h-1zM456 322h4v1h-4zM419 323h2v1h-2zM433 323h1v1h-1zM438 323h2v1h-2zM452 323h3v1h-3zM456 323h1v1h-1zM415 324h2v1h-2zM427 324h3v1h-3zM436 324h1v1h-1zM453 324h2v1h-2zM415 325h4v1h-4zM429 325h1v1h-1zM439 325h1v1h-1zM441 325h2v1h-2zM449 325h1v1h-1zM454 325h1v1h-1zM416 326h4v1h-4zM423 326h1v1h-1zM425 326h1v1h-1zM429 326h1v1h-1zM431 326h2v1h-2zM439 326h4v1h-4zM446 326h1v1h-1zM449 326h2v1h-2zM453 326h1v1h-1zM455 326h1v1h-1zM458 326h2v1h-2zM417 327h2v1h-2zM422 327h2v1h-2zM425 327h1v1h-1zM431 327h1v1h-1zM433 327h2v1h-2zM439 327h1v1h-1zM448 327h1v1h-1zM453 327h3v1h-3zM458 327h2v1h-2zM417 328h3v1h-3zM431 328h5v1h-5zM442 328h2v1h-2zM446 328h1v1h-1zM453 328h1v1h-1zM418 329h5v1h-5zM441 329h6v1h-6zM450 329h1v1h-1zM456 329h3v1h-3zM418 330h5v1h-5zM440 330h4v1h-4zM446 330h2v1h-2zM455 330h5v1h-5zM415 331h4v1h-4zM420 331h2v1h-2zM423 331h1v1h-1zM433 331h1v1h-1zM439 331h3v1h-3zM447 331h1v1h-1zM455 331h5v1h-5zM415 332h3v1h-3zM420 332h2v1h-2zM427 332h2v1h-2zM431 332h2v1h-2zM437 332h5v1h-5zM446 332h2v1h-2zM450 332h2v1h-2zM456 332h3v1h-3zM416 333h2v1h-2zM421 333h1v1h-1zM428 333h1v1h-1zM431 333h3v1h-3zM440 333h1v1h-1zM446 333h3v1h-3zM451 333h1v1h-1zM415 334h3v1h-3zM429 334h1v1h-1zM432 334h2v1h-2zM446 334h1v1h-1zM448 334h1v1h-1zM415 335h5v1h-5zM429 335h1v1h-1zM445 335h3v1h-3zM412 336h1v1h-1zM415 336h4v1h-4zM443 336h5v1h-5zM411 337h1v1h-1zM414 337h5v1h-5zM421 337h1v1h-1zM430 337h1v1h-1zM443 337h2v1h-2zM446 337h3v1h-3zM451 337h1v1h-1zM455 337h1v1h-1zM417 338h1v1h-1zM420 338h3v1h-3zM430 338h2v1h-2zM437 338h1v1h-1zM447 338h1v1h-1zM417 339h1v1h-1zM420 339h3v1h-3zM430 339h2v1h-2zM451 339h2v1h-2zM455 339h1v1h-1zM417 340h2v1h-2zM426 340h3v1h-3zM454 340h3v1h-3zM414 341h1v1h-1zM418 341h1v1h-1zM426 341h3v1h-3zM431 341h2v1h-2zM448 341h3v1h-3zM454 341h2v1h-2z"/>
<path fill="#12c7e6" d="M463 302h3v1h-3zM469 302h1v1h-1zM474 302h7v1h-7zM463 303h2v1h-2zM466 303h1v1h-1zM468 303h1v1h-1zM477 303h1v1h-1zM481 303h1v1h-1zM464 304h4v1h-4zM481 304h1v1h-1zM464 305h2v1h-2zM467 305h2v1h-2zM472 305h2v1h-2zM466 306h3v1h-3zM474 306h4v1h-4zM483 306h2v1h-2zM461 307h1v1h-1zM467 307h2v1h-2zM470 307h1v1h-1zM474 307h3v1h-3zM482 307h2v1h-2zM460 308h3v1h-3zM478 308h1v1h-1zM460 309h3v1h-3zM460 310h2v1h-2zM463 310h7v1h-7zM460 311h1v1h-1zM463 311h1v1h-1zM465 311h5v1h-5zM460 312h2v1h-2zM463 312h1v1h-1zM465 312h4v1h-4zM460 313h5v1h-5zM476 313h3v1h-3zM482 313h2v1h-2zM462 314h1v1h-1zM464 314h2v1h-2zM473 314h1v1h-1zM478 314h1v1h-1zM483 314h2v1h-2zM471 315h1v1h-1zM473 315h4v1h-4zM483 315h2v1h-2zM472 316h5v1h-5zM484 316h1v1h-1zM475 317h2v1h-2zM464 318h2v1h-2zM469 318h3v1h-3zM475 318h3v1h-3zM464 319h3v1h-3zM470 319h1v1h-1zM477 319h2v1h-2zM460 320h1v1h-1zM464 320h5v1h-5zM473 320h1v1h-1zM476 320h2v1h-2zM460 321h1v1h-1zM475 321h1v1h-1zM483 321h2v1h-2zM466 322h2v1h-2zM475 322h3v1h-3zM461 323h1v1h-1zM477 323h1v1h-1zM480 323h2v1h-2zM461 324h1v1h-1zM472 324h1v1h-1zM481 324h3v1h-3zM460 325h1v1h-1zM471 325h10v1h-10zM482 325h2v1h-2zM461 326h1v1h-1zM467 326h1v1h-1zM470 326h3v1h-3zM475 326h1v1h-1zM478 326h1v1h-1zM482 326h2v1h-2zM462 327h2v1h-2zM467 327h1v1h-1zM471 327h1v1h-1zM475 327h1v1h-1zM463 328h1v1h-1zM480 328h2v1h-2zM463 329h3v1h-3zM478 329h4v1h-4zM463 330h1v1h-1zM481 330h1v1h-1zM467 331h2v1h-2zM482 331h1v1h-1zM467 332h2v1h-2zM467 333h2v1h-2zM470 334h1v1h-1zM463 335h1v1h-1zM469 335h2v1h-2zM473 335h1v1h-1zM480 335h1v1h-1zM463 336h2v1h-2zM469 336h2v1h-2zM473 336h1v1h-1zM481 336h1v1h-1zM464 337h1v1h-1zM480 337h4v1h-4zM460 338h2v1h-2zM472 338h1v1h-1zM474 338h1v1h-1zM483 338h2v1h-2zM460 339h2v1h-2zM467 339h2v1h-2zM474 339h1v1h-1zM460 340h1v1h-1zM467 340h3v1h-3zM470 341h1v1h-1zM478 341h1v1h-1z"/>
<path fill="#376ff9" d="M485 302h2v1h-2zM490 302h1v1h-1zM505 302h2v1h-2zM506 303h1v1h-1zM490 304h1v1h-1zM488 305h3v1h-3zM495 305h1v1h-1zM501 305h3v1h-3zM505 305h1v1h-1zM488 306h3v1h-3zM494 306h3v1h-3zM501 306h6v1h-6zM485 307h1v1h-1zM490 307h2v1h-2zM494 307h2v1h-2zM501 307h5v1h-5zM485 308h1v1h-1zM490 308h3v1h-3zM494 308h2v1h-2zM501 308h4v1h-4zM489 309h3v1h-3zM497 309h1v1h-1zM501 309h4v1h-4zM485 310h2v1h-2zM489 310h2v1h-2zM495 310h3v1h-3zM502 310h3v1h-3zM485 311h3v1h-3zM489 311h2v1h-2zM495 311h3v1h-3zM503 311h3v1h-3zM485 312h7v1h-7zM495 312h2v1h-2zM503 312h4v1h-4zM485 313h8v1h-8zM503 313h4v1h-4zM485 314h4v1h-4zM492 314h3v1h-3zM503 314h4v1h-4zM485 315h3v1h-3zM493 315h2v1h-2zM493 316h3v1h-3zM487 317h4v1h-4zM494 317h1v1h-1zM487 318h7v1h-7zM488 319h6v1h-6zM505 319h2v1h-2zM487 320h6v1h-6zM503 320h4v1h-4zM486 321h6v1h-6zM503 321h4v1h-4zM486 322h7v1h-7zM497 322h1v1h-1zM505 322h2v1h-2zM486 323h2v1h-2zM490 323h3v1h-3zM506 323h1v1h-1zM499 324h4v1h-4zM506 324h1v1h-1zM499 325h5v1h-5zM500 326h3v1h-3zM487 327h1v1h-1zM490 327h2v1h-2zM500 327h3v1h-3zM490 328h2v1h-2zM500 328h2v1h-2zM487 329h1v1h-1zM506 330h1v1h-1zM485 331h4v1h-4zM499 331h3v1h-3zM503 331h4v1h-4zM485 332h4v1h-4zM498 332h3v1h-3zM503 332h4v1h-4zM486 333h3v1h-3zM493 333h1v1h-1zM497 333h4v1h-4zM505 333h2v1h-2zM486 334h3v1h-3zM492 334h3v1h-3zM498 334h2v1h-2zM486 335h4v1h-4zM492 335h3v1h-3zM499 335h1v1h-1zM506 335h1v1h-1zM487 336h4v1h-4zM492 336h2v1h-2zM499 336h2v1h-2zM505 336h2v1h-2zM487 337h3v1h-3zM499 337h3v1h-3zM506 337h1v1h-1zM499 338h3v1h-3zM489 339h1v1h-1zM499 339h3v1h-3zM505 339h1v1h-1zM489 340h1v1h-1zM498 340h5v1h-5zM504 340h3v1h-3zM497 341h5v1h-5zM506 341h1v1h-1z"/>
<path fill="#12c7e6" d="M485 302h2v1h-2zM492 302h1v1h-1zM485 303h1v1h-1zM490 304h1v1h-1zM497 304h3v1h-3zM489 305h1v1h-1zM498 305h2v1h-2zM506 305h1v1h-1zM488 306h2v1h-2zM495 306h2v1h-2zM499 306h1v1h-1zM506 306h1v1h-1zM485 307h6v1h-6zM495 307h4v1h-4zM503 307h1v1h-1zM485 308h2v1h-2zM489 308h1v1h-1zM497 308h2v1h-2zM503 308h2v1h-2zM498 309h1v1h-1zM503 309h2v1h-2zM497 310h3v1h-3zM486 311h1v1h-1zM486 312h1v1h-1zM494 314h2v1h-2zM485 315h1v1h-1zM494 315h2v1h-2zM485 316h3v1h-3zM485 317h3v1h-3zM491 317h2v1h-2zM497 317h3v1h-3zM491 318h3v1h-3zM498 318h2v1h-2zM498 319h2v1h-2zM505 323h2v1h-2zM502 324h1v1h-1zM505 324h2v1h-2zM496 325h3v1h-3zM503 325h1v1h-1zM505 325h2v1h-2zM496 326h3v1h-3zM504 326h3v1h-3zM496 327h5v1h-5zM505 327h2v1h-2zM495 328h6v1h-6zM505 328h2v1h-2zM496 329h4v1h-4zM506 329h1v1h-1zM485 330h1v1h-1zM496 330h1v1h-1zM485 331h1v1h-1zM495 331h2v1h-2zM503 331h2v1h-2zM485 332h1v1h-1zM494 332h2v1h-2zM502 332h3v1h-3zM493 333h2v1h-2zM502 333h3v1h-3zM492 334h3v1h-3zM503 334h2v1h-2zM486 335h3v1h-3zM493 335h2v1h-2zM503 335h1v1h-1zM486 336h4v1h-4zM498 336h3v1h-3zM485 337h5v1h-5zM496 337h6v1h-6zM485 338h5v1h-5zM496 338h6v1h-6zM485 339h3v1h-3zM495 339h8v1h-8zM485 340h1v1h-1zM496 340h4v1h-4zM502 340h2v1h-2zM485 341h1v1h-1zM496 341h3v1h-3zM503 341h1v1h-1z"/>
<path fill="#376ff9" d="M439 279h1v1h-1zM430 282h1v1h-1zM437 282h2v1h-2zM449 282h1v1h-1zM452 282h2v1h-2zM466 284h1v1h-1zM428 285h2v1h-2zM470 285h1v1h-1zM428 286h2v1h-2zM474 286h1v1h-1zM436 287h1v1h-1zM438 288h2v1h-2zM467 288h1v1h-1zM471 288h1v1h-1zM427 290h1v1h-1zM457 290h1v1h-1zM433 291h1v1h-1zM488 291h2v1h-2zM428 292h5v1h-5zM434 292h1v1h-1zM454 292h1v1h-1zM428 293h3v1h-3zM440 293h1v1h-1zM446 293h1v1h-1zM471 293h1v1h-1zM428 294h2v1h-2zM439 294h2v1h-2zM445 294h2v1h-2zM471 294h1v1h-1zM504 294h1v1h-1zM427 295h2v1h-2zM435 295h2v1h-2zM440 295h2v1h-2zM504 295h1v1h-1zM441 296h1v1h-1zM475 296h1v1h-1zM496 296h1v1h-1zM503 296h1v1h-1zM442 297h1v1h-1zM444 297h1v1h-1zM456 297h1v1h-1zM475 297h2v1h-2zM505 297h1v1h-1zM424 298h2v1h-2zM456 298h1v1h-1zM459 298h2v1h-2zM482 298h1v1h-1zM488 298h2v1h-2zM492 298h2v1h-2zM427 299h2v1h-2zM459 299h2v1h-2zM481 299h3v1h-3zM492 299h2v1h-2zM500 299h1v1h-1z"/>
<path fill="#ff0000" d="M499 312h1v1h-1zM498 320h2v1h-2zM499 321h1v1h-1zM499 322h1v1h-1zM499 330h2v1h-2z"/>
<path fill="#a4f99f" d="M165 342h3v1h-3zM172 342h1v1h-1zM178 342h3v1h-3zM186 342h4v1h-4zM191 342h8v1h-8zM201 342h1v1h-1zM204 342h2v1h-2zM207 342h2v1h-2zM167 343h3v1h-3zM178 343h5v1h-5zM186 343h1v1h-1zM191 343h3v1h-3zM197 343h1v1h-1zM204 343h2v1h-2zM208 343h2v1h-2zM168 344h2v1h-2zM172 344h1v1h-1zM178 344h2v1h-2zM181 344h2v1h-2zM191 344h3v1h-3zM201 344h1v1h-1zM204 344h2v1h-2zM209 344h1v1h-1zM172 345h2v1h-2zM178 345h1v1h-1zM182 345h1v1h-1zM188 345h1v1h-1zM191 345h3v1h-3zM202 345h8v1h-8zM172 346h5v1h-5zM188 346h3v1h-3zM192 346h2v1h-2zM202 346h7v1h-7zM172 347h7v1h-7zM190 347h1v1h-1zM193 347h4v1h-4zM200 347h2v1h-2zM207 347h1v1h-1zM172 348h3v1h-3zM176 348h4v1h-4zM194 348h1v1h-1zM200 348h3v1h-3zM177 349h3v1h-3zM192 349h2v1h-2zM201 349h1v1h-1zM178 350h1v1h-1zM185 350h1v1h-1zM188 350h1v1h-1zM192 350h1v1h-1zM198 350h2v1h-2zM184 351h1v1h-1zM188 351h2v1h-2zM197 351h3v1h-3zM183 352h2v1h-2zM192 352h3v1h-3zM197 352h3v1h-3zM182 353h2v1h-2zM192 353h3v1h-3zM197 353h2v1h-2zM203 353h4v1h-4zM181 354h2v1h-2zM192 354h2v1h-2zM203 354h1v1h-1zM206 354h2v1h-2zM181 355h2v1h-2zM186 355h2v1h-2zM189 355h3v1h-3zM193 355h1v1h-1zM203 355h1v1h-1zM207 355h1v1h-1zM186 356h2v1h-2zM189 356h3v1h-3zM193 356h1v1h-1zM203 356h1v1h-1zM206 356h2v1h-2zM186 357h2v1h-2zM192 357h3v1h-3zM199 357h1v1h-1zM201 357h7v1h-7zM193 358h2v1h-2zM205 358h2v1h-2zM193 359h1v1h-1zM205 359h2v1h-2zM193 360h1v1h-1zM206 362h1v1h-1z"/>
<path fill="#8000ff" d="M172 342h7v1h-7zM186 342h1v1h-1zM192 342h1v1h-1zM194 342h1v1h-1zM197 342h1v1h-1zM173 343h5v1h-5zM188 343h1v1h-1zM191 343h1v1h-1zM194 343h1v1h-1zM196 343h2v1h-2zM200 343h1v1h-1zM204 343h1v1h-1zM168 344h2v1h-2zM175 344h2v1h-2zM180 344h5v1h-5zM187 344h2v1h-2zM191 344h2v1h-2zM197 344h1v1h-1zM200 344h1v1h-1zM203 344h1v1h-1zM208 344h1v1h-1zM169 345h3v1h-3zM175 345h2v1h-2zM191 345h1v1h-1zM197 345h1v1h-1zM202 345h2v1h-2zM170 346h1v1h-1zM172 346h5v1h-5zM180 346h1v1h-1zM183 346h2v1h-2zM189 346h2v1h-2zM203 346h2v1h-2zM209 346h1v1h-1zM173 347h3v1h-3zM183 347h2v1h-2zM186 347h1v1h-1zM195 347h2v1h-2zM204 347h1v1h-1zM207 347h1v1h-1zM209 347h1v1h-1zM174 348h1v1h-1zM179 348h1v1h-1zM184 348h2v1h-2zM193 348h1v1h-1zM208 348h2v1h-2zM174 349h1v1h-1zM179 349h1v1h-1zM188 349h2v1h-2zM197 349h1v1h-1zM201 349h1v1h-1zM205 349h5v1h-5zM179 350h2v1h-2zM187 350h3v1h-3zM201 350h2v1h-2zM205 350h1v1h-1zM209 350h1v1h-1zM176 351h1v1h-1zM179 351h3v1h-3zM188 351h2v1h-2zM199 351h1v1h-1zM201 351h3v1h-3zM205 351h1v1h-1zM178 352h1v1h-1zM181 352h1v1h-1zM188 352h1v1h-1zM193 352h1v1h-1zM202 352h1v1h-1zM180 353h1v1h-1zM185 353h1v1h-1zM188 353h8v1h-8zM199 353h1v1h-1zM206 353h1v1h-1zM184 354h2v1h-2zM195 354h1v1h-1zM197 354h2v1h-2zM202 354h2v1h-2zM206 354h2v1h-2zM185 355h3v1h-3zM196 355h3v1h-3zM200 355h1v1h-1zM186 356h4v1h-4zM192 356h1v1h-1zM198 356h2v1h-2zM186 357h1v1h-1zM189 357h1v1h-1zM199 357h1v1h-1zM204 357h2v1h-2zM186 358h2v1h-2zM194 358h1v1h-1zM197 358h1v1h-1zM205 358h1v1h-1zM198 359h1v1h-1zM205 359h1v1h-1zM208 359h2v1h-2z"/>
<path fill="#8000ff" d="M201 404h2v1h-2zM206 404h1v1h-1zM199 405h4v1h-4zM204 405h3v1h-3zM195 406h1v1h-1zM198 406h5v1h-5zM204 406h1v1h-1zM195 407h4v1h-4zM201 407h1v1h-1zM204 407h1v1h-1zM190 408h2v1h-2zM195 408h4v1h-4zM204 408h1v1h-1zM190 409h1v1h-1zM200 409h1v1h-1zM203 409h1v1h-1zM207 409h2v1h-2zM200 410h1v1h-1zM207 410h2v1h-2zM195 411h2v1h-2zM205 411h1v1h-1zM208 411h1v1h-1zM195 412h2v1h-2zM203 412h3v1h-3zM192 413h1v1h-1zM202 413h2v1h-2zM192 414h1v1h-1zM199 414h1v1h-1zM203 414h1v1h-1zM206 414h2v1h-2zM194 415h1v1h-1zM199 415h1v1h-1zM203 415h5v1h-5zM193 416h2v1h-2zM198 416h2v1h-2zM202 416h2v1h-2zM206 416h1v1h-1zM192 417h4v1h-4zM198 417h2v1h-2zM202 417h3v1h-3zM194 418h1v1h-1zM198 418h2v1h-2zM206 418h1v1h-1zM198 419h2v1h-2zM206 419h3v1h-3zM193 420h4v1h-4zM199 420h1v1h-1zM205 420h4v1h-4zM195 421h1v1h-1zM199 421h2v1h-2zM205 421h1v1h-1zM209 421h1v1h-1zM195 422h1v1h-1zM199 422h2v1h-2zM202 422h3v1h-3zM207 422h2v1h-2zM191 423h3v1h-3zM199 423h3v1h-3zM203 423h1v1h-1zM206 423h3v1h-3zM192 424h2v1h-2zM200 424h5v1h-5zM201 425h2v1h-2zM204 425h3v1h-3zM190 426h2v1h-2zM194 426h2v1h-2zM198 426h1v1h-1zM204 426h1v1h-1zM190 427h1v1h-1zM203 427h2v1h-2zM207 427h1v1h-1zM190 428h3v1h-3zM202 428h3v1h-3zM207 428h3v1h-3z"/>
<path fill="#12c7e6" d="M113 399h2v1h-2zM117 399h1v1h-1zM119 399h2v1h-2zM124 399h5v1h-5zM132 399h1v1h-1zM136 399h2v1h-2zM140 399h1v1h-1zM144 399h1v1h-1zM146 399h2v1h-2zM156 399h1v1h-1zM147 400h1v1h-1zM154 400h2v1h-2zM157 400h1v1h-1zM125 401h1v1h-1zM136 401h2v1h-2zM150 401h1v1h-1zM156 401h3v1h-3zM122 402h1v1h-1zM131 402h2v1h-2zM136 402h1v1h-1zM156 402h3v1h-3zM123 403h4v1h-4zM132 403h1v1h-1zM124 404h2v1h-2zM115 405h2v1h-2zM124 405h2v1h-2zM133 405h2v1h-2zM138 405h2v1h-2zM147 405h1v1h-1zM158 405h1v1h-1zM114 406h2v1h-2zM121 406h1v1h-1zM133 406h1v1h-1zM137 406h4v1h-4zM147 406h1v1h-1zM158 406h2v1h-2zM113 407h2v1h-2zM120 407h2v1h-2zM137 407h5v1h-5zM159 407h1v1h-1zM113 408h2v1h-2zM116 408h2v1h-2zM121 408h4v1h-4zM133 408h1v1h-1zM137 408h3v1h-3zM141 408h1v1h-1zM154 408h2v1h-2zM117 409h1v1h-1zM122 409h4v1h-4zM129 409h3v1h-3zM137 409h3v1h-3zM142 409h1v1h-1zM154 409h1v1h-1zM111 410h1v1h-1zM138 410h2v1h-2zM157 410h1v1h-1zM123 411h2v1h-2zM133 411h1v1h-1zM157 411h1v1h-1zM111 412h1v1h-1zM145 412h1v1h-1zM157 412h2v1h-2zM110 413h2v1h-2zM113 413h1v1h-1zM135 413h1v1h-1zM151 413h1v1h-1zM110 414h1v1h-1zM112 414h2v1h-2zM119 414h1v1h-1zM126 414h6v1h-6zM134 414h2v1h-2zM150 414h2v1h-2zM110 415h1v1h-1zM112 415h2v1h-2zM127 415h2v1h-2zM131 415h1v1h-1zM135 415h1v1h-1zM146 415h2v1h-2zM150 415h2v1h-2zM110 416h1v1h-1zM112 416h2v1h-2zM122 416h2v1h-2zM131 416h1v1h-1zM135 416h1v1h-1zM146 416h1v1h-1zM152 416h2v1h-2zM159 416h1v1h-1zM111 417h2v1h-2zM123 417h1v1h-1zM146 417h4v1h-4zM152 417h2v1h-2zM158 417h2v1h-2zM111 418h1v1h-1zM117 418h1v1h-1zM148 418h2v1h-2zM156 418h1v1h-1zM159 418h1v1h-1zM128 419h2v1h-2z"/>
<path fill="#12c7e6" d="M153 360h1v1h-1zM153 361h1v1h-1zM159 361h1v1h-1zM169 363h1v1h-1zM175 363h1v1h-1zM157 364h1v1h-1zM169 364h2v1h-2zM163 365h3v1h-3zM169 365h2v1h-2zM165 366h1v1h-1zM163 368h1v1h-1zM167 368h1v1h-1zM154 369h4v1h-4zM162 369h2v1h-2zM167 369h2v1h-2zM151 370h1v1h-1zM154 370h4v1h-4zM161 370h3v1h-3zM156 371h2v1h-2zM150 372h1v1h-1zM156 372h2v1h-2zM160 372h2v1h-2zM174 372h1v1h-1zM150 373h1v1h-1zM154 373h1v1h-1zM157 373h1v1h-1zM160 373h3v1h-3zM149 374h2v1h-2zM154 374h1v1h-1zM161 374h1v1h-1zM172 374h3v1h-3zM160 375h2v1h-2zM172 375h3v1h-3zM174 376h1v1h-1zM156 378h1v1h-1zM155 379h2v1h-2zM176 379h1v1h-1zM176 380h1v1h-1zM158 382h1v1h-1zM157 383h1v1h-1zM157 384h1v1h-1z"/>
<path fill="#5bf9c7" d="M206 373h2v1h-2zM196 375h3v1h-3zM197 376h2v1h-2zM201 376h1v1h-1zM188 377h1v1h-1zM190 377h3v1h-3zM197 377h2v1h-2zM201 377h1v1h-1zM207 377h1v1h-1zM187 378h2v1h-2zM194 378h2v1h-2zM198 378h1v1h-1zM201 378h2v1h-2zM180 379h3v1h-3zM188 379h1v1h-1zM191 379h4v1h-4zM199 379h4v1h-4zM180 380h2v1h-2zM191 380h1v1h-1zM200 380h2v1h-2zM181 381h1v1h-1zM184 381h2v1h-2zM194 381h2v1h-2zM207 381h1v1h-1zM180 382h3v1h-3zM193 382h2v1h-2zM196 382h2v1h-2zM200 382h2v1h-2zM208 382h2v1h-2zM180 383h1v1h-1zM189 383h2v1h-2zM193 383h3v1h-3zM199 383h3v1h-3zM206 383h4v1h-4zM180 384h1v1h-1zM189 384h2v1h-2zM193 384h3v1h-3zM206 384h1v1h-1zM208 384h2v1h-2zM177 385h1v1h-1zM188 385h3v1h-3zM206 385h4v1h-4zM181 386h2v1h-2zM189 386h1v1h-1zM207 386h3v1h-3zM185 387h2v1h-2zM197 387h1v1h-1zM207 387h3v1h-3zM185 388h3v1h-3zM199 388h1v1h-1zM207 388h2v1h-2zM185 389h2v1h-2zM192 389h2v1h-2zM199 389h2v1h-2zM203 389h2v1h-2zM185 390h3v1h-3zM199 390h2v1h-2zM185 391h2v1h-2zM191 391h3v1h-3zM207 391h1v1h-1zM209 391h1v1h-1zM182 392h5v1h-5zM191 392h3v1h-3zM195 392h3v1h-3zM182 393h5v1h-5zM190 393h2v1h-2zM195 393h2v1h-2zM182 394h1v1h-1zM184 394h2v1h-2zM199 394h2v1h-2zM192 395h1v1h-1zM199 395h3v1h-3zM207 395h3v1h-3zM178 396h2v1h-2zM192 396h1v1h-1zM208 396h2v1h-2zM177 397h3v1h-3zM186 397h2v1h-2zM194 397h3v1h-3zM209 397h1v1h-1zM195 398h2v1h-2zM196 399h1v1h-1zM206 399h2v1h-2zM186 400h1v1h-1zM191 400h1v1h-1zM199 400h1v1h-1zM202 400h1v1h-1zM177 401h2v1h-2zM183 401h1v1h-1zM191 401h1v1h-1zM194 401h1v1h-1zM199 401h6v1h-6zM177 402h2v1h-2zM199 402h4v1h-4zM204 402h1v1h-1zM184 403h2v1h-2zM200 403h2v1h-2zM205 403h1v1h-1zM184 404h2v1h-2zM190 404h2v1h-2zM200 404h2v1h-2zM204 404h2v1h-2zM184 405h2v1h-2zM189 405h3v1h-3zM196 405h2v1h-2zM200 405h2v1h-2zM177 406h1v1h-1zM185 406h1v1h-1zM188 406h2v1h-2zM197 406h1v1h-1zM179 407h4v1h-4zM185 407h1v1h-1zM188 407h2v1h-2zM191 407h1v1h-1zM180 408h1v1h-1zM185 408h1v1h-1zM188 408h2v1h-2zM209 408h1v1h-1zM183 409h1v1h-1zM185 409h2v1h-2zM192 409h3v1h-3zM203 409h1v1h-1zM184 410h1v1h-1zM186 410h1v1h-1zM192 410h2v1h-2zM197 410h1v1h-1zM203 410h2v1h-2zM177 411h1v1h-1zM183 411h2v1h-2zM186 411h1v1h-1zM192 411h1v1h-1zM186 412h1v1h-1zM200 413h2v1h-2zM205 413h2v1h-2zM199 414h1v1h-1zM205 414h2v1h-2zM208 414h2v1h-2zM205 415h1v1h-1z"/>
<path fill="#edc76f" d="M206 352h3v1h-3zM203 353h2v1h-2zM206 353h3v1h-3zM200 354h1v1h-1zM204 354h1v1h-1zM200 355h2v1h-2zM201 356h1v1h-1zM201 357h1v1h-1zM201 358h3v1h-3zM201 359h3v1h-3zM201 361h1v1h-1z"/>
<path fill="#5bf9c7" d="M116 415h1v1h-1zM118 415h1v1h-1zM120 415h2v1h-2zM127 415h1v1h-1zM113 416h1v1h-1zM116 416h1v1h-1zM120 416h1v1h-1zM124 416h1v1h-1zM127 416h1v1h-1zM110 417h1v1h-1zM116 417h2v1h-2zM124 417h1v1h-1zM110 418h1v1h-1zM117 418h1v1h-1zM125 418h2v1h-2zM125 419h1v1h-1zM127 419h1v1h-1zM121 420h1v1h-1zM112 421h1v1h-1zM121 421h2v1h-2zM122 422h2v1h-2zM127 423h1v1h-1zM120 424h1v1h-1zM120 425h1v1h-1zM116 426h1v1h-1zM120 426h2v1h-2zM110 427h1v1h-1zM112 427h1v1h-1zM116 427h1v1h-1zM110 428h1v1h-1zM116 428h2v1h-2zM125 428h2v1h-2z"/>
<path fill="#8000ff" d="M213 342h4v1h-4zM218 342h4v1h-4zM224 342h3v1h-3zM211 343h5v1h-5zM218 343h4v1h-4zM224 343h2v1h-2zM228 343h2v1h-2zM210 344h2v1h-2zM214 344h1v1h-1zM221 344h1v1h-1zM223 344h4v1h-4zM228 344h1v1h-1zM210 345h3v1h-3zM214 345h3v1h-3zM220 345h1v1h-1zM223 345h4v1h-4zM210 346h3v1h-3zM214 346h5v1h-5zM220 346h1v1h-1zM223 346h2v1h-2zM210 347h3v1h-3zM216 347h5v1h-5zM216 348h2v1h-2zM219 348h2v1h-2zM222 348h1v1h-1zM214 349h1v1h-1zM222 349h2v1h-2zM210 350h1v1h-1zM222 350h1v1h-1zM210 351h1v1h-1zM210 352h1v1h-1zM216 352h2v1h-2zM219 352h3v1h-3zM210 353h1v1h-1zM216 353h1v1h-1zM219 353h2v1h-2zM214 354h4v1h-4zM219 354h2v1h-2zM214 355h4v1h-4zM215 356h2v1h-2zM219 356h1v1h-1zM210 357h1v1h-1zM218 357h1v1h-1zM212 358h1v1h-1zM218 358h1v1h-1zM212 359h2v1h-2zM215 359h1v1h-1zM210 360h3v1h-3zM212 361h1v1h-1zM217 361h1v1h-1zM217 362h1v1h-1zM210 363h1v1h-1zM213 363h1v1h-1zM214 364h3v1h-3zM210 365h2v1h-2zM215 365h2v1h-2zM210 366h2v1h-2zM214 367h1v1h-1zM216 369h1v1h-1zM211 370h2v1h-2zM216 370h1v1h-1zM212 371h1v1h-1zM214 371h2v1h-2zM211 372h5v1h-5zM211 373h4v1h-4z"/>
<path fill="#a4f99f" d="M215 342h3v1h-3zM219 342h2v1h-2zM226 342h1v1h-1zM216 343h6v1h-6zM216 344h5v1h-5zM215 345h9v1h-9zM219 346h5v1h-5zM223 347h1v1h-1zM210 349h1v1h-1zM216 352h2v1h-2zM210 353h1v1h-1zM216 353h1v1h-1zM210 354h1v1h-1zM210 355h1v1h-1zM214 357h1v1h-1zM217 358h2v1h-2zM210 359h1v1h-1zM212 359h2v1h-2zM218 359h1v1h-1zM211 360h3v1h-3zM214 362h1v1h-1zM214 364h1v1h-1zM214 365h1v1h-1zM216 366h1v1h-1zM211 369h2v1h-2zM214 369h1v1h-1zM210 370h5v1h-5zM210 371h2v1h-2zM213 371h1v1h-1zM210 372h1v1h-1zM211 373h1v1h-1z"/>
<path fill="#ff0000" d="M278 372h1v1h-1zM281 372h1v1h-1zM275 373h1v1h-1zM271 374h1v1h-1zM270 375h2v1h-2zM274 375h1v1h-1zM281 375h1v1h-1zM266 376h4v1h-4zM272 376h4v1h-4zM277 376h1v1h-1zM281 376h1v1h-1zM268 377h2v1h-2zM272 377h1v1h-1zM274 377h2v1h-2zM277 377h1v1h-1zM264 378h2v1h-2zM268 378h2v1h-2zM271 378h2v1h-2zM276 378h1v1h-1zM265 379h2v1h-2zM262 380h1v1h-1zM265 380h3v1h-3zM263 381h1v1h-1zM267 381h1v1h-1z"/>
<path fill="#ff0000" d="M296 370h1v1h-1zM296 372h1v1h-1z"/>
<path fill="#8000ff" d="M231 400h1v1h-1zM241 400h2v1h-2zM265 400h1v1h-1zM243 401h2v1h-2zM248 401h1v1h-1zM272 401h2v1h-2zM223 402h1v1h-1zM240 402h1v1h-1zM267 402h2v1h-2zM272 402h2v1h-2zM233 403h2v1h-2zM269 403h1v1h-1zM271 403h2v1h-2zM232 404h1v1h-1zM235 405h1v1h-1zM262 405h4v1h-4zM267 405h1v1h-1zM235 406h2v1h-2zM255 406h2v1h-2zM261 406h4v1h-4zM221 407h1v1h-1zM240 407h3v1h-3zM244 407h2v1h-2zM256 407h4v1h-4zM262 407h3v1h-3zM231 408h2v1h-2zM239 408h3v1h-3zM249 408h1v1h-1zM257 408h1v1h-1zM259 408h1v1h-1zM263 408h3v1h-3zM231 409h2v1h-2zM235 409h1v1h-1zM238 409h3v1h-3zM238 410h1v1h-1zM261 410h1v1h-1zM227 411h1v1h-1zM249 411h1v1h-1zM260 411h1v1h-1zM223 412h1v1h-1zM229 412h2v1h-2zM244 412h1v1h-1zM249 412h1v1h-1zM220 413h4v1h-4zM251 413h1v1h-1zM220 414h3v1h-3zM238 414h4v1h-4zM243 414h2v1h-2zM251 414h2v1h-2z"/>
<path fill="#5bf9c7" d="M241 358h2v1h-2zM248 358h1v1h-1zM263 358h1v1h-1zM279 358h1v1h-1zM297 358h2v1h-2zM304 358h2v1h-2zM228 359h1v1h-1zM240 359h1v1h-1zM263 359h1v1h-1zM296 359h3v1h-3zM302 359h1v1h-1zM304 359h1v1h-1zM210 360h1v1h-1zM212 360h2v1h-2zM224 360h1v1h-1zM228 360h1v1h-1zM238 360h3v1h-3zM246 360h2v1h-2zM272 360h1v1h-1zM307 360h2v1h-2zM211 361h3v1h-3zM217 361h2v1h-2zM220 361h1v1h-1zM238 361h2v1h-2zM247 361h4v1h-4zM270 361h3v1h-3zM215 362h1v1h-1zM217 362h4v1h-4zM224 362h3v1h-3zM234 362h1v1h-1zM247 362h2v1h-2zM250 362h1v1h-1zM270 362h3v1h-3zM277 362h1v1h-1zM284 362h1v1h-1zM296 362h2v1h-2zM214 363h5v1h-5zM224 363h4v1h-4zM233 363h2v1h-2zM250 363h1v1h-1zM277 363h1v1h-1zM280 363h2v1h-2zM283 363h1v1h-1zM289 363h1v1h-1zM296 363h1v1h-1zM210 364h1v1h-1zM223 364h4v1h-4zM249 364h2v1h-2zM255 364h1v1h-1zM277 364h1v1h-1zM285 364h4v1h-4zM291 364h1v1h-1zM220 365h2v1h-2zM223 365h4v1h-4zM231 365h2v1h-2zM236 365h2v1h-2zM248 365h2v1h-2zM255 365h1v1h-1zM268 365h1v1h-1zM277 365h1v1h-1zM285 365h1v1h-1zM221 366h1v1h-1zM226 366h2v1h-2zM233 366h1v1h-1zM237 366h2v1h-2zM246 366h2v1h-2zM249 366h1v1h-1zM255 366h2v1h-2zM268 366h2v1h-2zM297 366h1v1h-1zM308 366h1v1h-1zM221 367h1v1h-1zM239 367h1v1h-1zM247 367h1v1h-1zM249 367h1v1h-1zM265 367h1v1h-1zM272 367h1v1h-1zM285 367h3v1h-3zM295 367h2v1h-2zM221 368h2v1h-2zM233 368h1v1h-1zM239 368h1v1h-1zM247 368h1v1h-1zM258 368h1v1h-1zM272 368h1v1h-1zM275 368h2v1h-2zM286 368h3v1h-3zM291 368h2v1h-2zM294 368h3v1h-3zM301 368h2v1h-2zM210 369h3v1h-3zM233 369h2v1h-2zM239 369h1v1h-1zM250 369h1v1h-1zM255 369h1v1h-1zM266 369h1v1h-1zM274 369h2v1h-2zM291 369h1v1h-1zM294 369h1v1h-1zM301 369h2v1h-2zM304 369h1v1h-1zM227 370h1v1h-1zM240 370h1v1h-1zM255 370h2v1h-2zM271 370h1v1h-1zM275 370h1v1h-1zM303 370h2v1h-2zM226 371h2v1h-2zM256 371h1v1h-1zM297 371h1v1h-1zM240 372h1v1h-1zM251 372h1v1h-1zM255 372h1v1h-1zM259 372h1v1h-1zM289 372h1v1h-1zM293 372h1v1h-1zM297 372h1v1h-1zM304 372h1v1h-1zM241 373h2v1h-2zM247 373h2v1h-2zM251 373h2v1h-2zM258 373h2v1h-2zM274 373h2v1h-2zM293 373h1v1h-1zM305 373h1v1h-1zM307 373h2v1h-2zM210 374h1v1h-1zM226 374h1v1h-1zM249 374h2v1h-2zM258 374h1v1h-1zM265 374h3v1h-3zM274 374h3v1h-3zM297 374h2v1h-2zM307 374h2v1h-2zM231 375h1v1h-1zM237 375h1v1h-1zM249 375h2v1h-2zM254 375h3v1h-3zM265 375h3v1h-3zM276 375h1v1h-1zM278 375h1v1h-1zM296 375h5v1h-5zM210 376h2v1h-2zM217 376h2v1h-2zM237 376h1v1h-1zM240 376h2v1h-2zM243 376h2v1h-2zM249 376h2v1h-2zM254 376h2v1h-2zM264 376h1v1h-1zM297 376h4v1h-4zM216 377h3v1h-3zM236 377h2v1h-2zM243 377h2v1h-2zM255 377h1v1h-1zM258 377h1v1h-1zM273 377h1v1h-1zM291 377h2v1h-2zM216 378h1v1h-1zM238 378h2v1h-2zM258 378h4v1h-4zM270 378h3v1h-3zM281 378h2v1h-2zM290 378h4v1h-4zM230 379h3v1h-3zM259 379h4v1h-4zM270 379h4v1h-4zM282 379h2v1h-2zM292 379h3v1h-3zM231 380h2v1h-2zM259 380h2v1h-2zM273 380h2v1h-2zM283 380h1v1h-1zM293 380h3v1h-3zM232 381h1v1h-1zM256 381h1v1h-1zM259 381h2v1h-2zM274 381h1v1h-1zM283 381h1v1h-1zM294 381h1v1h-1zM211 382h2v1h-2zM261 382h2v1h-2zM276 382h2v1h-2zM303 382h1v1h-1zM211 383h2v1h-2zM230 383h1v1h-1zM241 383h2v1h-2zM245 383h3v1h-3zM260 383h1v1h-1zM262 383h1v1h-1zM276 383h3v1h-3zM286 383h1v1h-1zM303 383h2v1h-2zM222 384h1v1h-1zM240 384h3v1h-3zM260 384h1v1h-1zM277 384h2v1h-2zM286 384h1v1h-1zM295 384h1v1h-1zM300 384h1v1h-1zM303 384h2v1h-2zM223 385h3v1h-3zM240 385h2v1h-2zM263 385h2v1h-2zM266 385h1v1h-1zM270 385h1v1h-1zM295 385h1v1h-1zM300 385h1v1h-1zM303 385h3v1h-3zM210 386h1v1h-1zM223 386h1v1h-1zM237 386h2v1h-2zM240 386h1v1h-1zM252 386h2v1h-2zM279 386h1v1h-1zM296 386h1v1h-1zM300 386h1v1h-1zM305 386h1v1h-1zM211 387h1v1h-1zM237 387h1v1h-1zM239 387h2v1h-2zM243 387h1v1h-1zM252 387h2v1h-2zM264 387h1v1h-1zM275 387h1v1h-1zM287 387h2v1h-2zM295 387h4v1h-4zM300 387h2v1h-2zM213 388h2v1h-2zM236 388h2v1h-2zM240 388h1v1h-1zM243 388h2v1h-2zM255 388h1v1h-1zM276 388h1v1h-1zM294 388h5v1h-5zM301 388h1v1h-1zM305 388h1v1h-1zM211 389h1v1h-1zM230 389h1v1h-1zM237 389h2v1h-2zM242 389h2v1h-2zM254 389h3v1h-3zM283 389h1v1h-1zM295 389h2v1h-2zM305 389h1v1h-1zM211 390h2v1h-2zM217 390h2v1h-2zM228 390h2v1h-2zM254 390h1v1h-1zM263 390h1v1h-1zM270 390h2v1h-2zM303 390h2v1h-2zM213 391h1v1h-1zM222 391h2v1h-2zM228 391h1v1h-1zM255 391h2v1h-2zM264 391h2v1h-2zM282 391h1v1h-1zM297 391h2v1h-2zM300 391h1v1h-1zM309 391h1v1h-1zM223 392h3v1h-3zM232 392h1v1h-1zM264 392h2v1h-2zM271 392h1v1h-1zM276 392h2v1h-2zM309 392h1v1h-1zM228 393h1v1h-1zM232 393h4v1h-4zM243 393h2v1h-2zM258 393h1v1h-1zM271 393h1v1h-1zM274 393h5v1h-5zM309 393h1v1h-1zM228 394h1v1h-1zM233 394h2v1h-2zM239 394h1v1h-1zM245 394h3v1h-3zM272 394h1v1h-1zM274 394h5v1h-5zM285 394h2v1h-2zM210 395h3v1h-3zM233 395h2v1h-2zM237 395h1v1h-1zM239 395h1v1h-1zM245 395h4v1h-4zM253 395h1v1h-1zM285 395h1v1h-1zM294 395h3v1h-3zM211 396h2v1h-2zM221 396h2v1h-2zM234 396h1v1h-1zM253 396h1v1h-1zM263 396h1v1h-1zM268 396h1v1h-1zM280 396h1v1h-1zM285 396h2v1h-2zM293 396h5v1h-5zM210 397h1v1h-1zM222 397h1v1h-1zM226 397h1v1h-1zM232 397h2v1h-2zM263 397h1v1h-1zM267 397h3v1h-3zM280 397h2v1h-2zM295 397h2v1h-2zM300 397h1v1h-1zM222 398h1v1h-1zM226 398h1v1h-1zM232 398h2v1h-2zM245 398h1v1h-1zM257 398h1v1h-1zM267 398h3v1h-3zM272 398h1v1h-1zM280 398h2v1h-2zM287 398h1v1h-1zM296 398h1v1h-1zM299 398h2v1h-2zM223 399h1v1h-1zM257 399h1v1h-1zM268 399h2v1h-2zM272 399h1v1h-1zM280 399h1v1h-1zM291 399h1v1h-1zM300 399h1v1h-1zM220 400h1v1h-1zM223 400h3v1h-3zM228 400h3v1h-3zM253 400h1v1h-1zM267 400h2v1h-2zM279 400h5v1h-5zM291 400h1v1h-1zM296 400h3v1h-3zM301 400h1v1h-1zM215 401h6v1h-6zM224 401h2v1h-2zM227 401h1v1h-1zM230 401h1v1h-1zM237 401h1v1h-1zM253 401h3v1h-3zM266 401h1v1h-1zM280 401h2v1h-2zM296 401h1v1h-1zM216 402h1v1h-1zM218 402h3v1h-3zM224 402h4v1h-4zM236 402h4v1h-4zM253 402h1v1h-1zM265 402h1v1h-1zM308 402h2v1h-2zM215 403h1v1h-1zM220 403h1v1h-1zM224 403h2v1h-2zM248 403h2v1h-2zM252 403h2v1h-2zM262 403h1v1h-1zM306 403h2v1h-2zM213 404h4v1h-4zM221 404h3v1h-3zM237 404h1v1h-1zM248 404h1v1h-1zM287 404h4v1h-4zM214 405h3v1h-3zM223 405h1v1h-1zM237 405h2v1h-2zM240 405h2v1h-2zM243 405h2v1h-2zM268 405h2v1h-2zM272 405h1v1h-1zM282 405h2v1h-2zM287 405h4v1h-4zM293 405h1v1h-1zM215 406h2v1h-2zM223 406h2v1h-2zM228 406h2v1h-2zM240 406h2v1h-2zM243 406h2v1h-2zM249 406h3v1h-3zM266 406h4v1h-4zM272 406h1v1h-1zM280 406h1v1h-1zM282 406h3v1h-3zM288 406h1v1h-1zM290 406h2v1h-2zM293 406h2v1h-2zM212 407h1v1h-1zM216 407h1v1h-1zM224 407h1v1h-1zM234 407h2v1h-2zM240 407h1v1h-1zM249 407h2v1h-2zM274 407h1v1h-1zM212 408h1v1h-1zM224 408h2v1h-2zM231 408h1v1h-1zM234 408h2v1h-2zM240 408h1v1h-1zM274 408h3v1h-3zM211 409h2v1h-2zM225 409h1v1h-1zM230 409h1v1h-1zM238 409h3v1h-3zM283 409h1v1h-1zM225 410h3v1h-3zM229 410h2v1h-2zM238 410h2v1h-2zM249 410h2v1h-2zM210 411h1v1h-1zM219 411h2v1h-2zM235 411h1v1h-1zM237 411h2v1h-2zM243 411h2v1h-2zM248 411h3v1h-3zM256 411h2v1h-2zM259 411h2v1h-2zM262 411h3v1h-3zM213 412h1v1h-1zM222 412h1v1h-1zM235 412h3v1h-3zM243 412h3v1h-3zM248 412h3v1h-3zM256 412h1v1h-1zM259 412h2v1h-2zM262 412h2v1h-2zM213 413h1v1h-1zM222 413h1v1h-1zM235 413h1v1h-1zM244 413h1v1h-1zM248 413h3v1h-3zM254 413h1v1h-1zM212 414h2v1h-2zM231 414h2v1h-2zM242 414h1v1h-1zM211 415h6v1h-6zM229 415h5v1h-5zM238 415h1v1h-1zM210 416h2v1h-2zM228 416h2v1h-2zM233 416h2v1h-2zM238 416h1v1h-1zM210 417h1v1h-1zM228 417h2v1h-2zM233 417h2v1h-2zM213 418h2v1h-2zM219 418h1v1h-1zM225 418h2v1h-2zM211 419h1v1h-1zM217 419h1v1h-1zM211 420h1v1h-1zM217 420h1v1h-1z"/>
<path fill="#12c7e6" d="M307 406h3v1h-3zM299 407h2v1h-2zM308 407h2v1h-2zM307 408h3v1h-3zM247 409h1v1h-1zM270 409h1v1h-1zM276 409h1v1h-1zM282 409h1v1h-1zM240 410h1v1h-1zM259 410h2v1h-2zM270 410h2v1h-2zM281 410h2v1h-2zM219 411h1v1h-1zM248 411h1v1h-1zM271 411h2v1h-2zM282 411h1v1h-1zM291 411h1v1h-1zM218 412h3v1h-3zM227 412h2v1h-2zM248 412h2v1h-2zM272 412h1v1h-1zM217 413h2v1h-2zM227 413h1v1h-1zM247 413h3v1h-3zM257 413h2v1h-2zM298 413h1v1h-1zM300 413h1v1h-1zM217 414h1v1h-1zM257 414h1v1h-1zM275 414h1v1h-1zM285 414h2v1h-2zM298 414h1v1h-1zM246 415h1v1h-1zM249 415h1v1h-1zM297 415h2v1h-2zM212 416h2v1h-2zM223 416h1v1h-1zM244 416h2v1h-2zM249 416h1v1h-1zM269 416h1v1h-1zM272 416h1v1h-1zM277 416h1v1h-1zM282 416h2v1h-2zM210 417h2v1h-2zM223 417h1v1h-1zM244 417h2v1h-2zM261 417h2v1h-2zM281 417h2v1h-2zM210 418h1v1h-1zM243 418h2v1h-2zM261 418h1v1h-1zM304 418h1v1h-1zM251 419h3v1h-3zM261 419h1v1h-1zM284 419h1v1h-1zM289 419h4v1h-4zM308 419h2v1h-2zM222 420h1v1h-1zM251 420h3v1h-3zM284 420h1v1h-1zM223 421h1v1h-1zM228 421h1v1h-1zM252 421h5v1h-5zM217 422h1v1h-1zM239 422h2v1h-2zM244 422h1v1h-1zM254 422h2v1h-2zM217 423h1v1h-1zM244 423h1v1h-1zM264 423h2v1h-2zM305 423h1v1h-1zM233 424h2v1h-2zM289 424h3v1h-3zM306 424h1v1h-1zM233 425h1v1h-1zM237 425h1v1h-1zM243 425h1v1h-1zM262 425h1v1h-1zM273 425h1v1h-1zM218 426h2v1h-2zM228 426h2v1h-2zM236 426h2v1h-2zM242 426h2v1h-2zM245 426h1v1h-1zM261 426h2v1h-2zM269 426h2v1h-2zM303 426h1v1h-1zM212 427h2v1h-2zM218 427h2v1h-2zM228 427h3v1h-3zM234 427h1v1h-1zM236 427h3v1h-3zM241 427h2v1h-2zM246 427h1v1h-1zM268 427h3v1h-3zM213 428h1v1h-1zM228 428h3v1h-3zM237 428h1v1h-1zM242 428h1v1h-1zM252 428h2v1h-2zM289 428h1v1h-1z"/>
<path fill="#12c7e6" d="M372 356h2v1h-2zM364 357h1v1h-1zM370 357h4v1h-4zM363 358h2v1h-2zM370 358h3v1h-3zM369 359h3v1h-3zM381 359h1v1h-1zM365 360h2v1h-2zM369 360h2v1h-2zM378 360h4v1h-4zM364 361h4v1h-4zM369 361h1v1h-1zM374 361h2v1h-2zM379 361h3v1h-3zM364 362h4v1h-4zM370 362h1v1h-1zM373 362h3v1h-3zM379 362h1v1h-1zM364 363h3v1h-3zM370 363h1v1h-1zM372 363h4v1h-4zM379 363h1v1h-1zM370 364h6v1h-6zM379 364h1v1h-1zM363 365h1v1h-1zM370 365h3v1h-3zM374 365h1v1h-1zM371 366h2v1h-2zM377 366h1v1h-1zM371 367h2v1h-2zM377 367h1v1h-1zM381 367h1v1h-1zM360 368h2v1h-2zM363 368h2v1h-2zM371 368h1v1h-1zM381 368h1v1h-1zM358 369h9v1h-9zM381 369h1v1h-1zM361 370h6v1h-6zM369 371h1v1h-1zM372 371h3v1h-3zM369 372h2v1h-2zM372 372h1v1h-1zM374 372h2v1h-2zM362 373h1v1h-1zM369 373h7v1h-7zM362 374h1v1h-1zM370 374h1v1h-1zM372 374h1v1h-1zM366 376h2v1h-2zM365 377h3v1h-3zM365 378h4v1h-4zM374 378h2v1h-2zM366 379h3v1h-3zM376 382h2v1h-2zM376 383h1v1h-1zM368 385h1v1h-1zM373 385h1v1h-1zM380 385h1v1h-1zM373 386h1v1h-1zM376 386h5v1h-5zM373 387h1v1h-1zM376 387h4v1h-4zM383 387h3v1h-3zM373 388h2v1h-2zM376 388h4v1h-4zM371 389h4v1h-4zM377 389h4v1h-4zM367 390h2v1h-2zM372 390h7v1h-7zM368 391h1v1h-1zM373 391h6v1h-6zM382 392h1v1h-1z"/>
<path fill="#8000ff" d="M406 349h2v1h-2zM409 349h1v1h-1zM397 350h3v1h-3zM387 351h3v1h-3zM391 351h1v1h-1zM394 351h2v1h-2zM397 351h2v1h-2zM406 351h2v1h-2zM383 352h1v1h-1zM386 352h5v1h-5zM394 352h4v1h-4zM407 352h3v1h-3zM383 353h1v1h-1zM386 353h2v1h-2zM389 353h3v1h-3zM393 353h2v1h-2zM396 353h2v1h-2zM401 353h3v1h-3zM406 353h4v1h-4zM385 354h2v1h-2zM389 354h4v1h-4zM395 354h2v1h-2zM398 354h1v1h-1zM409 354h1v1h-1zM386 355h2v1h-2zM390 355h1v1h-1zM396 355h4v1h-4zM387 356h1v1h-1zM397 356h4v1h-4zM402 356h1v1h-1zM405 356h2v1h-2zM384 357h1v1h-1zM387 357h1v1h-1zM392 357h1v1h-1zM394 357h1v1h-1zM398 357h9v1h-9zM384 358h2v1h-2zM387 358h6v1h-6zM394 358h3v1h-3zM403 358h3v1h-3zM407 358h2v1h-2zM384 359h2v1h-2zM388 359h1v1h-1zM392 359h1v1h-1zM396 359h1v1h-1zM405 359h1v1h-1zM407 359h3v1h-3zM385 360h3v1h-3zM391 360h2v1h-2zM396 360h2v1h-2zM406 360h4v1h-4zM384 361h5v1h-5zM385 362h2v1h-2zM389 362h1v1h-1zM399 362h1v1h-1zM385 363h3v1h-3zM392 363h5v1h-5zM399 363h5v1h-5zM405 363h1v1h-1zM385 364h2v1h-2zM393 364h1v1h-1zM398 364h2v1h-2zM401 364h6v1h-6zM385 365h3v1h-3zM389 365h2v1h-2zM397 365h3v1h-3zM401 365h1v1h-1zM385 366h2v1h-2zM389 366h1v1h-1zM396 366h2v1h-2zM401 366h1v1h-1zM404 366h2v1h-2zM400 367h1v1h-1zM403 367h3v1h-3zM387 368h1v1h-1zM390 368h2v1h-2zM397 368h3v1h-3zM404 368h2v1h-2zM387 369h2v1h-2zM393 369h1v1h-1zM396 369h2v1h-2zM391 370h1v1h-1zM396 370h3v1h-3zM386 371h3v1h-3zM391 371h1v1h-1zM395 371h4v1h-4zM388 372h1v1h-1zM395 372h4v1h-4zM388 373h2v1h-2zM398 373h4v1h-4zM404 373h1v1h-1zM407 373h2v1h-2zM389 374h1v1h-1zM398 374h3v1h-3zM402 374h4v1h-4zM407 374h2v1h-2zM393 375h1v1h-1zM401 375h5v1h-5zM407 375h3v1h-3zM387 376h2v1h-2zM391 376h2v1h-2zM394 376h4v1h-4zM401 376h9v1h-9zM386 377h2v1h-2zM389 377h2v1h-2zM392 377h6v1h-6zM403 377h7v1h-7zM393 378h3v1h-3zM401 378h1v1h-1zM404 378h3v1h-3zM408 378h2v1h-2zM389 379h2v1h-2zM393 379h4v1h-4zM400 379h3v1h-3zM404 379h2v1h-2zM408 379h2v1h-2zM389 380h2v1h-2zM393 380h5v1h-5zM401 380h2v1h-2zM405 380h1v1h-1zM408 380h1v1h-1zM389 381h2v1h-2zM392 381h2v1h-2zM396 381h3v1h-3zM401 381h1v1h-1zM403 381h3v1h-3zM407 381h1v1h-1zM392 382h1v1h-1zM396 382h3v1h-3zM402 382h3v1h-3zM407 382h1v1h-1zM409 382h1v1h-1zM387 383h2v1h-2zM391 383h8v1h-8zM403 383h2v1h-2zM387 384h1v1h-1zM393 384h3v1h-3zM397 384h4v1h-4zM403 384h2v1h-2zM393 385h2v1h-2zM397 385h4v1h-4zM404 385h1v1h-1zM408 385h2v1h-2zM393 386h10v1h-10zM404 386h1v1h-1zM408 386h2v1h-2zM393 387h9v1h-9zM404 387h1v1h-1zM389 388h3v1h-3zM393 388h2v1h-2zM397 388h2v1h-2zM400 388h2v1h-2zM403 388h5v1h-5zM392 389h3v1h-3zM399 389h2v1h-2zM402 389h3v1h-3zM406 389h2v1h-2zM393 390h2v1h-2zM399 390h5v1h-5zM406 390h3v1h-3zM388 391h5v1h-5zM394 391h1v1h-1zM400 391h4v1h-4zM407 391h3v1h-3zM390 392h2v1h-2zM394 392h4v1h-4zM407 392h2v1h-2zM393 393h4v1h-4zM405 393h1v1h-1zM409 393h1v1h-1zM400 394h1v1h-1zM405 394h1v1h-1zM407 394h3v1h-3zM400 395h1v1h-1zM407 395h2v1h-2zM403 396h7v1h-7zM406 397h4v1h-4z"/>
<path fill="#376ff9" d="M407 349h1v1h-1zM399 350h1v1h-1zM404 350h1v1h-1zM409 350h1v1h-1zM388 351h6v1h-6zM404 351h1v1h-1zM409 351h1v1h-1zM388 352h1v1h-1zM392 352h2v1h-2zM395 352h2v1h-2zM399 352h2v1h-2zM387 353h2v1h-2zM395 353h7v1h-7zM387 354h2v1h-2zM395 354h2v1h-2zM399 354h4v1h-4zM405 354h3v1h-3zM386 355h2v1h-2zM391 355h2v1h-2zM396 355h1v1h-1zM402 355h1v1h-1zM405 355h2v1h-2zM384 356h4v1h-4zM391 356h2v1h-2zM395 356h3v1h-3zM401 356h2v1h-2zM404 356h1v1h-1zM406 356h2v1h-2zM384 357h1v1h-1zM392 357h1v1h-1zM396 357h2v1h-2zM399 357h4v1h-4zM404 357h1v1h-1zM407 357h1v1h-1zM397 358h2v1h-2zM402 358h1v1h-1zM394 359h2v1h-2zM389 360h1v1h-1zM393 360h3v1h-3zM398 360h1v1h-1zM403 360h1v1h-1zM409 360h1v1h-1zM392 361h1v1h-1zM398 361h1v1h-1zM403 361h1v1h-1zM405 361h2v1h-2zM409 361h1v1h-1zM390 362h3v1h-3zM394 362h1v1h-1zM399 362h1v1h-1zM406 362h1v1h-1zM385 363h1v1h-1zM387 363h1v1h-1zM392 363h1v1h-1zM394 363h2v1h-2zM398 363h2v1h-2zM394 364h2v1h-2zM406 364h1v1h-1zM394 365h3v1h-3zM408 365h2v1h-2zM392 366h2v1h-2zM396 366h2v1h-2zM409 366h1v1h-1zM385 367h1v1h-1zM397 367h1v1h-1zM406 367h2v1h-2zM409 367h1v1h-1zM385 368h1v1h-1zM389 368h1v1h-1zM396 368h2v1h-2zM395 369h2v1h-2zM394 370h3v1h-3zM394 371h3v1h-3zM392 372h3v1h-3zM396 372h1v1h-1zM392 373h3v1h-3zM397 373h1v1h-1zM406 373h1v1h-1zM386 374h3v1h-3zM399 374h1v1h-1zM406 374h1v1h-1zM386 375h3v1h-3zM390 375h2v1h-2zM405 375h2v1h-2zM386 376h1v1h-1zM388 376h1v1h-1zM391 376h1v1h-1zM395 376h1v1h-1zM405 376h2v1h-2zM391 377h1v1h-1zM394 377h2v1h-2zM404 377h4v1h-4zM391 378h1v1h-1zM394 378h4v1h-4zM406 378h1v1h-1zM408 378h2v1h-2zM394 379h2v1h-2zM391 380h4v1h-4zM403 381h2v1h-2zM387 382h1v1h-1zM402 382h2v1h-2zM387 383h1v1h-1zM402 383h1v1h-1zM408 383h1v1h-1zM390 385h2v1h-2zM396 385h2v1h-2zM402 386h4v1h-4zM402 387h4v1h-4zM395 390h2v1h-2zM403 390h1v1h-1zM389 391h1v1h-1zM392 391h1v1h-1zM403 391h4v1h-4zM391 392h2v1h-2zM403 392h2v1h-2zM406 392h1v1h-1zM408 392h2v1h-2zM396 393h2v1h-2zM401 393h3v1h-3zM408 393h2v1h-2zM402 394h2v1h-2zM409 394h1v1h-1z"/>
<path fill="#8000ff" d="M374 356h1v1h-1zM376 356h6v1h-6zM368 357h4v1h-4zM375 357h5v1h-5zM381 357h2v1h-2zM359 358h3v1h-3zM367 358h4v1h-4zM359 359h1v1h-1zM363 359h3v1h-3zM368 359h4v1h-4zM347 360h4v1h-4zM353 360h3v1h-3zM357 360h3v1h-3zM365 360h1v1h-1zM368 360h2v1h-2zM371 360h1v1h-1zM354 361h1v1h-1zM357 361h2v1h-2zM360 361h1v1h-1zM368 361h2v1h-2zM382 361h1v1h-1zM359 362h2v1h-2zM374 362h1v1h-1zM376 362h1v1h-1zM379 362h1v1h-1zM382 362h1v1h-1zM359 363h1v1h-1zM381 363h2v1h-2zM361 364h1v1h-1zM372 364h1v1h-1zM376 364h2v1h-2zM380 364h3v1h-3zM363 365h1v1h-1zM371 365h2v1h-2zM375 365h3v1h-3zM380 365h2v1h-2zM375 366h2v1h-2zM382 366h1v1h-1zM379 367h1v1h-1zM367 368h1v1h-1zM371 368h1v1h-1zM378 368h2v1h-2zM367 369h5v1h-5zM370 370h2v1h-2zM380 370h1v1h-1zM382 370h1v1h-1zM369 371h3v1h-3zM377 371h1v1h-1zM380 371h1v1h-1zM372 372h1v1h-1zM377 372h2v1h-2zM380 372h3v1h-3zM380 373h1v1h-1zM378 374h1v1h-1zM380 374h1v1h-1zM377 375h2v1h-2zM381 375h2v1h-2zM378 379h3v1h-3zM382 379h1v1h-1z"/>
<path fill="#5bf9c7" d="M367 391h1v1h-1zM369 392h2v1h-2zM363 393h1v1h-1zM362 394h4v1h-4zM372 394h1v1h-1zM374 394h2v1h-2zM359 395h1v1h-1zM362 395h3v1h-3zM369 395h2v1h-2zM372 395h4v1h-4zM379 395h1v1h-1zM364 396h2v1h-2zM370 396h6v1h-6zM364 397h2v1h-2zM368 397h3v1h-3zM373 397h3v1h-3zM381 397h1v1h-1zM384 397h2v1h-2zM353 398h1v1h-1zM362 398h2v1h-2zM368 398h3v1h-3zM374 398h2v1h-2zM377 398h1v1h-1zM380 398h3v1h-3zM385 398h1v1h-1zM357 399h2v1h-2zM361 399h2v1h-2zM367 399h3v1h-3zM374 399h2v1h-2zM380 399h2v1h-2zM385 399h1v1h-1zM357 400h1v1h-1zM362 400h1v1h-1zM365 400h3v1h-3zM370 400h1v1h-1zM373 400h3v1h-3zM381 400h2v1h-2zM395 400h1v1h-1zM357 401h1v1h-1zM363 401h4v1h-4zM370 401h2v1h-2zM373 401h4v1h-4zM378 401h1v1h-1zM380 401h3v1h-3zM398 401h1v1h-1zM373 402h3v1h-3zM377 402h2v1h-2zM380 402h3v1h-3zM384 402h2v1h-2zM393 402h3v1h-3zM356 403h1v1h-1zM358 403h1v1h-1zM374 403h5v1h-5zM384 403h3v1h-3zM393 403h3v1h-3zM349 404h2v1h-2zM354 404h3v1h-3zM358 404h1v1h-1zM374 404h3v1h-3zM378 404h2v1h-2zM387 404h1v1h-1zM393 404h3v1h-3zM398 404h2v1h-2zM401 404h3v1h-3zM357 405h1v1h-1zM360 405h3v1h-3zM374 405h3v1h-3zM378 405h2v1h-2zM384 405h2v1h-2zM389 405h7v1h-7zM397 405h6v1h-6zM352 406h1v1h-1zM360 406h2v1h-2zM375 406h5v1h-5zM385 406h1v1h-1zM389 406h2v1h-2zM392 406h1v1h-1zM397 406h3v1h-3zM402 406h1v1h-1zM350 407h3v1h-3zM360 407h2v1h-2zM369 407h1v1h-1zM375 407h1v1h-1zM377 407h3v1h-3zM383 407h3v1h-3zM390 407h7v1h-7zM398 407h1v1h-1zM351 408h1v1h-1zM361 408h1v1h-1zM368 408h2v1h-2zM371 408h2v1h-2zM374 408h3v1h-3zM378 408h2v1h-2zM385 408h2v1h-2zM392 408h4v1h-4zM407 408h1v1h-1zM352 409h2v1h-2zM361 409h1v1h-1zM368 409h1v1h-1zM370 409h2v1h-2zM373 409h4v1h-4zM378 409h4v1h-4zM387 409h3v1h-3zM393 409h2v1h-2zM396 409h1v1h-1zM407 409h1v1h-1zM345 410h1v1h-1zM352 410h5v1h-5zM360 410h2v1h-2zM363 410h1v1h-1zM367 410h2v1h-2zM373 410h3v1h-3zM379 410h4v1h-4zM387 410h2v1h-2zM393 410h5v1h-5zM403 410h1v1h-1zM406 410h3v1h-3zM352 411h5v1h-5zM358 411h4v1h-4zM363 411h2v1h-2zM371 411h1v1h-1zM373 411h4v1h-4zM380 411h3v1h-3zM388 411h1v1h-1zM393 411h5v1h-5zM404 411h1v1h-1zM407 411h2v1h-2zM344 412h1v1h-1zM350 412h6v1h-6zM357 412h3v1h-3zM364 412h1v1h-1zM367 412h1v1h-1zM369 412h3v1h-3zM375 412h2v1h-2zM380 412h2v1h-2zM399 412h5v1h-5zM408 412h2v1h-2zM343 413h3v1h-3zM349 413h1v1h-1zM352 413h2v1h-2zM357 413h3v1h-3zM364 413h5v1h-5zM371 413h1v1h-1zM375 413h2v1h-2zM384 413h1v1h-1zM390 413h2v1h-2zM398 413h7v1h-7zM346 414h3v1h-3zM360 414h5v1h-5zM367 414h1v1h-1zM370 414h2v1h-2zM374 414h8v1h-8zM384 414h1v1h-1zM391 414h1v1h-1zM400 414h4v1h-4zM346 415h5v1h-5zM358 415h6v1h-6zM377 415h5v1h-5zM384 415h1v1h-1zM388 415h2v1h-2zM396 415h1v1h-1zM401 415h1v1h-1zM342 416h1v1h-1zM346 416h1v1h-1zM349 416h2v1h-2zM358 416h2v1h-2zM361 416h4v1h-4zM367 416h2v1h-2zM370 416h1v1h-1zM373 416h1v1h-1zM377 416h3v1h-3zM381 416h1v1h-1zM384 416h3v1h-3zM388 416h1v1h-1zM346 417h1v1h-1zM349 417h2v1h-2zM357 417h3v1h-3zM363 417h1v1h-1zM367 417h1v1h-1zM370 417h1v1h-1zM343 418h1v1h-1zM345 418h3v1h-3zM350 418h1v1h-1zM357 418h1v1h-1z"/>
<path fill="#8000ff" d="M366 391h2v1h-2zM366 392h1v1h-1zM362 393h1v1h-1zM366 393h1v1h-1zM365 394h2v1h-2zM361 395h1v1h-1zM365 395h2v1h-2zM375 395h5v1h-5zM360 396h1v1h-1zM376 396h3v1h-3zM370 397h2v1h-2zM384 397h1v1h-1zM384 398h1v1h-1zM353 399h1v1h-1zM362 399h1v1h-1zM378 399h4v1h-4zM352 400h1v1h-1zM378 400h3v1h-3zM392 400h2v1h-2zM364 401h1v1h-1zM377 401h2v1h-2zM376 402h2v1h-2zM384 403h3v1h-3zM349 404h1v1h-1zM367 404h1v1h-1zM384 404h2v1h-2zM396 404h2v1h-2zM348 405h2v1h-2zM366 405h2v1h-2zM396 405h1v1h-1zM404 405h1v1h-1zM348 406h1v1h-1zM354 406h2v1h-2zM366 406h1v1h-1zM372 406h1v1h-1zM391 406h3v1h-3zM404 406h2v1h-2zM354 407h1v1h-1zM352 408h1v1h-1zM367 408h2v1h-2zM397 408h1v1h-1zM402 408h1v1h-1zM346 409h1v1h-1zM368 409h1v1h-1zM385 409h1v1h-1zM400 409h3v1h-3zM405 409h1v1h-1zM408 409h1v1h-1zM345 410h1v1h-1zM347 410h1v1h-1zM351 410h2v1h-2zM369 410h2v1h-2zM377 410h2v1h-2zM383 410h1v1h-1zM401 410h1v1h-1zM408 410h1v1h-1zM348 411h1v1h-1zM369 411h2v1h-2zM377 411h2v1h-2zM404 411h1v1h-1zM409 411h1v1h-1zM349 412h1v1h-1zM360 412h2v1h-2zM368 412h3v1h-3zM394 412h2v1h-2zM404 412h2v1h-2zM409 412h1v1h-1zM351 413h1v1h-1zM368 413h3v1h-3zM395 413h2v1h-2zM405 413h1v1h-1zM342 414h1v1h-1zM351 414h1v1h-1zM364 414h1v1h-1zM369 414h1v1h-1zM383 414h1v1h-1zM396 414h1v1h-1zM351 415h3v1h-3zM357 415h2v1h-2zM369 415h1v1h-1zM380 415h1v1h-1zM383 415h2v1h-2zM390 415h2v1h-2zM396 415h1v1h-1zM404 415h1v1h-1zM365 416h1v1h-1zM368 416h2v1h-2zM383 416h1v1h-1zM365 417h2v1h-2z"/>
<path fill="#edc76f" d="M367 393h1v1h-1zM373 393h2v1h-2zM367 394h1v1h-1zM368 395h1v1h-1zM383 395h3v1h-3zM367 396h2v1h-2zM383 396h4v1h-4zM384 397h4v1h-4zM387 398h1v1h-1zM372 399h1v1h-1zM393 399h1v1h-1zM372 400h1v1h-1zM374 400h2v1h-2zM395 400h2v1h-2zM374 401h1v1h-1zM384 401h1v1h-1zM395 401h2v1h-2zM372 402h2v1h-2zM384 402h2v1h-2zM371 403h4v1h-4zM371 404h5v1h-5zM371 405h1v1h-1zM375 405h2v1h-2zM376 406h1v1h-1zM390 406h1v1h-1zM390 407h1v1h-1zM391 408h2v1h-2zM396 408h1v1h-1zM396 409h1v1h-1z"/>
<path fill="#5bf9c7" d="M333 392h1v1h-1zM341 392h1v1h-1zM343 392h1v1h-1zM346 392h3v1h-3zM333 393h1v1h-1zM344 393h1v1h-1zM348 393h1v1h-1zM328 394h3v1h-3zM333 394h1v1h-1zM329 395h1v1h-1zM328 396h1v1h-1zM335 396h2v1h-2zM346 396h1v1h-1zM328 397h1v1h-1zM336 397h1v1h-1zM338 397h1v1h-1zM341 397h1v1h-1zM327 398h1v1h-1zM342 398h1v1h-1zM347 398h1v1h-1zM327 399h1v1h-1zM342 399h2v1h-2zM347 399h2v1h-2zM343 400h2v1h-2zM348 400h1v1h-1zM333 401h2v1h-2zM338 401h4v1h-4zM333 402h1v1h-1zM339 402h3v1h-3zM339 403h2v1h-2zM332 404h2v1h-2zM345 404h1v1h-1zM332 405h2v1h-2zM341 405h1v1h-1zM343 405h1v1h-1zM345 405h1v1h-1zM336 406h3v1h-3zM344 406h2v1h-2zM335 407h3v1h-3zM345 407h1v1h-1zM333 410h2v1h-2zM344 410h1v1h-1zM333 411h2v1h-2zM343 411h2v1h-2zM328 412h2v1h-2zM342 412h2v1h-2zM337 413h1v1h-1zM341 413h2v1h-2z"/>
<path fill="#376ff9" d="M310 359h3v1h-3zM323 359h4v1h-4zM310 360h3v1h-3zM319 360h1v1h-1zM323 360h2v1h-2zM339 360h4v1h-4zM310 361h2v1h-2zM319 361h1v1h-1zM339 361h5v1h-5zM320 362h2v1h-2zM338 362h2v1h-2zM346 362h1v1h-1zM313 363h2v1h-2zM320 363h3v1h-3zM326 363h1v1h-1zM330 363h1v1h-1zM338 363h2v1h-2zM346 363h1v1h-1zM314 364h1v1h-1zM319 364h3v1h-3zM333 364h1v1h-1zM339 364h1v1h-1zM345 364h1v1h-1zM356 364h2v1h-2zM316 365h2v1h-2zM319 365h1v1h-1zM344 365h2v1h-2zM356 365h2v1h-2zM315 366h3v1h-3zM319 366h1v1h-1zM354 366h2v1h-2zM330 367h1v1h-1zM354 367h2v1h-2zM319 368h2v1h-2zM346 368h1v1h-1zM320 369h1v1h-1zM323 369h1v1h-1zM336 369h2v1h-2zM343 369h1v1h-1zM323 370h1v1h-1zM332 370h2v1h-2zM338 370h1v1h-1zM352 370h1v1h-1zM336 371h1v1h-1zM338 371h1v1h-1zM352 371h1v1h-1zM336 372h3v1h-3zM341 372h1v1h-1zM349 372h1v1h-1zM324 373h1v1h-1zM336 373h4v1h-4zM324 374h1v1h-1zM338 374h1v1h-1zM316 375h1v1h-1zM343 375h1v1h-1zM322 376h1v1h-1zM346 376h1v1h-1zM310 377h1v1h-1zM319 377h3v1h-3zM323 377h2v1h-2zM331 377h1v1h-1zM314 378h1v1h-1zM319 378h3v1h-3zM323 378h1v1h-1zM327 379h2v1h-2zM333 379h1v1h-1zM317 380h1v1h-1zM326 380h4v1h-4zM313 381h2v1h-2zM318 381h1v1h-1z"/>
<path fill="#12c7e6" d="M446 342h3v1h-3zM470 342h3v1h-3zM488 342h1v1h-1zM501 342h2v1h-2zM426 343h1v1h-1zM446 343h3v1h-3zM456 343h3v1h-3zM417 344h1v1h-1zM456 344h4v1h-4zM416 345h3v1h-3zM436 345h3v1h-3zM455 345h2v1h-2zM416 346h3v1h-3zM435 346h4v1h-4zM454 346h2v1h-2zM484 346h1v1h-1zM490 346h1v1h-1zM417 347h1v1h-1zM435 347h5v1h-5zM453 347h2v1h-2zM483 347h2v1h-2zM489 347h2v1h-2zM430 348h3v1h-3zM434 348h5v1h-5zM442 348h5v1h-5zM452 348h3v1h-3zM489 348h2v1h-2zM501 348h2v1h-2zM506 348h1v1h-1zM417 349h1v1h-1zM430 349h2v1h-2zM436 349h3v1h-3zM441 349h7v1h-7zM451 349h4v1h-4zM473 349h1v1h-1zM497 349h6v1h-6zM417 350h2v1h-2zM443 350h5v1h-5zM450 350h4v1h-4zM471 350h5v1h-5zM496 350h7v1h-7zM411 351h4v1h-4zM416 351h3v1h-3zM445 351h2v1h-2zM451 351h3v1h-3zM471 351h4v1h-4zM499 351h3v1h-3zM411 352h8v1h-8zM451 352h4v1h-4zM457 352h2v1h-2zM471 352h4v1h-4zM499 352h3v1h-3zM411 353h5v1h-5zM435 353h3v1h-3zM450 353h5v1h-5zM457 353h2v1h-2zM471 353h7v1h-7zM499 353h2v1h-2zM411 354h3v1h-3zM435 354h2v1h-2zM450 354h5v1h-5zM457 354h3v1h-3zM471 354h8v1h-8zM481 354h1v1h-1zM450 355h4v1h-4zM457 355h3v1h-3zM471 355h1v1h-1zM480 355h2v1h-2zM421 356h5v1h-5zM432 356h1v1h-1zM450 356h3v1h-3zM461 356h4v1h-4zM480 356h3v1h-3zM504 356h3v1h-3zM410 357h3v1h-3zM419 357h7v1h-7zM428 357h1v1h-1zM433 357h1v1h-1zM448 357h3v1h-3zM460 357h5v1h-5zM504 357h3v1h-3zM410 358h3v1h-3zM419 358h6v1h-6zM448 358h3v1h-3zM461 358h3v1h-3zM506 358h1v1h-1zM419 359h1v1h-1zM440 359h1v1h-1zM480 359h1v1h-1zM495 359h2v1h-2zM455 360h1v1h-1zM478 360h4v1h-4zM491 360h1v1h-1zM495 360h3v1h-3zM506 360h1v1h-1zM416 361h1v1h-1zM455 361h2v1h-2zM467 361h1v1h-1zM477 361h5v1h-5zM495 361h3v1h-3zM428 362h2v1h-2zM445 362h4v1h-4zM454 362h3v1h-3zM477 362h5v1h-5zM494 362h4v1h-4zM428 363h3v1h-3zM445 363h5v1h-5zM451 363h3v1h-3zM456 363h1v1h-1zM468 363h1v1h-1zM479 363h1v1h-1zM486 363h1v1h-1zM494 363h4v1h-4zM426 364h5v1h-5zM444 364h11v1h-11zM467 364h2v1h-2zM426 365h2v1h-2zM430 365h2v1h-2zM444 365h3v1h-3zM448 365h7v1h-7zM468 365h1v1h-1zM426 366h1v1h-1zM430 366h2v1h-2zM448 366h2v1h-2zM452 366h5v1h-5zM417 367h2v1h-2zM430 367h2v1h-2zM448 367h2v1h-2zM452 367h5v1h-5zM494 367h3v1h-3zM417 368h2v1h-2zM430 368h1v1h-1zM436 368h1v1h-1zM476 368h1v1h-1zM493 368h3v1h-3zM505 368h2v1h-2zM417 369h3v1h-3zM429 369h3v1h-3zM436 369h2v1h-2zM493 369h3v1h-3zM505 369h2v1h-2zM418 370h3v1h-3zM426 370h6v1h-6zM436 370h2v1h-2zM457 370h1v1h-1zM463 370h1v1h-1zM488 370h7v1h-7zM504 370h3v1h-3zM419 371h2v1h-2zM426 371h4v1h-4zM438 371h1v1h-1zM445 371h2v1h-2zM463 371h1v1h-1zM489 371h6v1h-6zM504 371h1v1h-1zM426 372h3v1h-3zM434 372h1v1h-1zM445 372h2v1h-2zM490 372h6v1h-6zM427 373h1v1h-1zM434 373h2v1h-2zM444 373h3v1h-3zM491 373h5v1h-5zM433 374h5v1h-5zM444 374h3v1h-3zM473 374h4v1h-4zM410 375h3v1h-3zM433 375h4v1h-4zM444 375h2v1h-2zM473 375h3v1h-3zM506 375h1v1h-1zM410 376h3v1h-3zM436 376h2v1h-2zM444 376h1v1h-1zM492 376h3v1h-3zM498 376h1v1h-1zM506 376h1v1h-1zM410 377h2v1h-2zM436 377h2v1h-2zM479 377h1v1h-1zM492 377h2v1h-2zM498 377h1v1h-1zM506 377h1v1h-1zM466 378h2v1h-2zM479 378h2v1h-2zM505 378h2v1h-2zM421 379h1v1h-1zM434 379h2v1h-2zM446 379h2v1h-2zM466 379h2v1h-2zM479 379h1v1h-1zM504 379h3v1h-3zM410 380h1v1h-1zM421 380h2v1h-2zM434 380h2v1h-2zM446 380h2v1h-2zM466 380h2v1h-2zM470 380h4v1h-4zM504 380h3v1h-3zM420 381h3v1h-3zM435 381h1v1h-1zM470 381h5v1h-5zM505 381h1v1h-1zM418 382h5v1h-5zM465 382h1v1h-1zM472 382h3v1h-3zM417 383h6v1h-6zM433 383h2v1h-2zM456 383h2v1h-2zM464 383h3v1h-3zM473 383h3v1h-3zM417 384h6v1h-6zM434 384h1v1h-1zM464 384h3v1h-3zM473 384h4v1h-4zM419 385h4v1h-4zM463 385h3v1h-3zM472 385h5v1h-5zM420 386h2v1h-2zM440 386h5v1h-5zM463 386h2v1h-2zM472 386h3v1h-3zM503 386h1v1h-1zM439 387h6v1h-6zM462 387h2v1h-2zM503 387h1v1h-1zM438 388h5v1h-5zM444 388h1v1h-1zM460 388h2v1h-2zM469 388h1v1h-1zM506 388h1v1h-1zM421 389h3v1h-3zM438 389h8v1h-8zM468 389h2v1h-2zM421 390h4v1h-4zM438 390h8v1h-8zM456 390h2v1h-2zM468 390h1v1h-1zM480 390h2v1h-2zM420 391h5v1h-5zM439 391h7v1h-7zM456 391h2v1h-2zM479 391h5v1h-5zM413 392h1v1h-1zM420 392h5v1h-5zM439 392h7v1h-7zM481 392h4v1h-4zM421 393h2v1h-2zM428 393h1v1h-1zM440 393h3v1h-3zM446 393h1v1h-1zM467 393h1v1h-1zM482 393h3v1h-3zM500 393h2v1h-2zM427 394h3v1h-3zM446 394h1v1h-1zM481 394h4v1h-4zM488 394h2v1h-2zM500 394h1v1h-1zM418 395h2v1h-2zM428 395h4v1h-4zM446 395h1v1h-1zM481 395h4v1h-4zM488 395h2v1h-2zM418 396h2v1h-2zM430 396h2v1h-2zM446 396h1v1h-1zM481 396h4v1h-4zM501 396h1v1h-1zM504 396h2v1h-2zM419 397h1v1h-1zM430 397h5v1h-5zM465 397h2v1h-2zM472 397h1v1h-1zM504 397h2v1h-2zM438 398h2v1h-2zM464 398h3v1h-3zM472 398h3v1h-3zM504 398h2v1h-2zM462 399h4v1h-4zM471 399h4v1h-4zM410 400h3v1h-3zM462 400h3v1h-3zM472 400h3v1h-3zM410 401h5v1h-5zM486 401h2v1h-2zM412 402h3v1h-3zM444 402h2v1h-2zM486 402h2v1h-2zM429 403h1v1h-1zM443 403h3v1h-3zM485 403h1v1h-1zM439 404h6v1h-6zM448 404h2v1h-2zM467 404h4v1h-4zM483 404h3v1h-3zM439 405h4v1h-4zM467 405h5v1h-5zM473 405h3v1h-3zM482 405h4v1h-4zM490 405h1v1h-1zM468 406h4v1h-4zM474 406h4v1h-4zM484 406h2v1h-2zM489 406h2v1h-2zM498 406h2v1h-2zM460 407h2v1h-2zM469 407h4v1h-4zM475 407h3v1h-3zM489 407h2v1h-2zM469 408h5v1h-5zM475 408h2v1h-2zM489 408h2v1h-2zM412 409h2v1h-2zM422 409h2v1h-2zM470 409h3v1h-3zM489 409h4v1h-4zM412 410h2v1h-2zM422 410h2v1h-2zM431 410h1v1h-1zM440 410h1v1h-1zM446 410h1v1h-1zM471 410h2v1h-2zM488 410h6v1h-6zM430 411h2v1h-2zM455 411h1v1h-1zM471 411h1v1h-1zM484 411h3v1h-3zM431 412h1v1h-1zM454 412h2v1h-2zM471 412h1v1h-1zM483 412h4v1h-4zM496 412h2v1h-2zM420 413h3v1h-3zM431 413h2v1h-2zM453 413h2v1h-2zM469 413h3v1h-3zM483 413h4v1h-4zM495 413h2v1h-2zM506 413h1v1h-1zM419 414h4v1h-4zM432 414h1v1h-1zM469 414h4v1h-4zM483 414h3v1h-3zM494 414h3v1h-3zM505 414h2v1h-2zM417 415h6v1h-6zM469 415h4v1h-4zM505 415h2v1h-2zM417 416h5v1h-5zM418 417h1v1h-1zM456 417h2v1h-2zM465 417h1v1h-1zM490 417h1v1h-1zM410 418h1v1h-1zM456 418h7v1h-7zM465 418h1v1h-1zM479 418h3v1h-3zM490 418h2v1h-2zM459 419h5v1h-5zM471 419h2v1h-2zM459 420h5v1h-5zM498 420h2v1h-2zM461 421h2v1h-2zM495 421h1v1h-1zM497 421h3v1h-3zM495 422h5v1h-5zM451 423h2v1h-2zM481 423h1v1h-1zM495 423h4v1h-4zM415 424h1v1h-1zM449 424h3v1h-3zM469 424h2v1h-2zM481 424h2v1h-2zM493 424h5v1h-5zM410 425h1v1h-1zM415 425h2v1h-2zM425 425h2v1h-2zM449 425h2v1h-2zM469 425h2v1h-2zM481 425h3v1h-3zM493 425h4v1h-4zM426 426h1v1h-1zM436 426h2v1h-2zM449 426h2v1h-2zM468 426h3v1h-3zM481 426h4v1h-4zM436 427h2v1h-2zM450 427h2v1h-2zM468 427h3v1h-3zM480 427h6v1h-6zM436 428h3v1h-3zM450 428h1v1h-1zM467 428h7v1h-7zM479 428h5v1h-5z"/>
<path fill="#8000ff" d="M413 342h2v1h-2zM418 342h4v1h-4zM429 342h2v1h-2zM432 342h2v1h-2zM445 342h4v1h-4zM461 342h2v1h-2zM472 342h5v1h-5zM479 342h1v1h-1zM413 343h2v1h-2zM418 343h9v1h-9zM429 343h2v1h-2zM443 343h6v1h-6zM450 343h1v1h-1zM460 343h4v1h-4zM472 343h4v1h-4zM479 343h2v1h-2zM419 344h7v1h-7zM443 344h8v1h-8zM458 344h5v1h-5zM471 344h5v1h-5zM479 344h3v1h-3zM420 345h5v1h-5zM439 345h1v1h-1zM443 345h6v1h-6zM457 345h6v1h-6zM472 345h2v1h-2zM480 345h2v1h-2zM410 346h2v1h-2zM420 346h5v1h-5zM431 346h1v1h-1zM438 346h3v1h-3zM443 346h5v1h-5zM451 346h3v1h-3zM457 346h3v1h-3zM410 347h1v1h-1zM421 347h2v1h-2zM431 347h2v1h-2zM438 347h3v1h-3zM445 347h2v1h-2zM457 347h3v1h-3zM479 347h1v1h-1zM410 348h1v1h-1zM431 348h1v1h-1zM437 348h3v1h-3zM447 348h1v1h-1zM458 348h2v1h-2zM473 348h4v1h-4zM417 349h1v1h-1zM432 349h1v1h-1zM436 349h4v1h-4zM447 349h2v1h-2zM458 349h1v1h-1zM473 349h4v1h-4zM436 350h5v1h-5zM443 350h1v1h-1zM447 350h3v1h-3zM455 350h4v1h-4zM468 350h1v1h-1zM473 350h2v1h-2zM443 351h2v1h-2zM446 351h4v1h-4zM457 351h10v1h-10zM468 351h2v1h-2zM471 351h3v1h-3z"/>
<path fill="#376ff9" d="M427 342h1v1h-1zM433 342h1v1h-1zM419 343h1v1h-1zM433 343h1v1h-1zM442 343h1v1h-1zM449 343h2v1h-2zM466 343h1v1h-1zM468 343h1v1h-1zM476 343h2v1h-2zM483 343h1v1h-1zM498 343h1v1h-1zM466 344h3v1h-3zM476 344h1v1h-1zM479 344h3v1h-3zM483 344h1v1h-1zM498 344h1v1h-1zM420 345h2v1h-2zM476 345h1v1h-1zM480 345h1v1h-1zM434 346h1v1h-1zM472 346h1v1h-1zM476 346h1v1h-1zM420 347h1v1h-1zM434 347h2v1h-2zM459 347h6v1h-6zM472 347h1v1h-1zM480 347h1v1h-1zM493 347h1v1h-1zM500 347h2v1h-2zM410 348h1v1h-1zM420 348h2v1h-2zM434 348h1v1h-1zM442 348h2v1h-2zM448 348h2v1h-2zM460 348h2v1h-2zM463 348h1v1h-1zM469 348h2v1h-2zM476 348h1v1h-1zM485 348h4v1h-4zM493 348h1v1h-1zM501 348h2v1h-2zM433 349h1v1h-1zM443 349h2v1h-2zM448 349h1v1h-1zM469 349h1v1h-1zM487 349h2v1h-2zM506 349h1v1h-1zM443 350h1v1h-1zM457 350h1v1h-1zM502 350h1v1h-1zM506 350h1v1h-1zM416 351h2v1h-2zM461 351h1v1h-1zM502 351h2v1h-2zM506 351h1v1h-1zM412 352h1v1h-1zM458 352h1v1h-1zM461 352h1v1h-1zM486 352h1v1h-1zM503 352h1v1h-1zM412 353h1v1h-1zM472 353h1v1h-1zM490 353h2v1h-2zM503 353h1v1h-1zM433 354h1v1h-1zM449 354h1v1h-1zM460 354h3v1h-3zM490 354h2v1h-2zM504 354h1v1h-1zM436 355h1v1h-1zM466 355h2v1h-2zM469 355h1v1h-1zM471 355h1v1h-1zM482 355h1v1h-1zM419 356h2v1h-2zM428 356h2v1h-2zM466 356h1v1h-1zM471 356h1v1h-1zM482 356h1v1h-1zM428 357h2v1h-2zM469 357h1v1h-1zM482 357h2v1h-2zM448 358h1v1h-1zM468 358h2v1h-2zM491 358h1v1h-1zM421 359h1v1h-1zM443 359h7v1h-7zM453 359h1v1h-1zM476 359h2v1h-2zM489 359h2v1h-2zM503 359h1v1h-1zM440 360h2v1h-2zM447 360h3v1h-3zM468 360h2v1h-2zM476 360h2v1h-2zM498 360h1v1h-1zM503 360h1v1h-1zM438 361h5v1h-5zM448 361h2v1h-2zM467 361h3v1h-3zM477 361h1v1h-1zM502 361h3v1h-3zM440 362h1v1h-1zM445 362h1v1h-1zM449 362h1v1h-1zM467 362h1v1h-1zM474 362h1v1h-1zM477 362h1v1h-1zM490 362h1v1h-1zM413 363h2v1h-2zM429 363h2v1h-2zM440 363h2v1h-2zM449 363h1v1h-1zM461 363h1v1h-1zM474 363h1v1h-1zM414 364h1v1h-1zM441 364h1v1h-1zM460 364h3v1h-3zM482 364h1v1h-1zM422 365h1v1h-1zM449 365h1v1h-1zM460 365h2v1h-2zM485 365h1v1h-1zM494 365h1v1h-1zM431 366h1v1h-1zM449 366h1v1h-1zM458 366h1v1h-1zM474 366h2v1h-2zM485 366h1v1h-1zM497 366h2v1h-2zM431 367h3v1h-3zM475 367h3v1h-3zM410 368h1v1h-1zM436 368h2v1h-2zM444 368h2v1h-2zM451 368h1v1h-1zM497 368h2v1h-2zM416 369h1v1h-1zM423 369h2v1h-2zM428 369h1v1h-1zM445 369h1v1h-1zM488 369h1v1h-1zM498 369h1v1h-1zM415 370h2v1h-2zM423 370h2v1h-2zM428 370h1v1h-1zM435 370h1v1h-1zM477 370h2v1h-2zM488 370h1v1h-1zM499 370h1v1h-1zM423 371h2v1h-2zM431 371h2v1h-2zM434 371h2v1h-2zM473 371h1v1h-1zM480 371h1v1h-1zM488 371h1v1h-1zM504 371h1v1h-1zM422 372h1v1h-1zM439 372h1v1h-1zM487 372h2v1h-2zM441 373h1v1h-1zM489 373h1v1h-1zM500 373h2v1h-2zM429 374h1v1h-1zM461 374h1v1h-1zM470 374h1v1h-1zM477 374h1v1h-1zM500 374h2v1h-2zM461 375h1v1h-1zM463 375h1v1h-1zM477 375h1v1h-1zM412 376h3v1h-3zM463 376h2v1h-2zM469 376h1v1h-1zM484 376h1v1h-1zM489 376h1v1h-1zM414 377h1v1h-1zM464 377h1v1h-1zM472 377h2v1h-2zM490 377h1v1h-1zM460 378h1v1h-1zM472 378h2v1h-2zM490 378h1v1h-1zM412 379h1v1h-1zM430 379h2v1h-2zM453 379h1v1h-1zM460 379h2v1h-2zM479 379h1v1h-1zM490 379h2v1h-2zM410 380h2v1h-2zM460 380h2v1h-2zM478 380h2v1h-2zM410 381h1v1h-1zM430 381h1v1h-1zM450 381h2v1h-2zM456 381h1v1h-1zM482 381h2v1h-2zM410 382h1v1h-1zM450 382h1v1h-1zM456 382h1v1h-1zM461 382h2v1h-2zM482 382h2v1h-2zM410 383h1v1h-1zM432 383h1v1h-1zM481 383h1v1h-1zM504 383h1v1h-1zM411 384h2v1h-2zM426 384h2v1h-2zM432 384h2v1h-2zM464 384h1v1h-1zM473 384h1v1h-1zM503 384h2v1h-2zM461 385h1v1h-1zM465 385h2v1h-2zM473 385h1v1h-1zM487 385h2v1h-2zM495 385h1v1h-1zM499 385h2v1h-2zM415 386h1v1h-1zM442 386h1v1h-1zM462 386h1v1h-1zM465 386h1v1h-1zM485 386h1v1h-1zM488 386h3v1h-3zM500 386h1v1h-1zM415 387h2v1h-2zM432 387h2v1h-2zM441 387h1v1h-1zM459 387h1v1h-1zM462 387h1v1h-1zM485 387h1v1h-1zM489 387h2v1h-2zM502 387h2v1h-2zM414 388h3v1h-3zM436 388h1v1h-1zM455 388h5v1h-5zM463 388h1v1h-1zM476 388h1v1h-1zM503 388h1v1h-1zM413 389h2v1h-2zM430 389h1v1h-1zM435 389h2v1h-2zM456 389h3v1h-3zM463 389h1v1h-1zM499 389h1v1h-1zM413 390h1v1h-1zM420 390h2v1h-2zM429 390h2v1h-2zM434 390h3v1h-3zM438 390h3v1h-3zM444 390h1v1h-1zM463 390h1v1h-1zM468 390h1v1h-1zM477 390h2v1h-2zM482 390h2v1h-2zM417 391h1v1h-1zM421 391h1v1h-1zM434 391h2v1h-2zM438 391h1v1h-1zM463 391h1v1h-1zM466 391h4v1h-4zM417 392h1v1h-1zM420 392h2v1h-2zM434 392h3v1h-3zM462 392h2v1h-2zM467 392h4v1h-4zM489 392h2v1h-2zM419 393h2v1h-2zM424 393h3v1h-3zM434 393h3v1h-3zM462 393h2v1h-2zM478 393h3v1h-3zM419 394h1v1h-1zM426 394h2v1h-2zM434 394h2v1h-2zM477 394h1v1h-1zM479 394h2v1h-2zM447 395h1v1h-1zM451 395h1v1h-1zM458 395h2v1h-2zM477 395h5v1h-5zM501 395h1v1h-1zM447 396h1v1h-1zM480 396h3v1h-3zM490 396h2v1h-2zM503 396h2v1h-2zM412 397h1v1h-1zM431 397h1v1h-1zM434 397h2v1h-2zM444 397h4v1h-4zM463 397h1v1h-1zM480 397h3v1h-3zM419 398h1v1h-1zM426 398h1v1h-1zM475 398h2v1h-2zM482 398h1v1h-1zM499 398h2v1h-2zM416 399h1v1h-1zM445 399h1v1h-1zM448 399h1v1h-1zM460 399h3v1h-3zM474 399h2v1h-2zM416 400h2v1h-2zM445 400h1v1h-1zM448 400h2v1h-2zM460 400h3v1h-3zM466 400h1v1h-1zM494 400h1v1h-1zM445 401h1v1h-1zM461 401h2v1h-2zM466 401h1v1h-1zM494 401h1v1h-1zM444 402h2v1h-2zM451 402h1v1h-1zM466 402h1v1h-1zM473 402h1v1h-1zM478 402h1v1h-1zM488 402h1v1h-1zM495 402h1v1h-1zM422 403h1v1h-1zM424 403h2v1h-2zM439 403h1v1h-1zM445 403h1v1h-1zM447 403h1v1h-1zM459 403h1v1h-1zM473 403h1v1h-1zM478 403h1v1h-1zM495 403h2v1h-2zM424 404h3v1h-3zM438 404h2v1h-2zM459 404h1v1h-1zM495 404h2v1h-2zM439 405h1v1h-1zM464 405h1v1h-1zM494 405h2v1h-2zM414 406h1v1h-1zM432 406h1v1h-1zM439 406h1v1h-1zM453 406h1v1h-1zM458 406h1v1h-1zM463 406h2v1h-2zM470 406h3v1h-3zM493 406h2v1h-2zM503 406h1v1h-1zM410 407h1v1h-1zM415 407h2v1h-2zM440 407h2v1h-2zM452 407h1v1h-1zM457 407h2v1h-2zM464 407h1v1h-1zM411 408h2v1h-2zM435 408h1v1h-1zM455 408h3v1h-3zM464 408h1v1h-1zM471 408h1v1h-1zM487 408h1v1h-1zM502 408h1v1h-1zM412 409h1v1h-1zM415 409h2v1h-2zM427 409h1v1h-1zM450 409h1v1h-1zM453 409h1v1h-1zM470 409h2v1h-2zM424 410h3v1h-3zM431 410h1v1h-1zM452 410h2v1h-2zM474 410h1v1h-1zM496 410h1v1h-1zM499 410h1v1h-1zM419 411h1v1h-1zM431 411h1v1h-1zM452 411h1v1h-1zM455 411h1v1h-1zM491 411h1v1h-1zM496 411h2v1h-2zM499 411h2v1h-2zM422 412h2v1h-2zM442 412h1v1h-1zM482 412h2v1h-2zM410 413h1v1h-1zM421 413h3v1h-3zM480 413h1v1h-1zM488 413h1v1h-1zM504 413h3v1h-3zM418 414h2v1h-2zM422 414h1v1h-1zM486 414h3v1h-3zM418 415h3v1h-3zM435 415h2v1h-2zM450 415h2v1h-2zM496 415h1v1h-1zM414 416h1v1h-1zM419 416h1v1h-1zM426 416h3v1h-3zM446 416h1v1h-1zM449 416h1v1h-1zM464 416h1v1h-1zM481 416h1v1h-1zM492 416h1v1h-1zM496 416h1v1h-1zM410 417h1v1h-1zM414 417h1v1h-1zM455 417h1v1h-1zM491 417h2v1h-2zM447 418h2v1h-2zM454 418h3v1h-3zM465 418h2v1h-2zM484 418h1v1h-1zM489 418h4v1h-4zM414 419h2v1h-2zM421 419h1v1h-1zM448 419h1v1h-1zM456 419h1v1h-1zM465 419h2v1h-2zM471 419h1v1h-1zM479 419h1v1h-1zM486 419h1v1h-1zM493 419h1v1h-1zM506 419h1v1h-1zM415 420h1v1h-1zM421 420h2v1h-2zM471 420h1v1h-1zM477 420h3v1h-3zM481 420h1v1h-1zM421 421h3v1h-3zM458 421h1v1h-1zM478 421h1v1h-1zM494 421h2v1h-2zM419 422h4v1h-4zM434 422h1v1h-1zM495 422h3v1h-3zM506 422h1v1h-1zM421 423h2v1h-2zM428 423h1v1h-1zM467 423h1v1h-1zM488 423h1v1h-1zM496 423h1v1h-1zM506 423h1v1h-1zM416 424h2v1h-2zM463 424h1v1h-1zM468 424h1v1h-1zM487 424h1v1h-1zM416 425h2v1h-2zM448 425h2v1h-2zM481 425h1v1h-1zM419 426h1v1h-1zM448 426h2v1h-2zM480 426h2v1h-2zM503 426h1v1h-1zM419 427h1v1h-1zM447 427h2v1h-2zM453 427h2v1h-2zM457 427h1v1h-1zM469 427h2v1h-2zM481 427h2v1h-2zM502 427h3v1h-3zM411 428h2v1h-2zM432 428h2v1h-2zM448 428h1v1h-1zM453 428h2v1h-2zM457 428h1v1h-1zM468 428h3v1h-3zM479 428h1v1h-1zM503 428h1v1h-1zM505 428h2v1h-2z"/>
<path fill="#8000ff" d="M430 399h1v1h-1zM435 399h1v1h-1zM439 399h1v1h-1zM449 399h1v1h-1zM455 399h4v1h-4zM432 400h1v1h-1zM439 400h1v1h-1zM445 400h1v1h-1zM449 400h5v1h-5zM428 401h1v1h-1zM432 401h1v1h-1zM439 401h1v1h-1zM445 401h1v1h-1zM451 401h4v1h-4zM461 401h1v1h-1zM454 402h2v1h-2zM461 402h2v1h-2zM431 403h1v1h-1zM437 403h1v1h-1zM460 403h3v1h-3zM466 403h1v1h-1zM437 404h1v1h-1zM460 404h1v1h-1zM437 405h2v1h-2zM440 405h1v1h-1zM437 406h1v1h-1zM449 406h1v1h-1zM464 406h1v1h-1zM444 407h1v1h-1zM449 407h2v1h-2zM461 407h2v1h-2zM446 408h1v1h-1zM450 408h1v1h-1zM460 408h2v1h-2zM438 409h1v1h-1zM446 409h1v1h-1zM448 409h1v1h-1zM437 410h2v1h-2zM448 410h2v1h-2zM454 410h4v1h-4zM437 411h2v1h-2zM449 411h1v1h-1zM454 411h3v1h-3zM437 412h2v1h-2zM444 412h2v1h-2zM449 412h1v1h-1zM456 412h1v1h-1zM434 413h3v1h-3zM444 413h2v1h-2zM448 413h1v1h-1zM462 413h3v1h-3zM434 414h1v1h-1zM440 414h2v1h-2zM444 414h2v1h-2zM463 414h2v1h-2zM440 415h2v1h-2zM444 415h2v1h-2zM457 415h2v1h-2zM431 416h1v1h-1zM445 416h1v1h-1zM457 416h3v1h-3zM447 417h1v1h-1zM455 417h4v1h-4zM446 418h3v1h-3zM455 418h3v1h-3zM427 419h1v1h-1zM446 419h4v1h-4zM451 419h2v1h-2zM456 419h1v1h-1zM459 419h3v1h-3zM427 420h2v1h-2zM433 420h2v1h-2zM444 420h3v1h-3zM451 420h1v1h-1zM459 420h2v1h-2zM462 420h1v1h-1zM433 421h2v1h-2zM440 421h2v1h-2zM445 421h1v1h-1zM460 421h1v1h-1zM433 422h1v1h-1zM437 422h1v1h-1zM451 422h2v1h-2zM459 422h2v1h-2zM437 423h1v1h-1zM446 423h1v1h-1zM449 423h6v1h-6zM459 423h2v1h-2zM440 424h1v1h-1zM449 424h6v1h-6zM459 424h1v1h-1zM440 425h3v1h-3zM445 425h1v1h-1zM450 425h1v1h-1zM452 425h1v1h-1zM441 426h1v1h-1zM446 426h1v1h-1zM456 426h1v1h-1zM462 426h2v1h-2zM437 427h1v1h-1zM451 427h2v1h-2zM456 427h2v1h-2zM460 427h5v1h-5zM427 428h1v1h-1zM453 428h1v1h-1zM459 428h8v1h-8z"/>
<path fill="#a4f99f" d="M413 352h1v1h-1zM415 355h1v1h-1zM412 357h2v1h-2zM448 357h1v1h-1zM428 358h1v1h-1zM448 358h1v1h-1zM427 359h1v1h-1zM448 359h1v1h-1zM420 360h2v1h-2zM426 360h2v1h-2zM447 360h2v1h-2zM412 361h1v1h-1zM421 361h1v1h-1zM443 361h2v1h-2zM447 361h1v1h-1zM411 362h2v1h-2zM421 362h1v1h-1zM433 362h1v1h-1zM421 363h2v1h-2zM428 363h2v1h-2zM433 363h1v1h-1zM448 363h1v1h-1zM427 364h3v1h-3zM433 364h2v1h-2zM446 364h2v1h-2zM428 365h1v1h-1zM446 365h2v1h-2zM410 366h2v1h-2zM449 366h1v1h-1zM410 367h1v1h-1zM436 367h1v1h-1zM449 367h2v1h-2zM410 368h1v1h-1zM436 368h1v1h-1zM449 368h2v1h-2zM413 369h1v1h-1zM427 369h2v1h-2zM446 369h3v1h-3zM412 370h3v1h-3zM418 370h1v1h-1zM427 370h1v1h-1zM445 370h3v1h-3zM412 371h2v1h-2zM445 371h2v1h-2zM422 373h1v1h-1zM440 374h1v1h-1zM451 374h1v1h-1zM439 375h2v1h-2zM411 376h1v1h-1zM421 376h1v1h-1zM443 376h1v1h-1zM421 377h1v1h-1zM442 378h1v1h-1zM416 379h1v1h-1zM433 379h1v1h-1zM415 380h1v1h-1zM428 381h1v1h-1zM446 382h1v1h-1z"/>
<path fill="#8000ff" d="M501 417h2v1h-2zM495 418h3v1h-3zM501 418h1v1h-1zM485 419h2v1h-2zM494 419h8v1h-8zM505 419h2v1h-2zM467 420h2v1h-2zM470 420h5v1h-5zM478 420h2v1h-2zM484 420h2v1h-2zM491 420h7v1h-7zM500 420h4v1h-4zM506 420h1v1h-1zM467 421h1v1h-1zM472 421h2v1h-2zM479 421h2v1h-2zM485 421h3v1h-3zM489 421h1v1h-1zM491 421h3v1h-3zM496 421h2v1h-2zM500 421h5v1h-5zM506 421h1v1h-1zM467 422h1v1h-1zM476 422h1v1h-1zM479 422h1v1h-1zM481 422h1v1h-1zM484 422h3v1h-3zM489 422h5v1h-5zM496 422h3v1h-3zM500 422h5v1h-5zM467 423h1v1h-1zM470 423h3v1h-3zM474 423h4v1h-4zM479 423h1v1h-1zM481 423h2v1h-2zM485 423h2v1h-2zM489 423h2v1h-2zM492 423h2v1h-2zM498 423h4v1h-4zM503 423h2v1h-2zM470 424h4v1h-4zM475 424h2v1h-2zM481 424h2v1h-2zM486 424h1v1h-1zM498 424h1v1h-1zM470 425h4v1h-4zM481 425h1v1h-1zM487 425h1v1h-1zM490 425h2v1h-2zM496 425h3v1h-3zM468 426h3v1h-3zM472 426h2v1h-2zM476 426h1v1h-1zM480 426h2v1h-2zM484 426h5v1h-5zM490 426h2v1h-2zM496 426h3v1h-3zM500 426h1v1h-1zM505 426h1v1h-1zM469 427h5v1h-5zM475 427h2v1h-2zM481 427h1v1h-1zM483 427h6v1h-6zM490 427h3v1h-3zM497 427h4v1h-4zM504 427h2v1h-2zM469 428h8v1h-8zM480 428h1v1h-1zM483 428h5v1h-5zM489 428h6v1h-6zM499 428h2v1h-2zM502 428h4v1h-4z"/>
</g>
<polygon fill="#fff" stroke="#000" stroke-width="2" stroke-linejoin="round" points="100,60 371,60 371,72 371,80 370.5,88 371,95 371.7,100 372.8,105.8 375.2,115.2 377.5,123.3 380.4,132.6 383.3,140.8 386.2,147.8 389.1,154.8 392.6,162.9 394,165.5 396.8,170 401.5,175 404.5,179.5 406,184 404.5,187.5 403.3,192 404,198 405.8,204 408,210 411,216 412.5,220 414,228.6 417,238.5 420.8,246.9 422.5,252 424.3,258.7 425,268.6 424.8,278.6 423.5,288.6 422,297 421,300.1 420.2,303.6 418.5,308.3 416,314.1 414.2,318.8 412.4,323.4 410.6,327.5 407.1,329.3 404.7,328.1 402.4,329.8 398.9,331.6 394.3,331 390.2,331 387.3,332.2 383.2,331.6 380.9,329.3 380.9,325.8 383.2,323.4 381.4,320 379.7,315.3 377.4,310.6 375,306.5 373.3,302.5 368.6,299.6 362.8,297.8 359.3,296.6 356.4,290.8 355,283 354.5,277 353,273 349,273.5 345,275 342,274 340,271 339.5,266 338.5,261 336.5,256.5 333.5,251 330.5,245 328,241 326.5,237 324,233 321,230 319,226.5 320.5,220.5 318.5,219 317,216 314.5,213 314,209 315.5,205 316.5,200 317.5,195 319.5,190 321.5,185 322.5,180 322,175 323,171 322.5,166 319,162 317.5,157 316,153 310,152.8 307,153 305,150 302,145.5 299,141.5 295,138.5 292,135 292,131 288,129 285,126 283,122 279,118.5 275,116 271,114 267,111.8 259,112 255,113.5 252,116 250,118.5 247,120 243,122.5 239,125 235,127 234,125 232,126 228,128 223,129 217.5,129 216.5,123.5 214.5,120.5 212,117.8 209,116 206,115.5 201,111.9 196,107.9 191,104.4 186,101.9 181,100.1 176,98.7 170,98.1 160,98.7 153,99.4 146,100.2 140,100.9 136,101.7 130,102.9 125,104.1 120,104.9 118.5,101.5 117,98.5 114.5,97 113.5,94 113,89 111,85.5 100,85.5"/>
<polygon fill="#fff" stroke="#000" stroke-width="2" stroke-linejoin="round" points="498.5,329.5 500,331 502.5,331.5 505,330 512,329.5 512,374 506.5,372 504,370 502,367 500,364 498,362 494.5,360 491,357.5 489.5,354.5 492,352 494.5,349 496.5,346 498.5,343 499.5,339 499,334"/>
<polygon fill="#fff" stroke="#000" stroke-width="2" stroke-linejoin="round" points="466.2,261.9 470.3,266.5 474.4,270 477.3,271.8 480.2,271.2 484.3,269.5 487.8,267.7 490.1,267.1 494.7,266.5 500.6,265.4 512,264.2 512,262.5 500.6,263 494.7,263.6 490.1,264.2 487.2,263.6 484.8,261.3 483.1,258.4 481.3,261.3 480.8,263 478.4,267.1 475,267.7 471.4,264.8 467.4,261.3"/>
<polygon fill="#fff" stroke="#000" stroke-width="2" stroke-linejoin="round" points="300,440 300,427 320,425.8 325,425 330,421.6 336.6,419.6 345,419.1 353.3,420.3 360,420 365,421.6 371.6,422.4 376.6,420.8 381.6,418.3 386.6,417.5 390,415.8 393.2,417.5 398.2,419.1 403.2,420 408.2,421.2 414,423 420,425.5 427,428.5 427,440"/>
<polygon fill="#376ff9" shape-rendering="crispEdges" points="318.6,220.3 320.5,220.5 322.5,216.5 324.5,212 326,212.8 326.7,209 329,208 331.5,209 331.2,213 327.8,217 325.3,221 323.5,224.5 321.5,227.5 319,226.5 317.8,225.5"/>
<polygon fill="#376ff9" shape-rendering="crispEdges" points="339,253 341.5,253.5 344,252.5 344.8,260 345.3,266 346.3,271 344.5,273.5 341.5,271 340.3,262"/>
<polygon fill="#ff6f39" stroke="#000" stroke-width="2.2" stroke-linejoin="round" points="138.9,100.9 139.9,98.4 142.9,96.9 144.4,94.5 142.4,90.5 144.4,92 145.9,95 147.4,93.5 148.4,89.5 150.9,90.5 149.9,93.5 151.9,95.5 154.4,96.4 153.9,97.9 153,99.4 146,100.2"/>
<polygon fill="#edc76f" stroke="#000" stroke-width="2.2" stroke-linejoin="round" points="167,95.4 170,94.4 174,94 178,94 181,95 184.5,96 185.5,98 182,97.6 177,96.6 172,96.2 167,96.6"/>
<polygon fill="#ffffff" stroke="#000" stroke-width="2.2" stroke-linejoin="round" points="195,104.4 198.5,102.4 201,103.9 205,101.4 207,102.9 204,106.4 202,107.9 205,110.4 209,109.4 210,111.9 213.5,113.4 212,115.9 208,114.9 203,112 198,108"/>
<polygon fill="#376ff9" shape-rendering="crispEdges" points="213.5,120 215.5,122 216.5,125 216.8,128.5 214.5,128.5 213.2,125"/>
<polygon fill="#a4f99f" stroke="#000" stroke-width="2.2" stroke-linejoin="round" points="361.5,145 363,144.5 365,147 366,150.5 364.5,152 362.5,151 361.3,148"/>
<polygon fill="#a4f99f" stroke="#000" stroke-width="2.2" stroke-linejoin="round" points="360.5,176 362.5,174.8 364.8,176 365.3,178.5 363.5,180.3 361,179.8 360,178"/>
<polygon fill="#a4f99f" stroke="#000" stroke-width="2.2" stroke-linejoin="round" points="373.8,206.3 376.3,205 378.1,207.5 380,215 378.1,212.5 375,211.9 373.8,208.8"/>
<polygon fill="#ff0000" stroke="#000" stroke-width="2.2" stroke-linejoin="round" points="374,231.5 376,230 378.2,231.5 378.5,234 376.5,236.2 374.5,235.5 373.7,233.5"/>
<polygon fill="#ff0000" stroke="#000" stroke-width="2.2" stroke-linejoin="round" points="383.8,251.3 387.5,248.8 391.3,244.4 394.4,241.3 397.5,241.9 400.6,244.4 402.5,248.8 403.1,253.8 401.3,258.8 398.8,262.5 395.6,263.1 391.9,260 388.8,256.3 385.6,254.4"/>
<polygon fill="#a4f99f" shape-rendering="crispEdges" points="398,249 401,248.5 401.8,254 400.3,258.5 397,260.5 396.5,256 398.5,253"/>
<polygon fill="#ffffff" stroke="#000" stroke-width="1.6" stroke-linejoin="round" points="383.2,323.4 387.3,324 390.2,325.8 390.2,328.7 387.3,329.3 385,327.5"/>
<polygon fill="#ffffff" stroke="#000" stroke-width="2.2" stroke-linejoin="round" points="393,169.5 395.5,168 401.5,175 404.5,179.5 405.5,184 404.3,187.5 403.3,192 403.8,198 405,203.5 404,204 401.5,197 399,190 396.5,183 394.5,176"/>
<polyline fill="none" stroke="#000" stroke-width="1.5" stroke-linejoin="round" stroke-linecap="round" points="125.5,66 125,77 127.5,80 130,84 133.5,86 133.5,90 132,93 134,96 135.5,96.5 133.5,100 130,101.5 126,101 126.5,104"/>
<polyline fill="none" stroke="#000" stroke-width="1.5" stroke-linejoin="round" stroke-linecap="round" points="228.3,66 230.8,77 231.6,82.8 234.1,83.6 310,89.1 320,90 338.5,91 339.5,99 341,100.3 345.5,100 346,85 347,81.5 350,79.5 354,80.5 360,83 366,85.2 369,85.5"/>
<polyline fill="none" stroke="#000" stroke-width="1.5" stroke-linejoin="round" stroke-linecap="round" points="234.1,83.6 237,81.5 239.5,79 241.6,76.2"/>
<polyline fill="none" stroke="#000" stroke-width="1.5" stroke-linejoin="round" stroke-linecap="round" points="239.5,79 242,80.5"/>
<polyline fill="none" stroke="#000" stroke-width="2" stroke-linejoin="round" stroke-linecap="round" points="104,106.2 120,104.9"/>
<polyline fill="none" stroke="#000" stroke-width="2" stroke-linejoin="round" stroke-linecap="round" points="320.5,220.5 322.5,216.5 324.5,212 326,212.8 326.7,209 329,208 331.5,209 331.2,213 327.8,217 325.3,221 323.5,224.5 321.5,227.5 319,226.5"/>
<polyline fill="none" stroke="#000" stroke-width="2" stroke-linejoin="round" stroke-linecap="round" points="320.5,204 324,205.5 326,207 326.7,209"/>
<polyline fill="none" stroke="#000" stroke-width="2" stroke-linejoin="round" stroke-linecap="round" points="319.5,207 321.5,208 324,209 325,211"/>
<polyline fill="none" stroke="#000" stroke-width="2" stroke-linejoin="round" stroke-linecap="round" points="318.5,227 320,230.5 323,234 325.5,237"/>
<polyline fill="none" stroke="#000" stroke-width="2" stroke-linejoin="round" stroke-linecap="round" points="336.5,249 339,251 341.5,253 343.5,252 347,251 348.5,249.5"/>
<polyline fill="none" stroke="#000" stroke-width="2" stroke-linejoin="round" stroke-linecap="round" points="343.5,253 344.5,260 345,266 346,271 347,272.5"/>
<polyline fill="none" stroke="#000" stroke-width="2" stroke-linejoin="round" stroke-linecap="round" points="347,272 350,267 353,264 356.5,263"/>
<polyline fill="none" stroke="#000" stroke-width="2" stroke-linejoin="round" stroke-linecap="round" points="211.5,117.5 212.2,122 212.8,127 214,129.7 217.5,130"/>
<polyline fill="none" stroke="#000" stroke-width="2" stroke-linejoin="round" stroke-linecap="round" points="217.5,130 222,132 226,134 229.5,134 233,132 238,129.5 243,126.5 246,124.5"/>
<polyline fill="none" stroke="#000" stroke-width="2" stroke-linejoin="round" stroke-linecap="round" points="381.6,351.6 388.2,349.6 393.6,347 398.9,343.6 404.2,339 408.2,334.3 411.5,329 413.5,325 415,320"/>
<polyline fill="none" stroke="#000" stroke-width="2" stroke-linejoin="round" stroke-linecap="round" points="322,165.5 323.3,168 322.8,173"/>
<polyline fill="none" stroke="#000" stroke-width="2" stroke-linejoin="round" stroke-linecap="round" points="338,428 341.5,422.5 345,423.3"/>
<polyline fill="none" stroke="#000" stroke-width="2" stroke-linejoin="round" stroke-linecap="round" points="360,420 359,423.5 361,427"/>
<polyline fill="none" stroke="#000" stroke-width="2" stroke-linejoin="round" stroke-linecap="round" points="370,423 376.6,420.8"/>
<polyline fill="none" stroke="#000" stroke-width="2" stroke-linejoin="round" stroke-linecap="round" points="386.6,417.5 392,421 398,419.5"/>
<polyline fill="none" stroke="#000" stroke-width="2" stroke-linejoin="round" stroke-linecap="round" points="392,421 396,424 402,422 408,424"/>
<polyline fill="none" stroke="#000" stroke-width="2" stroke-linejoin="round" stroke-linecap="round" points="500,364 502,360 504,357 506.5,355.5"/>
<polyline fill="none" stroke="#000" stroke-width="2" stroke-linejoin="round" stroke-linecap="round" points="397,172 399.5,176.5 400.5,181 401.5,186 402,191 403.5,197"/>
<polyline fill="none" stroke="#000" stroke-width="2" stroke-linejoin="round" stroke-linecap="round" points="394.5,171 396,174 397.5,179 399.5,185"/>
<polyline fill="none" stroke="#000" stroke-width="2" stroke-linejoin="round" stroke-linecap="round" points="360,137.5 360.5,141 361.5,145"/>
<polyline fill="none" stroke="#000" stroke-width="2" stroke-linejoin="round" stroke-linecap="round" points="198.5,104 203,106.5 207,108.5 211,112"/>
<polyline fill="none" stroke="#000" stroke-width="2" stroke-linejoin="round" stroke-linecap="round" points="416.5,314 415.5,320 413.8,326"/>
<polyline fill="none" stroke="#000" stroke-width="3" stroke-linejoin="round" stroke-linecap="round" points="355,358.3 360.3,356.3 364.3,353.6 368.3,351.6 372.3,352.3 376.3,353.6"/>
<polyline fill="none" stroke="#000" stroke-width="3" stroke-linejoin="round" stroke-linecap="round" points="442.5,401.9 446.1,406.1"/>
<polyline fill="none" stroke="#000" stroke-width="3" stroke-linejoin="round" stroke-linecap="round" points="400,420.5 407,419.5 413,421.5 419,423 425,425.5 427.5,427.5"/>
<polyline fill="none" stroke="#000" stroke-width="3" stroke-linejoin="round" stroke-linecap="round" points="492.5,353 496.5,354.5 495.5,358"/>
<polyline fill="none" stroke="#000" stroke-width="3" stroke-linejoin="round" stroke-linecap="round" points="322.5,224.5 325,226"/>
<polyline fill="none" stroke="#000" stroke-width="3.5" stroke-linejoin="round" stroke-linecap="round" points="358,295.5 362.8,297.8 368.6,299.6 372.5,301.5"/>
<polyline fill="none" stroke="#000" stroke-width="3.2" stroke-linejoin="round" stroke-linecap="round" points="369,72 368.6,78.7 368.3,83.6 369,94"/>
<circle cx="342.3" cy="357.6" r="1.6" fill="#000"/>
<circle cx="455.7" cy="306.1" r="1.9" fill="#000"/>
<circle cx="455.5" cy="314.2" r="1.4" fill="#000"/>
<g shape-rendering="crispEdges">
<path fill="#ff0000" d="M359 165h1v1h-1zM355 167h2v1h-2zM354 170h3v1h-3zM352 171h1v1h-1zM355 171h2v1h-2zM359 171h1v1h-1zM355 172h1v1h-1zM359 173h1v1h-1z"/>
<path fill="#ff0000" d="M371 190h1v1h-1zM379 192h2v1h-2zM377 193h4v1h-4zM377 194h3v1h-3zM374 195h1v1h-1zM377 195h2v1h-2zM371 197h1v1h-1zM378 197h3v1h-3zM375 200h1v1h-1z"/>
<path fill="#ff0000" d="M362 199h1v1h-1zM351 200h1v1h-1zM358 200h1v1h-1zM358 201h1v1h-1zM350 202h1v1h-1zM354 202h2v1h-2zM354 203h2v1h-2z"/>
<path fill="#ff0000" d="M369 211h2v1h-2zM372 211h2v1h-2zM365 212h1v1h-1zM369 212h1v1h-1zM373 212h1v1h-1zM364 213h1v1h-1zM373 213h1v1h-1zM363 214h1v1h-1zM363 215h1v1h-1zM364 216h1v1h-1zM363 217h1v1h-1zM368 217h1v1h-1zM368 218h2v1h-2zM368 219h1v1h-1z"/>
<path fill="#ff0000" d="M360 179h3v1h-3zM363 182h1v1h-1zM360 183h1v1h-1zM362 183h1v1h-1z"/>
<path fill="#ff0000" d="M401 215h1v1h-1zM401 216h1v1h-1zM400 217h2v1h-2zM401 218h1v1h-1z"/>
<path fill="#ff0000" d="M373 228h1v1h-1zM367 229h1v1h-1zM367 233h2v1h-2zM368 234h1v1h-1zM372 238h1v1h-1z"/>
<path fill="#ff0000" d="M366 138h2v1h-2zM367 141h1v1h-1zM369 142h1v1h-1z"/>
<path fill="#ff0000" d="M498 325h1v1h-1zM496 326h1v1h-1zM498 327h1v1h-1z"/>
<path fill="#ff0000" d="M497 330h1v1h-1zM499 330h1v1h-1zM499 331h1v1h-1zM497 333h2v1h-2zM497 334h3v1h-3zM498 336h1v1h-1zM498 338h1v1h-1zM498 339h2v1h-2z"/>
<path fill="#ff0000" d="M498 341h1v1h-1zM497 342h1v1h-1zM497 343h1v1h-1zM494 344h2v1h-2zM494 345h1v1h-1zM493 346h2v1h-2zM493 347h2v1h-2zM491 348h3v1h-3zM490 349h3v1h-3zM491 350h1v1h-1zM488 351h2v1h-2zM490 352h1v1h-1z"/>
<path fill="#ff0000" d="M489 354h1v1h-1zM489 356h1v1h-1zM490 357h1v1h-1zM491 358h3v1h-3zM492 359h1v1h-1zM494 359h1v1h-1zM495 360h1v1h-1zM494 361h2v1h-2zM499 365h1v1h-1zM498 366h1v1h-1zM499 367h1v1h-1zM501 367h1v1h-1zM503 369h1v1h-1z"/>
<path fill="#ff0000" d="M504 344h2v1h-2zM501 345h1v1h-1zM504 345h2v1h-2zM506 347h1v1h-1zM506 348h1v1h-1zM501 353h1v1h-1zM501 362h2v1h-2z"/>
<path fill="#ff0000" d="M506 354h1v1h-1zM502 356h1v1h-1zM504 358h1v1h-1zM504 359h2v1h-2zM504 360h2v1h-2zM504 361h1v1h-1zM503 362h1v1h-1zM505 364h1v1h-1zM503 365h3v1h-3zM504 366h2v1h-2z"/>
<path fill="#ff0000" d="M412 323h1v1h-1zM406 329h1v1h-1zM404 330h1v1h-1zM404 331h1v1h-1z"/>
<path fill="#ff0000" d="M398 336h2v1h-2zM397 337h2v1h-2zM401 337h1v1h-1zM397 339h1v1h-1zM399 339h2v1h-2z"/>
<path fill="#ff0000" d="M483 256h1v1h-1zM482 257h1v1h-1zM482 258h1v1h-1zM476 259h1v1h-1zM478 259h1v1h-1zM482 259h2v1h-2zM485 259h1v1h-1zM476 260h1v1h-1zM482 261h2v1h-2zM487 261h1v1h-1zM483 262h1v1h-1zM486 262h1v1h-1zM483 263h1v1h-1zM482 264h2v1h-2z"/>
<path fill="#ff0000" d="M340 119h1v1h-1zM347 123h1v1h-1zM353 125h1v1h-1zM339 132h1v1h-1zM342 137h1v1h-1zM340 139h1v1h-1zM371 148h1v1h-1zM370 156h1v1h-1zM349 159h1v1h-1zM364 78h1v1h-1zM368 87h1v1h-1zM362 99h1v1h-1zM369 98h1v1h-1zM247 96h1v1h-1zM223 125h1v1h-1zM334 222h1v1h-1zM367 85h1v1h-1zM380 305h1v1h-1zM410 298h1v1h-1zM369 325h1v1h-1zM499 294h1v1h-1z"/>
<path fill="#ff6f39" d="M330 106h1v1h-1zM344 127h1v1h-1z"/>
<polyline fill="none" stroke="#ff0000" stroke-width="1.2" stroke-dasharray="2,1,1,1" points="359.9,103.6 360.7,107.8 359.6,111.1 360.7,114.4 363.6,116.9 364.1,121.9 365.7,126.1 363.2,130.2"/>
<polyline fill="none" stroke="#fff" stroke-width="1" stroke-dasharray="2,1.5" points="364,352.2 367,350.6 370.5,350.8"/>
</g>
<line x1="150.5" y1="72.5" x2="150.5" y2="428.5" stroke="#808080" stroke-width="1.39" stroke-dasharray="1.39,2.29" stroke-opacity="0.62"/>
<line x1="190" y1="72.5" x2="190" y2="428.5" stroke="#808080" stroke-width="1.39" stroke-dasharray="1.39,2.29" stroke-opacity="0.62"/>
<line x1="229.5" y1="72.5" x2="229.5" y2="428.5" stroke="#808080" stroke-width="1.39" stroke-dasharray="1.39,2.29" stroke-opacity="0.62"/>
<line x1="269" y1="72.5" x2="269" y2="428.5" stroke="#808080" stroke-width="1.39" stroke-dasharray="1.39,2.29" stroke-opacity="0.62"/>
<line x1="308.5" y1="72.5" x2="308.5" y2="428.5" stroke="#808080" stroke-width="1.39" stroke-dasharray="1.39,2.29" stroke-opacity="0.62"/>
<line x1="348.4" y1="72.5" x2="348.4" y2="428.5" stroke="#808080" stroke-width="1.39" stroke-dasharray="1.39,2.29" stroke-opacity="0.62"/>
<line x1="387.5" y1="72.5" x2="387.5" y2="428.5" stroke="#808080" stroke-width="1.39" stroke-dasharray="1.39,2.29" stroke-opacity="0.62"/>
<line x1="427" y1="72.5" x2="427" y2="428.5" stroke="#808080" stroke-width="1.39" stroke-dasharray="1.39,2.29" stroke-opacity="0.62"/>
<line x1="466.5" y1="72.5" x2="466.5" y2="428.5" stroke="#808080" stroke-width="1.39" stroke-dasharray="1.39,2.29" stroke-opacity="0.62"/>
<line x1="110.5" y1="116.6" x2="506.5" y2="116.6" stroke="#808080" stroke-width="1.39" stroke-dasharray="1.39,2.29" stroke-opacity="0.62"/>
<line x1="110.5" y1="161" x2="506.5" y2="161" stroke="#808080" stroke-width="1.39" stroke-dasharray="1.39,2.29" stroke-opacity="0.62"/>
<line x1="110.5" y1="205.4" x2="506.5" y2="205.4" stroke="#808080" stroke-width="1.39" stroke-dasharray="1.39,2.29" stroke-opacity="0.62"/>
<line x1="110.5" y1="249.9" x2="506.5" y2="249.9" stroke="#808080" stroke-width="1.39" stroke-dasharray="1.39,2.29" stroke-opacity="0.62"/>
<line x1="110.5" y1="294.3" x2="506.5" y2="294.3" stroke="#808080" stroke-width="1.39" stroke-dasharray="1.39,2.29" stroke-opacity="0.62"/>
<line x1="110.5" y1="339" x2="506.5" y2="339" stroke="#808080" stroke-width="1.39" stroke-dasharray="1.39,2.29" stroke-opacity="0.62"/>
<line x1="110.5" y1="383.3" x2="506.5" y2="383.3" stroke="#808080" stroke-width="1.39" stroke-dasharray="1.39,2.29" stroke-opacity="0.62"/>
</g>
<rect x="110.5" y="72.5" width="396" height="356" fill="none" stroke="#000" stroke-width="1.1"/>
<rect x="110.5" y="465.5" width="49.5" height="23.8" fill="#8000ff" shape-rendering="crispEdges"/>
<rect x="160" y="465.5" width="49.5" height="23.8" fill="#376ff9" shape-rendering="crispEdges"/>
<rect x="209.5" y="465.5" width="49.5" height="23.8" fill="#12c7e6" shape-rendering="crispEdges"/>
<rect x="259" y="465.5" width="49.5" height="23.8" fill="#5bf9c7" shape-rendering="crispEdges"/>
<rect x="308.5" y="465.5" width="49.5" height="23.8" fill="#a4f99f" shape-rendering="crispEdges"/>
<rect x="358" y="465.5" width="49.5" height="23.8" fill="#edc76f" shape-rendering="crispEdges"/>
<rect x="407.5" y="465.5" width="49.5" height="23.8" fill="#ff6f39" shape-rendering="crispEdges"/>
<rect x="457" y="465.5" width="49.5" height="23.8" fill="#ff0000" shape-rendering="crispEdges"/>
<rect x="110.5" y="465.5" width="396" height="23.8" fill="none" stroke="#000" stroke-width="1.1"/>
<line x1="135.25" y1="489.3" x2="135.25" y2="494.2" stroke="#000" stroke-width="1.1"/>
<text x="135.25" y="510.2" font-size="13.89" text-anchor="middle" fill="#000">0</text>
<line x1="184.75" y1="489.3" x2="184.75" y2="494.2" stroke="#000" stroke-width="1.1"/>
<text x="184.75" y="510.2" font-size="13.89" text-anchor="middle" fill="#000">1</text>
<line x1="234.25" y1="489.3" x2="234.25" y2="494.2" stroke="#000" stroke-width="1.1"/>
<text x="234.25" y="510.2" font-size="13.89" text-anchor="middle" fill="#000">2</text>
<line x1="283.75" y1="489.3" x2="283.75" y2="494.2" stroke="#000" stroke-width="1.1"/>
<text x="283.75" y="510.2" font-size="13.89" text-anchor="middle" fill="#000">3</text>
<line x1="333.25" y1="489.3" x2="333.25" y2="494.2" stroke="#000" stroke-width="1.1"/>
<text x="333.25" y="510.2" font-size="13.89" text-anchor="middle" fill="#000">4</text>
<line x1="382.75" y1="489.3" x2="382.75" y2="494.2" stroke="#000" stroke-width="1.1"/>
<text x="382.75" y="510.2" font-size="13.89" text-anchor="middle" fill="#000">5</text>
<line x1="432.25" y1="489.3" x2="432.25" y2="494.2" stroke="#000" stroke-width="1.1"/>
<text x="432.25" y="510.2" font-size="13.89" text-anchor="middle" fill="#000">6</text>
<line x1="481.75" y1="489.3" x2="481.75" y2="494.2" stroke="#000" stroke-width="1.1"/>
<text x="481.75" y="510.2" font-size="13.89" text-anchor="middle" fill="#000">7</text>
<text x="308.5" y="530.4" font-size="15.28" text-anchor="middle" fill="#000">Data Age (days)</text>
<text x="307.8" y="37.3" font-size="22.22" text-anchor="middle" fill="#000">Chlorophyll Data Age</text>
<text x="308.3" y="64.0" font-size="22.22" text-anchor="middle" fill="#000">20260422</text>
</svg></body></html>
